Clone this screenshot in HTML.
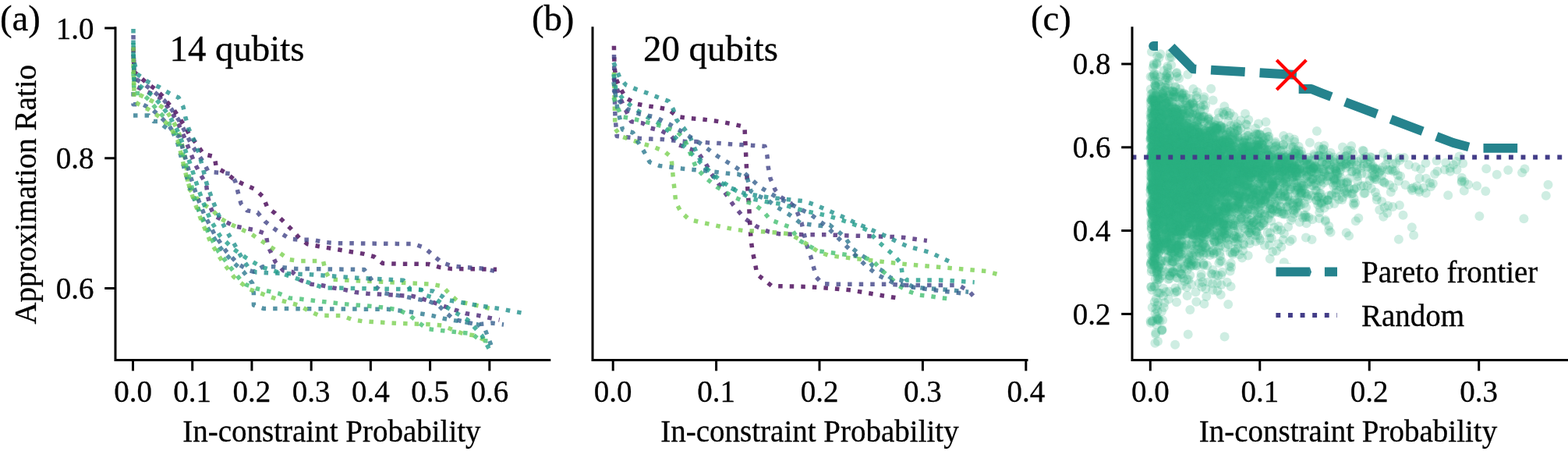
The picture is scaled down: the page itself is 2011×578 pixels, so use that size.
<!DOCTYPE html>
<html><head><meta charset="utf-8"><title>Figure</title>
<style>
html,body{margin:0;padding:0;background:#fff;overflow:hidden}
svg{display:block}
.t{font-family:'Liberation Serif', 'Times New Roman', serif;font-size:39px;fill:#000;stroke:#000;stroke-width:0.3px}
circle{r:6px}
.L{font-family:'Liberation Serif', 'Times New Roman', serif;font-size:46.8px;fill:#000;stroke:#000;stroke-width:0.3px}
</style></head><body>
<svg width="2011" height="578" viewBox="0 0 2011 578">
<defs>
<clipPath id="ca"><rect x="148.0" y="0" width="556.8" height="461.5"/></clipPath>
<clipPath id="cb"><rect x="760.0" y="0" width="557.0" height="461.5"/></clipPath>
<clipPath id="cc"><rect x="1452.0" y="35.8" width="561.0" height="425.7"/></clipPath>
</defs>
<rect width="2011" height="578" fill="#fff"/>
<g clip-path="url(#ca)" fill="none" stroke-width="5.5" stroke-dasharray="5.50 9.07" stroke-linejoin="round" opacity="1">
<path d="M171.0 62.0 L172.0 92.0 L187.7 106.0 L199.8 114.6 L208.4 123.3 L215.4 131.9 L224.0 142.3 L231.0 152.7 L237.9 163.0 L243.0 172.7 L251.7 183.8 L260.8 197.4 L275.0 200.8 L277.5 214.9 L289.6 221.4 L301.7 231.1 L313.8 236.7 L327.1 242.5 L337.5 252.2 L342.8 265.7 L353.0 273.5 L363.6 283.8 L373.3 293.4 L383.9 305.0 L394.4 312.9 L409.2 315.7 L452.0 323.0 L466.6 325.4 L479.9 329.0 L490.8 337.5 L505.8 338.0 L549.6 338.5 L563.5 342.4 L578.2 344.4 L637.0 345.3" stroke="#440154" stroke-opacity="0.8"/>
<path d="M171.0 45.0 L172.0 100.0 L185.0 108.0 L198.0 118.0 L210.0 128.0 L220.0 140.0 L230.0 155.0 L238.0 170.0 L246.0 186.0 L254.0 198.0 L260.5 207.0 L267.3 220.2 L281.8 221.4 L295.6 222.6 L301.7 232.3 L305.3 246.8 L309.0 260.9 L316.9 269.8 L330.2 272.2 L339.7 283.6 L350.7 292.5 L361.5 299.7 L372.0 306.3 L387.2 307.3 L401.2 307.3 L415.0 310.2 L429.0 311.6 L530.7 312.6 L544.3 317.4 L554.9 326.6 L566.2 336.2 L578.8 340.6 L593.5 342.4 L622.4 344.4 L637.0 348.2" stroke="#414487" stroke-opacity="0.8"/>
<path d="M171.0 70.0 L173.0 110.0 L190.0 118.0 L205.0 125.0 L216.0 138.0 L226.0 153.0 L234.0 170.0 L242.0 190.0 L250.0 210.0 L258.0 225.0 L264.5 235.9 L266.2 250.4 L269.5 264.5 L274.4 276.0 L287.5 283.3 L300.7 289.8 L314.8 292.5 L328.7 295.1 L341.1 299.7 L343.4 314.8 L353.3 335.9 L363.2 346.7 L374.7 348.4 L385.2 358.9 L399.3 364.2 L413.3 365.8 L427.8 369.0 L442.4 371.4 L456.4 374.6 L470.9 376.3 L485.2 377.0 L514.3 378.7 L528.8 379.4 L543.3 383.5 L556.1 387.6 L570.6 392.9 L584.1 397.4 L598.0 401.8 L612.6 404.1 L626.5 407.1 L640.6 410.0" stroke="#482475" stroke-opacity="0.8"/>
<path d="M171.0 82.0 L172.0 118.0 L186.0 125.0 L200.0 132.0 L212.0 140.0 L222.0 155.0 L230.0 172.0 L236.0 195.0 L240.0 220.0 L241.0 240.0 L251.4 253.0 L262.9 262.9 L272.7 269.5 L282.6 280.0 L295.8 287.5 L308.9 293.5 L322.1 299.7 L334.6 308.3 L346.7 316.2 L358.2 323.7 L370.7 332.6 L384.6 334.6 L414.5 334.4 L417.4 347.2 L423.0 358.1 L553.7 364.1 L567.6 367.0 L577.4 377.6 L587.6 386.5 L602.4 389.4 L615.6 392.4 L630.3 395.9" stroke="#7ad151" stroke-opacity="0.8"/>
<path d="M171.0 37.0 L171.0 75.0 L176.0 95.0 L190.0 105.0 L205.0 112.0 L218.0 120.0 L229.0 125.0 L235.0 137.0 L238.0 151.0 L242.0 165.0 L249.0 180.0 L255.0 196.0 L260.0 215.0 L265.0 235.0 L272.0 255.0 L280.0 275.0 L290.0 295.0 L300.0 312.0 L310.0 330.0 L320.0 345.0 L328.7 349.0 L401.2 352.0 L444.8 355.2 L459.3 356.2 L517.4 359.3 L525.9 370.2 L555.0 373.0 L567.0 379.7 L571.5 384.0 L585.3 386.5 L613.5 391.5 L643.0 395.9 L657.0 398.8 L675.0 402.0" stroke="#21918c" stroke-opacity="0.8"/>
<path d="M171.0 118.0 L171.0 133.8 L183.0 133.8 L195.0 140.0 L206.0 150.0 L216.0 160.0 L224.0 172.0 L230.0 175.0 L237.0 200.0 L244.0 225.0 L252.0 250.0 L262.0 275.0 L275.0 300.0 L290.0 322.0 L305.0 338.0 L318.0 346.0 L325.4 348.4 L336.9 341.8 L351.0 341.8 L379.6 344.4 L467.3 345.5 L473.8 354.5 L481.8 367.3 L492.0 375.5 L506.5 378.0 L521.0 380.4 L535.6 383.5 L550.0 386.0 L562.6 391.5 L571.5 400.3 L581.8 409.1 L598.0 413.0 L612.0 415.9 L631.0 414.0 L646.0 416.0" stroke="#355f8d" stroke-opacity="0.8"/>
<path d="M171.0 148.0 L191.0 148.0 L197.0 155.6 L203.0 155.6 L211.0 162.0 L222.0 170.0 L228.0 184.0 L232.0 200.0 L238.0 222.0 L245.0 245.0 L255.0 270.0 L268.0 295.0 L283.0 318.0 L298.0 335.0 L312.0 348.0 L320.0 358.0 L323.7 363.2 L325.4 376.3 L325.4 391.1 L337.9 395.4 L497.3 396.3 L511.8 398.0 L526.4 399.7 L540.9 402.2 L554.9 404.6 L569.0 408.2 L582.4 410.6 L598.0 413.0 L612.6 415.9 L622.4 423.0 L632.6 449.4" stroke="#2a788e" stroke-opacity="0.8"/>
<path d="M171.0 92.0 L172.0 119.5 L182.0 119.5 L191.0 128.0 L201.0 140.0 L212.0 152.0 L225.0 170.0 L232.0 190.0 L238.0 210.0 L244.0 232.0 L250.0 255.0 L258.0 278.0 L268.0 300.0 L280.0 322.0 L295.0 342.0 L308.0 358.0 L315.5 364.8 L328.7 369.8 L343.4 373.0 L358.2 376.3 L371.4 381.9 L382.9 382.9 L397.0 384.6 L440.5 389.5 L455.2 390.8 L484.2 393.2 L498.0 394.9 L511.8 397.3 L525.4 404.1 L536.8 413.3 L548.0 421.5 L576.5 424.7 L605.3 427.6 L615.6 436.2 L625.9 437.0" stroke="#44bf70" stroke-opacity="0.8"/>
<path d="M171.0 60.0 L172.0 130.0 L178.0 133.6 L190.0 140.0 L205.0 150.0 L218.0 162.0 L228.0 180.0 L234.0 205.0 L240.0 230.0 L248.0 255.0 L258.0 282.0 L270.0 310.0 L285.0 335.0 L300.0 355.0 L318.0 370.0 L340.0 378.0 L360.0 385.0 L382.9 391.1 L396.1 398.4 L409.2 404.3 L438.7 404.6 L451.3 409.4 L465.4 411.8 L508.9 414.3 L552.5 415.7 L566.5 417.0 L580.3 422.4 L593.5 427.6 L607.6 429.7 L621.5 435.6" stroke="#7ad151" stroke-opacity="0.8"/>
<path d="M171.0 55.0 L172.0 105.0 L182.0 112.0 L195.0 122.0 L207.0 135.0 L218.0 150.0 L228.0 168.0 L236.0 188.0 L244.0 210.0 L252.0 235.0 L260.0 258.0 L270.0 282.0 L282.0 302.0 L298.0 318.0 L315.0 330.0 L335.0 342.0 L360.0 350.0 L403.6 364.9 L415.7 369.0 L430.3 369.0 L518.1 370.7 L540.4 371.4 L542.8 377.5 L556.9 381.8 L575.0 395.0 L600.0 410.0 L618.0 430.0 L630.0 452.0" stroke="#1f9e89" stroke-opacity="0.8"/>
</g>
<g clip-path="url(#cb)" fill="none" stroke-width="5.5" stroke-dasharray="5.50 9.07" stroke-linejoin="round" opacity="1">
<path d="M787.4 58.7 L788.0 85.0 L790.0 101.0 L795.8 113.5 L802.7 125.5 L815.2 132.9 L829.0 135.7 L843.7 137.6 L857.5 140.4 L869.2 149.6 L883.6 151.5 L897.7 152.6 L912.7 154.3 L926.8 156.5 L941.2 159.3 L955.0 162.6 L955.6 177.3 L956.4 191.9 L957.0 206.3 L957.8 220.7 L958.4 236.1 L959.5 251.4 L960.7 264.7 L961.4 279.9 L962.2 293.2 L963.3 308.4 L965.2 322.5 L968.3 336.9 L970.9 351.4 L980.4 359.0 L990.0 366.6 L1033.7 367.4 L1063.0 369.3 L1091.5 371.9 L1120.4 376.9 L1149.7 381.8" stroke="#440154" stroke-opacity="0.8"/>
<path d="M787.0 100.0 L795.0 125.0 L809.6 155.9 L824.3 157.9 L834.6 164.2 L848.4 167.6 L860.9 174.5 L870.6 185.6 L885.8 191.1 L896.9 198.0 L905.2 209.7 L912.1 222.4 L920.4 234.0 L928.7 245.1 L940.0 262.0 L955.0 280.0 L970.9 290.5 L986.1 297.0 L999.4 299.7 L1029.9 300.8 L1060.3 300.8 L1087.7 301.9 L1116.2 302.7 L1145.9 303.5 L1160.0 304.6 L1174.4 306.5 L1188.9 308.4" stroke="#482475" stroke-opacity="0.8"/>
<path d="M787.5 70.0 L788.0 110.0 L789.0 150.0 L791.1 174.5 L805.5 175.9 L820.2 177.3 L834.6 178.1 L849.2 178.6 L863.6 180.0 L878.9 181.4 L892.7 181.4 L907.4 182.8 L921.8 183.6 L936.5 184.7 L950.9 185.6 L965.6 186.4 L981.0 187.5 L984.0 200.0 L985.2 213.7 L988.1 229.0 L994.3 243.6 L1001.4 252.5 L1013.9 260.1 L1022.3 271.5 L1028.0 285.6 L1034.4 313.4 L1039.4 327.4 L1043.2 341.5 L1047.0 355.2 L1054.6 363.6 L1069.8 364.3 L1142.1 364.3 L1157.3 365.5 L1229.6 365.5 L1242.9 373.1 L1251.6 383.3" stroke="#414487" stroke-opacity="0.8"/>
<path d="M787.5 92.8 L788.3 135.7 L788.9 164.8 L795.8 174.5 L809.6 179.2 L824.3 184.2 L838.2 188.3 L852.0 193.9 L860.9 201.4 L862.3 216.0 L863.6 230.4 L865.3 244.9 L866.8 259.4 L873.3 271.5 L883.7 281.2 L897.5 284.6 L912.1 287.7 L926.6 290.9 L941.1 293.8 L954.9 295.7 L969.4 296.2 L984.0 297.2 L998.5 298.2 L1013.0 299.9 L1027.1 307.8 L1038.0 315.1 L1049.7 322.5 L1063.0 327.4 L1077.4 329.3 L1106.0 332.4 L1135.2 335.8 L1163.8 338.8 L1193.4 341.5 L1222.0 343.8 L1250.5 346.4 L1265.0 347.6 L1279.0 351.4" stroke="#7ad151" stroke-opacity="0.8"/>
<path d="M787.0 80.0 L795.0 100.0 L802.7 108.8 L816.0 114.4 L829.8 119.1 L843.7 124.6 L857.5 129.6 L863.6 140.4 L867.8 153.7 L877.5 164.8 L885.8 177.3 L895.0 200.0 L910.0 222.0 L930.0 238.0 L955.0 248.0 L988.0 253.3 L1017.7 256.3 L1031.8 257.8 L1045.9 262.8 L1059.5 268.5 L1072.5 274.2 L1085.8 279.9 L1099.1 286.7 L1112.8 292.1 L1125.7 298.1 L1138.3 303.5 L1151.6 310.3 L1164.9 316.0 L1179.4 319.8 L1193.4 323.6 L1206.8 330.1 L1220.1 336.2" stroke="#21918c" stroke-opacity="0.8"/>
<path d="M787.0 95.0 L790.0 115.0 L800.0 128.0 L815.0 140.0 L830.0 150.0 L845.0 158.0 L860.0 170.0 L875.0 185.0 L890.0 200.0 L905.0 215.0 L925.0 232.0 L945.0 245.0 L965.0 255.0 L985.0 259.0 L1003.3 261.6 L1018.5 266.6 L1031.8 270.4 L1045.9 273.0 L1059.5 276.1 L1072.5 279.9 L1086.9 284.4 L1100.2 289.4 L1112.8 295.1 L1125.0 308.4 L1135.6 317.9 L1147.0 327.4 L1155.4 337.7 L1157.3 351.4 L1163.0 359.0 L1205.6 359.0 L1220.8 359.8 L1249.7 361.7" stroke="#1f9e89" stroke-opacity="0.8"/>
<path d="M787.0 105.0 L792.0 140.0 L798.5 166.2 L811.6 169.8 L818.0 181.4 L826.2 194.7 L833.2 207.7 L845.6 212.4 L859.5 214.1 L874.2 216.0 L888.6 217.4 L902.4 218.8 L916.3 220.2 L931.5 222.1 L946.0 223.1 L958.1 227.2 L963.0 245.0 L971.4 250.7 L983.5 255.5 L995.1 264.7 L1007.7 272.0 L1018.6 279.3 L1026.6 286.0 L1041.3 288.2 L1054.6 289.4 L1064.1 288.2 L1069.8 293.2 L1075.5 297.0 L1083.1 303.5 L1093.8 318.7 L1102.1 325.5 L1111.7 331.2 L1119.3 340.7 L1130.7 346.4 L1142.1 356.0 L1155.4 359.0 L1170.6 367.4 L1185.0 369.3 L1213.6 371.2 L1242.1 374.2" stroke="#2a788e" stroke-opacity="0.8"/>
<path d="M787.0 125.0 L797.2 149.6 L812.4 152.3 L826.2 155.9 L840.1 159.3 L854.8 163.4 L868.6 169.0 L878.0 178.1 L881.6 187.5 L888.0 203.0 L892.7 214.7 L905.0 228.0 L920.0 240.0 L940.0 252.0 L951.9 257.1 L967.1 261.6 L978.5 270.4 L988.0 281.8 L1001.4 286.7 L1013.9 291.3 L1024.2 307.6 L1035.6 314.1 L1049.7 321.7 L1075.0 325.0 L1106.0 329.3 L1119.3 333.9 L1130.7 346.4 L1142.1 356.0 L1151.6 365.5 L1164.9 373.1 L1178.2 378.0 L1192.7 379.5 L1206.8 381.8 L1220.8 383.3" stroke="#44bf70" stroke-opacity="0.8"/>
<path d="M787.0 115.0 L795.0 130.0 L805.0 140.0 L820.0 146.0 L840.0 150.0 L860.0 160.0 L880.0 172.0 L900.0 185.0 L920.0 200.0 L940.0 212.0 L955.0 222.0 L975.0 240.0 L995.0 252.0 L1015.0 262.0 L1040.0 275.0 L1060.0 290.0 L1080.0 310.0 L1095.0 325.0 L1110.0 340.0 L1125.0 352.0 L1145.0 362.0 L1170.0 368.0 L1200.0 372.0 L1235.0 376.0" stroke="#355f8d" stroke-opacity="0.8"/>
</g>
<g clip-path="url(#cc)" fill="#2cb280" fill-opacity="0.23" class="s">
<circle cx="1492.8" cy="162.3"/>
<circle cx="1666.0" cy="199.4"/>
<circle cx="1568.6" cy="271.8"/>
<circle cx="1493.9" cy="194.5"/>
<circle cx="1481.2" cy="299.5"/>
<circle cx="1618.5" cy="230.8"/>
<circle cx="1527.8" cy="256.3"/>
<circle cx="1790.3" cy="208.9"/>
<circle cx="1665.2" cy="241.5"/>
<circle cx="1601.8" cy="288.4"/>
<circle cx="1567.6" cy="348.7"/>
<circle cx="1526.0" cy="291.8"/>
<circle cx="1653.5" cy="218.4"/>
<circle cx="1545.7" cy="180.2"/>
<circle cx="1538.5" cy="197.3"/>
<circle cx="1637.8" cy="215.5"/>
<circle cx="1667.6" cy="240.6"/>
<circle cx="1618.3" cy="221.7"/>
<circle cx="1526.4" cy="250.0"/>
<circle cx="1508.8" cy="291.2"/>
<circle cx="1595.5" cy="207.7"/>
<circle cx="1506.7" cy="287.2"/>
<circle cx="1684.2" cy="214.9"/>
<circle cx="1674.3" cy="275.8"/>
<circle cx="1599.4" cy="220.7"/>
<circle cx="1532.8" cy="194.7"/>
<circle cx="1482.9" cy="162.1"/>
<circle cx="1545.3" cy="278.2"/>
<circle cx="1553.4" cy="230.2"/>
<circle cx="1507.0" cy="178.8"/>
<circle cx="1569.3" cy="283.3"/>
<circle cx="1549.7" cy="197.5"/>
<circle cx="1540.0" cy="212.6"/>
<circle cx="1535.7" cy="204.9"/>
<circle cx="1541.9" cy="246.3"/>
<circle cx="1985.5" cy="236.8"/>
<circle cx="1503.8" cy="213.6"/>
<circle cx="1736.6" cy="262.8"/>
<circle cx="1513.0" cy="185.1"/>
<circle cx="1550.3" cy="224.3"/>
<circle cx="1577.1" cy="203.9"/>
<circle cx="1608.2" cy="243.0"/>
<circle cx="1623.7" cy="211.8"/>
<circle cx="1568.6" cy="208.8"/>
<circle cx="1590.5" cy="236.1"/>
<circle cx="1619.2" cy="205.8"/>
<circle cx="1547.2" cy="258.2"/>
<circle cx="1533.3" cy="231.7"/>
<circle cx="1478.7" cy="157.1"/>
<circle cx="1541.7" cy="200.9"/>
<circle cx="1628.6" cy="213.9"/>
<circle cx="1532.1" cy="203.5"/>
<circle cx="1508.1" cy="154.9"/>
<circle cx="1557.0" cy="201.8"/>
<circle cx="1603.0" cy="181.7"/>
<circle cx="1567.3" cy="164.0"/>
<circle cx="1607.4" cy="239.5"/>
<circle cx="1533.9" cy="248.6"/>
<circle cx="1572.6" cy="291.2"/>
<circle cx="1500.7" cy="244.1"/>
<circle cx="1645.8" cy="234.5"/>
<circle cx="1576.7" cy="189.3"/>
<circle cx="1572.9" cy="260.5"/>
<circle cx="1541.6" cy="186.9"/>
<circle cx="1546.5" cy="183.0"/>
<circle cx="1568.8" cy="216.4"/>
<circle cx="1506.6" cy="179.0"/>
<circle cx="1620.7" cy="211.8"/>
<circle cx="1609.4" cy="264.4"/>
<circle cx="1734.5" cy="219.3"/>
<circle cx="1551.8" cy="207.1"/>
<circle cx="1614.9" cy="212.7"/>
<circle cx="1545.1" cy="288.1"/>
<circle cx="1601.8" cy="192.5"/>
<circle cx="1526.6" cy="281.6"/>
<circle cx="1627.8" cy="245.8"/>
<circle cx="1594.1" cy="321.3"/>
<circle cx="1537.8" cy="245.7"/>
<circle cx="1549.3" cy="200.0"/>
<circle cx="1480.9" cy="192.4"/>
<circle cx="1546.2" cy="262.6"/>
<circle cx="1499.5" cy="213.0"/>
<circle cx="1590.0" cy="200.2"/>
<circle cx="1603.5" cy="215.6"/>
<circle cx="1586.8" cy="267.1"/>
<circle cx="1574.5" cy="215.4"/>
<circle cx="1499.7" cy="263.2"/>
<circle cx="1476.2" cy="200.9"/>
<circle cx="1623.7" cy="195.3"/>
<circle cx="1552.1" cy="217.1"/>
<circle cx="1477.4" cy="240.0"/>
<circle cx="1489.7" cy="210.9"/>
<circle cx="1608.1" cy="181.9"/>
<circle cx="1509.2" cy="210.5"/>
<circle cx="1520.6" cy="254.4"/>
<circle cx="1545.4" cy="317.3"/>
<circle cx="1489.8" cy="180.7"/>
<circle cx="1561.5" cy="211.3"/>
<circle cx="1486.3" cy="126.9"/>
<circle cx="1525.1" cy="221.5"/>
<circle cx="1538.6" cy="182.4"/>
<circle cx="1582.5" cy="149.2"/>
<circle cx="1499.6" cy="284.3"/>
<circle cx="1528.7" cy="278.9"/>
<circle cx="1556.4" cy="210.3"/>
<circle cx="1490.5" cy="177.3"/>
<circle cx="1571.0" cy="198.2"/>
<circle cx="1551.1" cy="191.1"/>
<circle cx="1516.9" cy="273.9"/>
<circle cx="1515.6" cy="233.5"/>
<circle cx="1681.8" cy="220.2"/>
<circle cx="1496.7" cy="307.3"/>
<circle cx="1719.5" cy="227.7"/>
<circle cx="1570.8" cy="269.5"/>
<circle cx="1480.9" cy="194.3"/>
<circle cx="1597.5" cy="253.3"/>
<circle cx="1530.1" cy="319.8"/>
<circle cx="1577.9" cy="196.6"/>
<circle cx="1626.1" cy="198.2"/>
<circle cx="1504.1" cy="183.3"/>
<circle cx="1551.1" cy="247.2"/>
<circle cx="1606.7" cy="213.8"/>
<circle cx="1486.7" cy="156.5"/>
<circle cx="1513.3" cy="328.1"/>
<circle cx="1476.2" cy="283.1"/>
<circle cx="1510.1" cy="356.2"/>
<circle cx="1518.3" cy="191.6"/>
<circle cx="1496.3" cy="208.9"/>
<circle cx="1554.8" cy="245.4"/>
<circle cx="1532.8" cy="211.0"/>
<circle cx="1954.4" cy="280.3"/>
<circle cx="1553.7" cy="197.5"/>
<circle cx="1549.5" cy="224.5"/>
<circle cx="1567.1" cy="215.5"/>
<circle cx="1503.2" cy="204.5"/>
<circle cx="1725.8" cy="210.2"/>
<circle cx="1545.5" cy="214.6"/>
<circle cx="1769.8" cy="220.5"/>
<circle cx="1483.7" cy="208.8"/>
<circle cx="1483.0" cy="212.2"/>
<circle cx="1517.8" cy="190.7"/>
<circle cx="1520.3" cy="201.1"/>
<circle cx="1672.7" cy="228.9"/>
<circle cx="1610.1" cy="295.3"/>
<circle cx="1477.1" cy="227.2"/>
<circle cx="1525.5" cy="143.1"/>
<circle cx="1483.5" cy="170.0"/>
<circle cx="1615.5" cy="192.8"/>
<circle cx="1785.1" cy="217.2"/>
<circle cx="1505.3" cy="234.0"/>
<circle cx="1495.3" cy="208.7"/>
<circle cx="1736.6" cy="207.0"/>
<circle cx="1559.0" cy="188.2"/>
<circle cx="1481.7" cy="305.2"/>
<circle cx="1525.0" cy="226.9"/>
<circle cx="1504.4" cy="236.9"/>
<circle cx="1512.9" cy="262.9"/>
<circle cx="1587.3" cy="312.6"/>
<circle cx="1780.3" cy="263.8"/>
<circle cx="1577.8" cy="323.6"/>
<circle cx="1613.1" cy="210.4"/>
<circle cx="1475.9" cy="265.6"/>
<circle cx="1555.2" cy="175.2"/>
<circle cx="1531.8" cy="230.9"/>
<circle cx="1592.3" cy="193.4"/>
<circle cx="1477.5" cy="188.3"/>
<circle cx="1541.9" cy="216.8"/>
<circle cx="1488.7" cy="272.3"/>
<circle cx="1581.7" cy="220.6"/>
<circle cx="1735.7" cy="260.8"/>
<circle cx="1543.4" cy="196.7"/>
<circle cx="1619.8" cy="220.9"/>
<circle cx="1626.0" cy="247.9"/>
<circle cx="1499.5" cy="121.2"/>
<circle cx="1528.3" cy="281.4"/>
<circle cx="1594.1" cy="240.1"/>
<circle cx="1532.2" cy="225.3"/>
<circle cx="1483.3" cy="256.3"/>
<circle cx="1496.6" cy="277.4"/>
<circle cx="1480.4" cy="175.6"/>
<circle cx="1640.7" cy="233.6"/>
<circle cx="1513.2" cy="177.7"/>
<circle cx="1529.7" cy="217.6"/>
<circle cx="1538.7" cy="216.8"/>
<circle cx="1508.8" cy="93.9"/>
<circle cx="1561.2" cy="225.1"/>
<circle cx="1481.4" cy="230.9"/>
<circle cx="1612.1" cy="221.3"/>
<circle cx="1492.2" cy="240.9"/>
<circle cx="1512.8" cy="227.2"/>
<circle cx="1523.4" cy="148.1"/>
<circle cx="1661.3" cy="196.6"/>
<circle cx="1506.9" cy="256.9"/>
<circle cx="1559.2" cy="196.9"/>
<circle cx="1676.8" cy="225.7"/>
<circle cx="1567.5" cy="269.3"/>
<circle cx="1506.1" cy="182.0"/>
<circle cx="1676.2" cy="224.7"/>
<circle cx="1522.9" cy="278.6"/>
<circle cx="1499.9" cy="169.7"/>
<circle cx="1481.9" cy="257.0"/>
<circle cx="1493.3" cy="307.8"/>
<circle cx="1515.5" cy="180.2"/>
<circle cx="1665.7" cy="187.8"/>
<circle cx="1483.0" cy="207.8"/>
<circle cx="1589.3" cy="249.5"/>
<circle cx="1484.7" cy="355.2"/>
<circle cx="1537.2" cy="209.8"/>
<circle cx="1482.5" cy="191.8"/>
<circle cx="1514.5" cy="194.6"/>
<circle cx="1485.4" cy="241.3"/>
<circle cx="1522.0" cy="228.4"/>
<circle cx="1598.0" cy="195.3"/>
<circle cx="1483.2" cy="255.9"/>
<circle cx="1494.5" cy="102.4"/>
<circle cx="1479.8" cy="203.9"/>
<circle cx="1527.0" cy="165.4"/>
<circle cx="1535.4" cy="156.2"/>
<circle cx="1548.3" cy="340.2"/>
<circle cx="1539.2" cy="285.0"/>
<circle cx="1504.6" cy="175.9"/>
<circle cx="1482.2" cy="227.3"/>
<circle cx="1489.6" cy="348.2"/>
<circle cx="1651.3" cy="264.8"/>
<circle cx="1502.2" cy="256.4"/>
<circle cx="1643.6" cy="201.1"/>
<circle cx="1500.6" cy="216.4"/>
<circle cx="1577.2" cy="206.1"/>
<circle cx="1500.8" cy="264.2"/>
<circle cx="1535.5" cy="265.9"/>
<circle cx="1483.6" cy="178.5"/>
<circle cx="1525.8" cy="245.9"/>
<circle cx="1512.7" cy="193.4"/>
<circle cx="1512.5" cy="288.6"/>
<circle cx="1802.4" cy="237.0"/>
<circle cx="1494.9" cy="125.2"/>
<circle cx="1501.9" cy="300.5"/>
<circle cx="1563.6" cy="240.8"/>
<circle cx="1516.9" cy="199.9"/>
<circle cx="1760.1" cy="214.0"/>
<circle cx="1479.7" cy="215.6"/>
<circle cx="1632.2" cy="239.1"/>
<circle cx="1483.8" cy="250.7"/>
<circle cx="1482.2" cy="428.4"/>
<circle cx="1527.7" cy="203.1"/>
<circle cx="1490.6" cy="263.8"/>
<circle cx="1489.1" cy="182.2"/>
<circle cx="1523.1" cy="182.9"/>
<circle cx="1628.8" cy="217.9"/>
<circle cx="1502.6" cy="172.3"/>
<circle cx="1565.0" cy="195.8"/>
<circle cx="1478.7" cy="264.9"/>
<circle cx="1526.0" cy="145.0"/>
<circle cx="1519.5" cy="285.8"/>
<circle cx="1574.5" cy="214.1"/>
<circle cx="1537.5" cy="169.9"/>
<circle cx="1551.2" cy="291.5"/>
<circle cx="1534.9" cy="240.9"/>
<circle cx="1539.5" cy="179.8"/>
<circle cx="1511.6" cy="155.7"/>
<circle cx="1481.3" cy="108.8"/>
<circle cx="1545.2" cy="221.5"/>
<circle cx="1607.6" cy="207.0"/>
<circle cx="1555.4" cy="228.4"/>
<circle cx="1511.6" cy="185.1"/>
<circle cx="1551.4" cy="313.6"/>
<circle cx="1500.0" cy="239.1"/>
<circle cx="1598.4" cy="195.5"/>
<circle cx="1794.9" cy="263.1"/>
<circle cx="1517.4" cy="204.8"/>
<circle cx="1518.2" cy="197.2"/>
<circle cx="1547.7" cy="185.5"/>
<circle cx="1515.3" cy="176.1"/>
<circle cx="1562.1" cy="353.3"/>
<circle cx="1574.4" cy="218.2"/>
<circle cx="1504.1" cy="348.7"/>
<circle cx="1532.8" cy="209.2"/>
<circle cx="1563.9" cy="200.3"/>
<circle cx="1535.0" cy="292.9"/>
<circle cx="1478.0" cy="139.5"/>
<circle cx="1526.4" cy="210.3"/>
<circle cx="1524.1" cy="226.1"/>
<circle cx="1535.7" cy="279.5"/>
<circle cx="1631.2" cy="236.4"/>
<circle cx="1664.1" cy="272.7"/>
<circle cx="1776.0" cy="234.4"/>
<circle cx="1514.3" cy="176.8"/>
<circle cx="1580.3" cy="280.8"/>
<circle cx="1536.6" cy="285.7"/>
<circle cx="1658.2" cy="268.7"/>
<circle cx="1620.9" cy="244.2"/>
<circle cx="1497.5" cy="187.8"/>
<circle cx="1618.3" cy="222.0"/>
<circle cx="1618.3" cy="199.0"/>
<circle cx="1795.2" cy="205.5"/>
<circle cx="1583.7" cy="170.8"/>
<circle cx="1526.7" cy="276.4"/>
<circle cx="1481.3" cy="200.2"/>
<circle cx="1704.0" cy="199.2"/>
<circle cx="1483.5" cy="286.2"/>
<circle cx="1486.8" cy="268.5"/>
<circle cx="1497.6" cy="329.9"/>
<circle cx="1554.3" cy="268.3"/>
<circle cx="1481.6" cy="337.7"/>
<circle cx="1506.6" cy="173.6"/>
<circle cx="1517.0" cy="296.6"/>
<circle cx="1605.3" cy="222.0"/>
<circle cx="1514.8" cy="145.6"/>
<circle cx="1631.4" cy="200.9"/>
<circle cx="1478.1" cy="241.0"/>
<circle cx="1497.9" cy="130.0"/>
<circle cx="1611.8" cy="185.9"/>
<circle cx="1526.3" cy="250.4"/>
<circle cx="1509.2" cy="193.5"/>
<circle cx="1529.5" cy="220.9"/>
<circle cx="1628.2" cy="244.3"/>
<circle cx="1602.8" cy="254.3"/>
<circle cx="1513.4" cy="217.3"/>
<circle cx="1498.0" cy="278.6"/>
<circle cx="1536.7" cy="249.6"/>
<circle cx="1480.7" cy="233.5"/>
<circle cx="1730.1" cy="213.3"/>
<circle cx="1535.0" cy="166.7"/>
<circle cx="1526.3" cy="254.4"/>
<circle cx="1532.3" cy="207.9"/>
<circle cx="1519.2" cy="167.4"/>
<circle cx="1557.9" cy="220.1"/>
<circle cx="1576.0" cy="211.5"/>
<circle cx="1541.8" cy="149.6"/>
<circle cx="1486.8" cy="296.2"/>
<circle cx="1489.6" cy="201.9"/>
<circle cx="1507.2" cy="151.4"/>
<circle cx="1495.5" cy="263.3"/>
<circle cx="1562.1" cy="194.3"/>
<circle cx="1518.2" cy="166.2"/>
<circle cx="1495.6" cy="245.2"/>
<circle cx="1634.9" cy="214.6"/>
<circle cx="1537.2" cy="250.7"/>
<circle cx="1591.7" cy="197.5"/>
<circle cx="1526.6" cy="216.8"/>
<circle cx="1579.4" cy="218.4"/>
<circle cx="1522.6" cy="228.3"/>
<circle cx="1677.3" cy="210.0"/>
<circle cx="1480.2" cy="263.2"/>
<circle cx="1596.5" cy="221.3"/>
<circle cx="1477.3" cy="163.0"/>
<circle cx="1763.9" cy="216.8"/>
<circle cx="1570.2" cy="227.7"/>
<circle cx="1617.1" cy="269.2"/>
<circle cx="1652.3" cy="216.1"/>
<circle cx="1488.5" cy="199.6"/>
<circle cx="1596.7" cy="213.0"/>
<circle cx="1484.7" cy="182.5"/>
<circle cx="1552.9" cy="208.9"/>
<circle cx="1579.6" cy="201.0"/>
<circle cx="1522.6" cy="378.9"/>
<circle cx="1498.9" cy="276.5"/>
<circle cx="1522.4" cy="190.9"/>
<circle cx="1518.1" cy="184.0"/>
<circle cx="1601.1" cy="231.8"/>
<circle cx="1579.5" cy="271.9"/>
<circle cx="1480.6" cy="238.0"/>
<circle cx="1544.2" cy="312.5"/>
<circle cx="1570.6" cy="260.3"/>
<circle cx="1519.8" cy="226.1"/>
<circle cx="1488.3" cy="333.9"/>
<circle cx="1517.3" cy="228.0"/>
<circle cx="1533.4" cy="170.8"/>
<circle cx="1538.1" cy="163.7"/>
<circle cx="1509.4" cy="92.9"/>
<circle cx="1599.8" cy="220.1"/>
<circle cx="1495.7" cy="204.0"/>
<circle cx="1553.7" cy="203.3"/>
<circle cx="1511.6" cy="234.1"/>
<circle cx="1526.6" cy="251.2"/>
<circle cx="1526.0" cy="279.4"/>
<circle cx="1481.2" cy="146.6"/>
<circle cx="1493.7" cy="233.3"/>
<circle cx="1494.5" cy="311.7"/>
<circle cx="1590.0" cy="212.3"/>
<circle cx="1502.2" cy="350.1"/>
<circle cx="1508.6" cy="265.3"/>
<circle cx="1513.5" cy="165.6"/>
<circle cx="1604.2" cy="226.8"/>
<circle cx="1661.0" cy="247.1"/>
<circle cx="1511.1" cy="154.4"/>
<circle cx="1504.9" cy="269.5"/>
<circle cx="1512.6" cy="176.5"/>
<circle cx="1492.9" cy="151.4"/>
<circle cx="1506.8" cy="295.9"/>
<circle cx="1511.4" cy="277.0"/>
<circle cx="1757.7" cy="207.5"/>
<circle cx="1541.8" cy="165.6"/>
<circle cx="1483.5" cy="348.6"/>
<circle cx="1548.9" cy="174.1"/>
<circle cx="1480.3" cy="328.8"/>
<circle cx="1552.6" cy="155.2"/>
<circle cx="1586.1" cy="222.4"/>
<circle cx="1512.6" cy="238.7"/>
<circle cx="1547.3" cy="229.2"/>
<circle cx="1501.9" cy="207.7"/>
<circle cx="1611.5" cy="297.2"/>
<circle cx="1515.7" cy="156.7"/>
<circle cx="1498.0" cy="197.9"/>
<circle cx="1535.0" cy="160.4"/>
<circle cx="1492.8" cy="311.9"/>
<circle cx="1515.2" cy="169.4"/>
<circle cx="1585.3" cy="243.9"/>
<circle cx="1506.1" cy="139.7"/>
<circle cx="1559.0" cy="179.2"/>
<circle cx="1570.1" cy="293.5"/>
<circle cx="1485.4" cy="255.7"/>
<circle cx="1522.9" cy="186.2"/>
<circle cx="1582.7" cy="250.3"/>
<circle cx="1498.5" cy="275.9"/>
<circle cx="1479.8" cy="325.6"/>
<circle cx="1555.5" cy="201.2"/>
<circle cx="1481.6" cy="284.7"/>
<circle cx="1508.4" cy="253.4"/>
<circle cx="1517.3" cy="157.6"/>
<circle cx="1713.3" cy="218.8"/>
<circle cx="1513.3" cy="165.6"/>
<circle cx="1681.9" cy="250.5"/>
<circle cx="1559.5" cy="203.8"/>
<circle cx="1536.9" cy="205.2"/>
<circle cx="1663.6" cy="239.6"/>
<circle cx="1532.6" cy="223.9"/>
<circle cx="1509.8" cy="98.1"/>
<circle cx="1587.5" cy="228.6"/>
<circle cx="1535.2" cy="270.3"/>
<circle cx="1475.5" cy="145.2"/>
<circle cx="1640.5" cy="256.8"/>
<circle cx="1595.5" cy="214.9"/>
<circle cx="1507.0" cy="123.9"/>
<circle cx="1579.5" cy="213.0"/>
<circle cx="1526.9" cy="245.3"/>
<circle cx="1584.3" cy="182.4"/>
<circle cx="1551.7" cy="299.4"/>
<circle cx="1552.6" cy="323.5"/>
<circle cx="1529.3" cy="259.7"/>
<circle cx="1712.5" cy="223.0"/>
<circle cx="1481.4" cy="211.5"/>
<circle cx="1548.4" cy="273.4"/>
<circle cx="1519.1" cy="341.6"/>
<circle cx="1493.3" cy="250.4"/>
<circle cx="1609.4" cy="219.3"/>
<circle cx="1535.5" cy="261.0"/>
<circle cx="1504.3" cy="263.4"/>
<circle cx="1556.1" cy="286.4"/>
<circle cx="1548.3" cy="155.0"/>
<circle cx="1570.3" cy="288.0"/>
<circle cx="1608.3" cy="273.5"/>
<circle cx="1540.8" cy="212.5"/>
<circle cx="1521.1" cy="191.4"/>
<circle cx="1532.3" cy="264.8"/>
<circle cx="1598.8" cy="238.2"/>
<circle cx="1876.2" cy="209.6"/>
<circle cx="1719.6" cy="232.2"/>
<circle cx="1514.0" cy="217.4"/>
<circle cx="1483.2" cy="305.3"/>
<circle cx="1510.3" cy="211.4"/>
<circle cx="1652.5" cy="257.9"/>
<circle cx="1484.9" cy="294.1"/>
<circle cx="1594.4" cy="221.3"/>
<circle cx="1535.8" cy="227.5"/>
<circle cx="1494.1" cy="194.8"/>
<circle cx="1593.2" cy="255.9"/>
<circle cx="1502.5" cy="214.3"/>
<circle cx="1483.4" cy="201.0"/>
<circle cx="1490.7" cy="205.6"/>
<circle cx="1544.1" cy="149.0"/>
<circle cx="1538.3" cy="172.6"/>
<circle cx="1516.4" cy="218.1"/>
<circle cx="1483.3" cy="207.2"/>
<circle cx="1480.0" cy="136.5"/>
<circle cx="1504.4" cy="190.0"/>
<circle cx="1552.7" cy="276.1"/>
<circle cx="1532.5" cy="188.1"/>
<circle cx="1494.9" cy="177.3"/>
<circle cx="1511.6" cy="139.3"/>
<circle cx="1640.8" cy="215.1"/>
<circle cx="1539.1" cy="292.8"/>
<circle cx="1551.9" cy="216.8"/>
<circle cx="1581.3" cy="202.9"/>
<circle cx="1480.2" cy="269.8"/>
<circle cx="1515.1" cy="289.8"/>
<circle cx="1484.6" cy="311.8"/>
<circle cx="1479.8" cy="201.1"/>
<circle cx="1484.9" cy="223.6"/>
<circle cx="1499.8" cy="287.8"/>
<circle cx="1585.2" cy="304.0"/>
<circle cx="1607.3" cy="197.6"/>
<circle cx="1620.8" cy="241.9"/>
<circle cx="1616.9" cy="173.3"/>
<circle cx="1556.2" cy="229.0"/>
<circle cx="1608.0" cy="253.2"/>
<circle cx="1503.6" cy="278.4"/>
<circle cx="1530.9" cy="137.4"/>
<circle cx="1576.0" cy="265.9"/>
<circle cx="1519.9" cy="180.5"/>
<circle cx="1739.5" cy="240.7"/>
<circle cx="1484.9" cy="409.4"/>
<circle cx="1487.9" cy="142.4"/>
<circle cx="1569.7" cy="179.5"/>
<circle cx="1654.2" cy="309.3"/>
<circle cx="1485.2" cy="190.1"/>
<circle cx="1477.0" cy="301.7"/>
<circle cx="1509.5" cy="305.2"/>
<circle cx="1483.9" cy="147.8"/>
<circle cx="1610.9" cy="213.5"/>
<circle cx="1586.6" cy="259.1"/>
<circle cx="1608.8" cy="270.2"/>
<circle cx="1577.0" cy="225.1"/>
<circle cx="1481.3" cy="253.6"/>
<circle cx="1558.8" cy="246.8"/>
<circle cx="1623.7" cy="217.2"/>
<circle cx="1488.2" cy="237.4"/>
<circle cx="1571.9" cy="205.1"/>
<circle cx="1479.1" cy="162.8"/>
<circle cx="1545.5" cy="191.1"/>
<circle cx="1522.8" cy="263.6"/>
<circle cx="1501.7" cy="161.8"/>
<circle cx="1503.4" cy="144.5"/>
<circle cx="1587.5" cy="254.7"/>
<circle cx="1489.8" cy="178.6"/>
<circle cx="1559.4" cy="257.4"/>
<circle cx="1499.9" cy="265.1"/>
<circle cx="1646.2" cy="174.1"/>
<circle cx="1527.2" cy="126.4"/>
<circle cx="1549.9" cy="250.0"/>
<circle cx="1490.8" cy="261.1"/>
<circle cx="1550.1" cy="168.1"/>
<circle cx="1529.2" cy="210.7"/>
<circle cx="1495.3" cy="299.7"/>
<circle cx="1551.8" cy="209.3"/>
<circle cx="1477.6" cy="204.5"/>
<circle cx="1640.1" cy="272.1"/>
<circle cx="1819.6" cy="243.5"/>
<circle cx="1558.0" cy="278.0"/>
<circle cx="1499.6" cy="230.4"/>
<circle cx="1593.9" cy="225.0"/>
<circle cx="1554.7" cy="183.6"/>
<circle cx="1504.3" cy="256.1"/>
<circle cx="1526.4" cy="224.5"/>
<circle cx="1523.0" cy="279.3"/>
<circle cx="1521.6" cy="231.0"/>
<circle cx="1487.7" cy="228.1"/>
<circle cx="1560.0" cy="167.5"/>
<circle cx="1555.6" cy="206.4"/>
<circle cx="1513.9" cy="202.8"/>
<circle cx="1499.3" cy="199.6"/>
<circle cx="1477.3" cy="228.7"/>
<circle cx="1491.5" cy="144.1"/>
<circle cx="1627.1" cy="205.6"/>
<circle cx="1534.8" cy="270.5"/>
<circle cx="1485.2" cy="205.9"/>
<circle cx="1877.8" cy="244.5"/>
<circle cx="1596.8" cy="219.7"/>
<circle cx="1654.0" cy="260.3"/>
<circle cx="1511.7" cy="211.4"/>
<circle cx="1476.6" cy="228.5"/>
<circle cx="1536.5" cy="278.7"/>
<circle cx="1593.9" cy="249.5"/>
<circle cx="1536.1" cy="223.4"/>
<circle cx="1648.3" cy="250.5"/>
<circle cx="1504.2" cy="347.8"/>
<circle cx="1660.4" cy="226.3"/>
<circle cx="1484.5" cy="273.3"/>
<circle cx="1545.3" cy="183.8"/>
<circle cx="1487.5" cy="411.0"/>
<circle cx="1495.2" cy="334.0"/>
<circle cx="1518.2" cy="262.3"/>
<circle cx="1487.7" cy="311.0"/>
<circle cx="1476.1" cy="268.8"/>
<circle cx="1476.9" cy="169.2"/>
<circle cx="1639.8" cy="290.1"/>
<circle cx="1544.3" cy="280.4"/>
<circle cx="1537.4" cy="260.1"/>
<circle cx="1546.5" cy="211.4"/>
<circle cx="1531.9" cy="301.0"/>
<circle cx="1544.5" cy="202.5"/>
<circle cx="1505.1" cy="204.9"/>
<circle cx="1534.3" cy="386.8"/>
<circle cx="1609.4" cy="185.0"/>
<circle cx="1483.3" cy="176.0"/>
<circle cx="1524.8" cy="178.3"/>
<circle cx="1496.8" cy="193.3"/>
<circle cx="1477.0" cy="293.4"/>
<circle cx="1516.2" cy="211.5"/>
<circle cx="1538.5" cy="306.6"/>
<circle cx="1546.0" cy="194.0"/>
<circle cx="1476.1" cy="174.9"/>
<circle cx="1608.9" cy="192.7"/>
<circle cx="1558.2" cy="219.5"/>
<circle cx="1572.7" cy="266.6"/>
<circle cx="1507.7" cy="214.7"/>
<circle cx="1557.7" cy="231.5"/>
<circle cx="1706.6" cy="195.7"/>
<circle cx="1645.8" cy="234.2"/>
<circle cx="1502.3" cy="306.0"/>
<circle cx="1563.5" cy="290.0"/>
<circle cx="1559.6" cy="202.4"/>
<circle cx="1552.7" cy="244.8"/>
<circle cx="1508.0" cy="330.7"/>
<circle cx="1539.2" cy="295.2"/>
<circle cx="1489.3" cy="319.5"/>
<circle cx="1483.0" cy="246.9"/>
<circle cx="1599.4" cy="199.1"/>
<circle cx="1503.9" cy="271.1"/>
<circle cx="1491.6" cy="208.3"/>
<circle cx="1654.6" cy="242.7"/>
<circle cx="1625.6" cy="297.9"/>
<circle cx="1490.9" cy="201.3"/>
<circle cx="1553.8" cy="271.9"/>
<circle cx="1475.7" cy="158.7"/>
<circle cx="1574.7" cy="231.2"/>
<circle cx="1650.5" cy="205.1"/>
<circle cx="1510.0" cy="304.6"/>
<circle cx="1648.3" cy="217.3"/>
<circle cx="1616.9" cy="183.0"/>
<circle cx="1532.0" cy="169.1"/>
<circle cx="1513.7" cy="196.8"/>
<circle cx="1510.7" cy="203.1"/>
<circle cx="1557.5" cy="290.8"/>
<circle cx="1604.9" cy="227.1"/>
<circle cx="1486.2" cy="258.1"/>
<circle cx="1615.0" cy="251.7"/>
<circle cx="1634.1" cy="192.4"/>
<circle cx="1558.5" cy="215.4"/>
<circle cx="1479.7" cy="153.3"/>
<circle cx="1485.6" cy="280.3"/>
<circle cx="1551.2" cy="267.5"/>
<circle cx="1495.4" cy="198.9"/>
<circle cx="1614.2" cy="235.7"/>
<circle cx="1522.4" cy="205.6"/>
<circle cx="1564.9" cy="210.1"/>
<circle cx="1599.1" cy="159.9"/>
<circle cx="1491.2" cy="208.0"/>
<circle cx="1488.9" cy="129.6"/>
<circle cx="1551.2" cy="298.0"/>
<circle cx="1570.5" cy="299.6"/>
<circle cx="1512.0" cy="202.7"/>
<circle cx="1482.7" cy="292.7"/>
<circle cx="1519.9" cy="177.3"/>
<circle cx="1589.7" cy="227.3"/>
<circle cx="1514.9" cy="262.1"/>
<circle cx="1501.5" cy="185.5"/>
<circle cx="1499.7" cy="169.6"/>
<circle cx="1524.9" cy="278.9"/>
<circle cx="1555.0" cy="321.0"/>
<circle cx="1623.8" cy="244.7"/>
<circle cx="1529.5" cy="247.7"/>
<circle cx="1762.6" cy="229.8"/>
<circle cx="1525.7" cy="179.8"/>
<circle cx="1488.8" cy="224.8"/>
<circle cx="1491.0" cy="202.7"/>
<circle cx="1610.6" cy="186.4"/>
<circle cx="1621.4" cy="282.3"/>
<circle cx="1548.2" cy="208.9"/>
<circle cx="1516.4" cy="264.6"/>
<circle cx="1481.0" cy="173.4"/>
<circle cx="1481.6" cy="291.7"/>
<circle cx="1513.8" cy="267.3"/>
<circle cx="1479.4" cy="175.2"/>
<circle cx="1493.7" cy="242.0"/>
<circle cx="1534.2" cy="165.6"/>
<circle cx="1489.2" cy="235.5"/>
<circle cx="1500.8" cy="180.8"/>
<circle cx="1705.8" cy="211.4"/>
<circle cx="1506.3" cy="229.9"/>
<circle cx="1492.6" cy="212.7"/>
<circle cx="1497.6" cy="186.3"/>
<circle cx="1503.7" cy="202.0"/>
<circle cx="1543.9" cy="185.8"/>
<circle cx="1558.9" cy="258.2"/>
<circle cx="1514.6" cy="262.8"/>
<circle cx="1601.5" cy="191.0"/>
<circle cx="1541.3" cy="207.7"/>
<circle cx="1556.7" cy="280.3"/>
<circle cx="1496.2" cy="205.6"/>
<circle cx="1550.0" cy="152.8"/>
<circle cx="1491.6" cy="199.2"/>
<circle cx="1558.0" cy="225.1"/>
<circle cx="1730.2" cy="241.3"/>
<circle cx="1519.9" cy="201.3"/>
<circle cx="1503.0" cy="171.1"/>
<circle cx="1477.1" cy="166.6"/>
<circle cx="1632.4" cy="239.9"/>
<circle cx="1533.9" cy="246.0"/>
<circle cx="1511.5" cy="292.0"/>
<circle cx="1611.7" cy="214.3"/>
<circle cx="1522.0" cy="368.2"/>
<circle cx="1607.5" cy="211.5"/>
<circle cx="1512.4" cy="246.4"/>
<circle cx="1688.0" cy="214.5"/>
<circle cx="1594.5" cy="183.0"/>
<circle cx="1632.1" cy="322.5"/>
<circle cx="1596.5" cy="293.1"/>
<circle cx="1613.3" cy="245.0"/>
<circle cx="1497.6" cy="87.4"/>
<circle cx="1579.6" cy="233.5"/>
<circle cx="1500.3" cy="97.2"/>
<circle cx="1565.2" cy="198.9"/>
<circle cx="1491.1" cy="174.8"/>
<circle cx="1511.3" cy="231.0"/>
<circle cx="1660.3" cy="211.3"/>
<circle cx="1515.3" cy="201.0"/>
<circle cx="1531.8" cy="209.9"/>
<circle cx="1691.2" cy="220.8"/>
<circle cx="1498.3" cy="313.4"/>
<circle cx="1508.1" cy="247.0"/>
<circle cx="1641.1" cy="213.9"/>
<circle cx="1521.8" cy="223.6"/>
<circle cx="1618.4" cy="273.8"/>
<circle cx="1522.7" cy="190.3"/>
<circle cx="1480.8" cy="266.0"/>
<circle cx="1520.2" cy="211.4"/>
<circle cx="1611.8" cy="217.5"/>
<circle cx="1500.1" cy="180.0"/>
<circle cx="1594.0" cy="198.6"/>
<circle cx="1555.2" cy="363.4"/>
<circle cx="1517.3" cy="274.3"/>
<circle cx="1492.2" cy="232.4"/>
<circle cx="1528.8" cy="233.0"/>
<circle cx="1572.4" cy="261.6"/>
<circle cx="1486.4" cy="108.5"/>
<circle cx="1479.9" cy="236.1"/>
<circle cx="1607.5" cy="194.8"/>
<circle cx="1609.1" cy="212.1"/>
<circle cx="1510.0" cy="188.0"/>
<circle cx="1604.2" cy="206.4"/>
<circle cx="1489.9" cy="423.4"/>
<circle cx="1529.8" cy="207.5"/>
<circle cx="1520.0" cy="233.0"/>
<circle cx="1532.8" cy="274.5"/>
<circle cx="1657.8" cy="215.9"/>
<circle cx="1534.2" cy="265.1"/>
<circle cx="1614.3" cy="235.1"/>
<circle cx="1516.1" cy="216.6"/>
<circle cx="1503.5" cy="217.1"/>
<circle cx="1485.1" cy="229.5"/>
<circle cx="1483.4" cy="197.2"/>
<circle cx="1568.5" cy="271.4"/>
<circle cx="1580.4" cy="241.3"/>
<circle cx="1546.6" cy="281.0"/>
<circle cx="1919.8" cy="223.7"/>
<circle cx="1534.0" cy="215.1"/>
<circle cx="1590.5" cy="265.2"/>
<circle cx="1560.1" cy="273.5"/>
<circle cx="1498.4" cy="321.3"/>
<circle cx="1503.3" cy="323.6"/>
<circle cx="1497.0" cy="143.3"/>
<circle cx="1495.3" cy="373.9"/>
<circle cx="1573.3" cy="230.7"/>
<circle cx="1710.1" cy="238.1"/>
<circle cx="1556.7" cy="325.7"/>
<circle cx="1479.3" cy="148.0"/>
<circle cx="1723.1" cy="235.0"/>
<circle cx="1717.1" cy="244.1"/>
<circle cx="1681.0" cy="218.8"/>
<circle cx="1544.4" cy="229.7"/>
<circle cx="1554.7" cy="304.3"/>
<circle cx="1486.7" cy="223.4"/>
<circle cx="1534.9" cy="225.1"/>
<circle cx="1484.5" cy="204.7"/>
<circle cx="1599.2" cy="187.8"/>
<circle cx="1526.2" cy="206.9"/>
<circle cx="1536.2" cy="247.9"/>
<circle cx="1480.5" cy="209.2"/>
<circle cx="1482.1" cy="155.6"/>
<circle cx="1644.8" cy="209.6"/>
<circle cx="1528.2" cy="216.6"/>
<circle cx="1597.9" cy="239.4"/>
<circle cx="1592.6" cy="270.6"/>
<circle cx="1482.1" cy="218.7"/>
<circle cx="1526.4" cy="261.7"/>
<circle cx="1498.8" cy="223.8"/>
<circle cx="1557.3" cy="243.4"/>
<circle cx="1606.4" cy="238.6"/>
<circle cx="1561.4" cy="215.3"/>
<circle cx="1536.8" cy="231.8"/>
<circle cx="1508.0" cy="161.1"/>
<circle cx="1505.2" cy="215.7"/>
<circle cx="1535.5" cy="117.9"/>
<circle cx="1547.8" cy="293.5"/>
<circle cx="1483.1" cy="257.8"/>
<circle cx="1573.5" cy="243.1"/>
<circle cx="1597.9" cy="241.1"/>
<circle cx="1549.4" cy="197.9"/>
<circle cx="1551.5" cy="190.1"/>
<circle cx="1480.7" cy="204.4"/>
<circle cx="1514.3" cy="201.4"/>
<circle cx="1480.8" cy="252.6"/>
<circle cx="1552.2" cy="226.6"/>
<circle cx="1905.3" cy="245.0"/>
<circle cx="1479.4" cy="298.9"/>
<circle cx="1602.3" cy="223.0"/>
<circle cx="1864.1" cy="211.2"/>
<circle cx="1510.5" cy="170.3"/>
<circle cx="1570.0" cy="287.8"/>
<circle cx="1488.0" cy="243.0"/>
<circle cx="1499.1" cy="161.2"/>
<circle cx="1786.9" cy="240.4"/>
<circle cx="1531.8" cy="214.2"/>
<circle cx="1580.5" cy="235.7"/>
<circle cx="1497.4" cy="191.3"/>
<circle cx="1510.7" cy="271.6"/>
<circle cx="1481.8" cy="193.7"/>
<circle cx="1653.6" cy="175.9"/>
<circle cx="1484.6" cy="346.7"/>
<circle cx="1571.9" cy="183.0"/>
<circle cx="1539.1" cy="294.7"/>
<circle cx="1578.8" cy="240.8"/>
<circle cx="1490.2" cy="151.7"/>
<circle cx="1503.5" cy="207.2"/>
<circle cx="1524.6" cy="170.8"/>
<circle cx="1627.5" cy="174.7"/>
<circle cx="1592.5" cy="188.4"/>
<circle cx="1519.4" cy="272.0"/>
<circle cx="1478.2" cy="243.8"/>
<circle cx="1515.6" cy="296.4"/>
<circle cx="1662.3" cy="224.9"/>
<circle cx="1543.7" cy="327.3"/>
<circle cx="1489.3" cy="144.9"/>
<circle cx="1476.6" cy="162.7"/>
<circle cx="1509.6" cy="269.7"/>
<circle cx="1514.9" cy="256.2"/>
<circle cx="1523.8" cy="218.1"/>
<circle cx="1513.2" cy="203.5"/>
<circle cx="1760.7" cy="218.1"/>
<circle cx="1516.3" cy="222.6"/>
<circle cx="1720.4" cy="207.6"/>
<circle cx="1495.5" cy="195.0"/>
<circle cx="1565.9" cy="214.1"/>
<circle cx="1538.3" cy="288.5"/>
<circle cx="1509.4" cy="204.6"/>
<circle cx="1506.1" cy="262.7"/>
<circle cx="1568.7" cy="182.5"/>
<circle cx="1490.5" cy="334.5"/>
<circle cx="1678.4" cy="278.4"/>
<circle cx="1498.1" cy="224.2"/>
<circle cx="1496.3" cy="169.3"/>
<circle cx="1645.4" cy="216.2"/>
<circle cx="1513.0" cy="297.3"/>
<circle cx="1726.2" cy="203.6"/>
<circle cx="1494.9" cy="294.1"/>
<circle cx="1532.6" cy="199.7"/>
<circle cx="1509.3" cy="268.0"/>
<circle cx="1571.4" cy="273.6"/>
<circle cx="1553.5" cy="250.3"/>
<circle cx="1487.2" cy="149.7"/>
<circle cx="1714.0" cy="251.7"/>
<circle cx="1589.4" cy="214.4"/>
<circle cx="1483.1" cy="248.7"/>
<circle cx="1541.8" cy="194.5"/>
<circle cx="1519.6" cy="296.0"/>
<circle cx="1715.0" cy="224.6"/>
<circle cx="1544.8" cy="252.6"/>
<circle cx="1508.0" cy="194.1"/>
<circle cx="1503.2" cy="218.8"/>
<circle cx="1525.3" cy="248.2"/>
<circle cx="1485.1" cy="258.0"/>
<circle cx="1542.9" cy="217.9"/>
<circle cx="1499.5" cy="172.7"/>
<circle cx="1720.1" cy="211.0"/>
<circle cx="1502.1" cy="220.9"/>
<circle cx="1569.7" cy="204.2"/>
<circle cx="1607.2" cy="249.4"/>
<circle cx="1483.7" cy="190.1"/>
<circle cx="1578.0" cy="201.2"/>
<circle cx="1771.1" cy="218.5"/>
<circle cx="1628.3" cy="261.7"/>
<circle cx="1550.1" cy="229.3"/>
<circle cx="1493.5" cy="205.9"/>
<circle cx="1529.0" cy="248.3"/>
<circle cx="1555.7" cy="276.6"/>
<circle cx="1659.8" cy="214.2"/>
<circle cx="1642.4" cy="201.7"/>
<circle cx="1555.0" cy="223.7"/>
<circle cx="1539.0" cy="175.5"/>
<circle cx="1499.3" cy="262.2"/>
<circle cx="1563.2" cy="170.9"/>
<circle cx="1619.7" cy="248.3"/>
<circle cx="1712.0" cy="231.5"/>
<circle cx="1534.8" cy="216.4"/>
<circle cx="1605.7" cy="187.5"/>
<circle cx="1568.4" cy="217.1"/>
<circle cx="1557.6" cy="211.9"/>
<circle cx="1487.9" cy="184.0"/>
<circle cx="1574.5" cy="264.8"/>
<circle cx="1490.5" cy="272.6"/>
<circle cx="1511.3" cy="323.9"/>
<circle cx="1541.3" cy="275.2"/>
<circle cx="1544.7" cy="239.9"/>
<circle cx="1557.4" cy="279.0"/>
<circle cx="1497.0" cy="143.3"/>
<circle cx="1524.8" cy="269.2"/>
<circle cx="1789.5" cy="218.9"/>
<circle cx="1490.4" cy="422.2"/>
<circle cx="1488.3" cy="152.2"/>
<circle cx="1683.8" cy="230.1"/>
<circle cx="1491.8" cy="224.8"/>
<circle cx="1484.4" cy="188.5"/>
<circle cx="1532.3" cy="188.1"/>
<circle cx="1608.4" cy="174.7"/>
<circle cx="1494.2" cy="315.7"/>
<circle cx="1559.9" cy="225.6"/>
<circle cx="1575.0" cy="270.9"/>
<circle cx="1537.8" cy="211.7"/>
<circle cx="1535.6" cy="245.9"/>
<circle cx="1484.0" cy="282.7"/>
<circle cx="1509.2" cy="355.8"/>
<circle cx="1481.6" cy="144.3"/>
<circle cx="1483.4" cy="225.9"/>
<circle cx="1529.2" cy="299.4"/>
<circle cx="1551.0" cy="249.9"/>
<circle cx="1485.1" cy="316.4"/>
<circle cx="1657.2" cy="306.8"/>
<circle cx="1485.4" cy="299.7"/>
<circle cx="1584.5" cy="283.1"/>
<circle cx="1514.8" cy="146.1"/>
<circle cx="1555.3" cy="223.4"/>
<circle cx="1658.1" cy="260.2"/>
<circle cx="1574.7" cy="288.6"/>
<circle cx="1529.6" cy="192.6"/>
<circle cx="1512.0" cy="234.4"/>
<circle cx="1539.1" cy="279.6"/>
<circle cx="1476.3" cy="221.8"/>
<circle cx="1568.3" cy="246.9"/>
<circle cx="1524.5" cy="166.6"/>
<circle cx="1566.0" cy="165.5"/>
<circle cx="1600.0" cy="237.1"/>
<circle cx="1521.8" cy="177.4"/>
<circle cx="1498.3" cy="200.8"/>
<circle cx="1522.0" cy="313.5"/>
<circle cx="1475.3" cy="209.8"/>
<circle cx="1540.5" cy="301.9"/>
<circle cx="1526.4" cy="181.7"/>
<circle cx="1687.5" cy="216.3"/>
<circle cx="1607.5" cy="250.4"/>
<circle cx="1515.2" cy="313.3"/>
<circle cx="1663.8" cy="221.2"/>
<circle cx="1522.0" cy="257.8"/>
<circle cx="1504.6" cy="282.8"/>
<circle cx="1490.7" cy="150.3"/>
<circle cx="1537.1" cy="176.2"/>
<circle cx="1520.1" cy="192.9"/>
<circle cx="1523.8" cy="251.2"/>
<circle cx="1554.8" cy="260.2"/>
<circle cx="1544.5" cy="124.2"/>
<circle cx="1553.3" cy="232.3"/>
<circle cx="1587.2" cy="167.6"/>
<circle cx="1506.8" cy="200.4"/>
<circle cx="1595.2" cy="221.0"/>
<circle cx="1570.8" cy="245.2"/>
<circle cx="1555.7" cy="283.5"/>
<circle cx="1584.1" cy="250.6"/>
<circle cx="1500.4" cy="146.9"/>
<circle cx="1481.0" cy="175.7"/>
<circle cx="1560.1" cy="277.5"/>
<circle cx="1590.4" cy="259.0"/>
<circle cx="1677.0" cy="219.0"/>
<circle cx="1524.3" cy="196.5"/>
<circle cx="1786.3" cy="265.0"/>
<circle cx="1527.5" cy="268.9"/>
<circle cx="1551.8" cy="264.4"/>
<circle cx="1545.9" cy="180.3"/>
<circle cx="1684.4" cy="215.5"/>
<circle cx="1654.2" cy="256.8"/>
<circle cx="1545.9" cy="192.2"/>
<circle cx="1533.5" cy="374.2"/>
<circle cx="1519.4" cy="344.0"/>
<circle cx="1646.2" cy="246.2"/>
<circle cx="1516.2" cy="294.8"/>
<circle cx="1493.8" cy="253.1"/>
<circle cx="1482.8" cy="310.5"/>
<circle cx="1547.4" cy="296.9"/>
<circle cx="1553.4" cy="200.9"/>
<circle cx="1562.3" cy="243.7"/>
<circle cx="1493.5" cy="128.0"/>
<circle cx="1547.6" cy="278.7"/>
<circle cx="1487.1" cy="206.7"/>
<circle cx="1698.3" cy="186.5"/>
<circle cx="1601.0" cy="196.0"/>
<circle cx="1626.9" cy="263.2"/>
<circle cx="1600.8" cy="256.4"/>
<circle cx="1490.4" cy="209.7"/>
<circle cx="1523.3" cy="287.4"/>
<circle cx="1513.5" cy="194.8"/>
<circle cx="1792.8" cy="224.4"/>
<circle cx="1561.7" cy="219.4"/>
<circle cx="1536.8" cy="251.4"/>
<circle cx="1558.9" cy="237.7"/>
<circle cx="1534.8" cy="328.6"/>
<circle cx="1587.2" cy="159.0"/>
<circle cx="1525.9" cy="227.4"/>
<circle cx="1728.3" cy="233.3"/>
<circle cx="1822.2" cy="216.8"/>
<circle cx="1483.7" cy="82.2"/>
<circle cx="1520.0" cy="212.6"/>
<circle cx="1494.5" cy="204.6"/>
<circle cx="1566.7" cy="223.2"/>
<circle cx="1513.6" cy="175.2"/>
<circle cx="1575.6" cy="213.5"/>
<circle cx="1489.0" cy="253.5"/>
<circle cx="1499.4" cy="300.4"/>
<circle cx="1557.8" cy="226.6"/>
<circle cx="1506.4" cy="222.4"/>
<circle cx="1482.1" cy="122.2"/>
<circle cx="1481.6" cy="194.0"/>
<circle cx="1485.4" cy="175.1"/>
<circle cx="1591.0" cy="239.2"/>
<circle cx="1505.2" cy="282.5"/>
<circle cx="1528.4" cy="238.0"/>
<circle cx="1504.4" cy="194.0"/>
<circle cx="1717.3" cy="255.7"/>
<circle cx="1504.2" cy="210.4"/>
<circle cx="1523.1" cy="158.6"/>
<circle cx="1684.9" cy="214.1"/>
<circle cx="1497.4" cy="216.2"/>
<circle cx="1569.8" cy="220.6"/>
<circle cx="1485.7" cy="223.6"/>
<circle cx="1481.6" cy="171.5"/>
<circle cx="1524.9" cy="177.2"/>
<circle cx="1490.1" cy="245.2"/>
<circle cx="1485.4" cy="281.4"/>
<circle cx="1592.6" cy="200.4"/>
<circle cx="1491.0" cy="168.1"/>
<circle cx="1506.0" cy="211.6"/>
<circle cx="1515.7" cy="261.3"/>
<circle cx="1502.6" cy="150.3"/>
<circle cx="1558.1" cy="301.3"/>
<circle cx="1506.3" cy="324.7"/>
<circle cx="1500.6" cy="167.2"/>
<circle cx="1588.7" cy="174.1"/>
<circle cx="1519.5" cy="190.4"/>
<circle cx="1521.7" cy="167.2"/>
<circle cx="1643.9" cy="213.3"/>
<circle cx="1541.5" cy="173.0"/>
<circle cx="1529.9" cy="254.6"/>
<circle cx="1511.9" cy="233.2"/>
<circle cx="1539.5" cy="239.1"/>
<circle cx="1500.6" cy="246.8"/>
<circle cx="1488.8" cy="170.8"/>
<circle cx="1528.0" cy="218.8"/>
<circle cx="1622.1" cy="275.1"/>
<circle cx="1575.9" cy="147.9"/>
<circle cx="1506.8" cy="230.4"/>
<circle cx="1527.4" cy="261.8"/>
<circle cx="1476.0" cy="242.1"/>
<circle cx="1669.0" cy="222.2"/>
<circle cx="1502.0" cy="191.0"/>
<circle cx="1486.9" cy="168.4"/>
<circle cx="1504.1" cy="296.1"/>
<circle cx="1512.2" cy="100.5"/>
<circle cx="1509.2" cy="140.8"/>
<circle cx="1564.1" cy="283.5"/>
<circle cx="1541.9" cy="197.4"/>
<circle cx="1506.6" cy="205.5"/>
<circle cx="1522.0" cy="290.5"/>
<circle cx="1487.9" cy="238.9"/>
<circle cx="1480.1" cy="198.6"/>
<circle cx="1481.2" cy="109.3"/>
<circle cx="1552.6" cy="230.0"/>
<circle cx="1567.4" cy="189.5"/>
<circle cx="1556.5" cy="244.7"/>
<circle cx="1526.6" cy="193.3"/>
<circle cx="1499.8" cy="103.5"/>
<circle cx="1503.1" cy="157.2"/>
<circle cx="1615.0" cy="200.0"/>
<circle cx="1501.7" cy="194.4"/>
<circle cx="1488.3" cy="201.6"/>
<circle cx="1553.3" cy="241.4"/>
<circle cx="1543.0" cy="272.0"/>
<circle cx="1556.1" cy="200.9"/>
<circle cx="1507.0" cy="203.9"/>
<circle cx="1513.5" cy="323.8"/>
<circle cx="1711.8" cy="229.5"/>
<circle cx="1496.4" cy="306.1"/>
<circle cx="1576.0" cy="188.4"/>
<circle cx="1721.9" cy="253.1"/>
<circle cx="1567.7" cy="213.0"/>
<circle cx="1519.8" cy="128.7"/>
<circle cx="1488.3" cy="69.3"/>
<circle cx="1763.5" cy="227.2"/>
<circle cx="1534.0" cy="340.1"/>
<circle cx="1499.9" cy="216.3"/>
<circle cx="1508.1" cy="181.1"/>
<circle cx="1555.0" cy="201.8"/>
<circle cx="1516.7" cy="197.6"/>
<circle cx="1563.3" cy="214.4"/>
<circle cx="1690.1" cy="251.9"/>
<circle cx="1577.0" cy="242.9"/>
<circle cx="1485.7" cy="183.0"/>
<circle cx="1497.1" cy="183.1"/>
<circle cx="1532.8" cy="242.7"/>
<circle cx="1541.5" cy="237.0"/>
<circle cx="1627.9" cy="219.6"/>
<circle cx="1516.6" cy="189.8"/>
<circle cx="1488.7" cy="265.9"/>
<circle cx="1528.5" cy="312.3"/>
<circle cx="1510.0" cy="259.2"/>
<circle cx="1495.8" cy="229.7"/>
<circle cx="1493.5" cy="125.0"/>
<circle cx="1539.5" cy="191.6"/>
<circle cx="1501.9" cy="254.4"/>
<circle cx="1519.3" cy="148.3"/>
<circle cx="1638.1" cy="294.6"/>
<circle cx="1516.1" cy="262.7"/>
<circle cx="1619.3" cy="176.0"/>
<circle cx="1600.3" cy="213.5"/>
<circle cx="1496.9" cy="216.2"/>
<circle cx="1537.0" cy="282.5"/>
<circle cx="1522.6" cy="256.9"/>
<circle cx="1551.0" cy="178.3"/>
<circle cx="1494.9" cy="216.7"/>
<circle cx="1482.0" cy="251.1"/>
<circle cx="1542.9" cy="181.0"/>
<circle cx="1509.4" cy="147.6"/>
<circle cx="1587.3" cy="263.7"/>
<circle cx="1550.8" cy="193.2"/>
<circle cx="1641.0" cy="219.3"/>
<circle cx="1550.6" cy="217.5"/>
<circle cx="1491.2" cy="296.4"/>
<circle cx="1533.5" cy="216.9"/>
<circle cx="1485.9" cy="288.1"/>
<circle cx="1495.5" cy="237.9"/>
<circle cx="1575.9" cy="204.1"/>
<circle cx="1593.7" cy="228.1"/>
<circle cx="1555.0" cy="213.0"/>
<circle cx="1541.5" cy="193.2"/>
<circle cx="1612.7" cy="191.6"/>
<circle cx="1584.2" cy="207.9"/>
<circle cx="1531.4" cy="198.9"/>
<circle cx="1511.8" cy="272.9"/>
<circle cx="1775.6" cy="266.1"/>
<circle cx="1558.1" cy="204.0"/>
<circle cx="1485.7" cy="289.1"/>
<circle cx="1576.4" cy="267.9"/>
<circle cx="1516.2" cy="226.3"/>
<circle cx="1662.6" cy="225.9"/>
<circle cx="1606.2" cy="193.6"/>
<circle cx="1518.6" cy="316.9"/>
<circle cx="1575.2" cy="296.2"/>
<circle cx="1646.8" cy="336.3"/>
<circle cx="1604.7" cy="216.2"/>
<circle cx="1522.4" cy="213.9"/>
<circle cx="1500.7" cy="254.0"/>
<circle cx="1591.2" cy="251.6"/>
<circle cx="1493.6" cy="263.2"/>
<circle cx="1500.7" cy="321.8"/>
<circle cx="1528.8" cy="314.6"/>
<circle cx="1479.2" cy="282.3"/>
<circle cx="1506.6" cy="197.7"/>
<circle cx="1511.8" cy="179.4"/>
<circle cx="1489.3" cy="237.6"/>
<circle cx="1613.8" cy="222.7"/>
<circle cx="1549.9" cy="259.7"/>
<circle cx="1721.2" cy="213.1"/>
<circle cx="1534.3" cy="202.5"/>
<circle cx="1502.4" cy="146.3"/>
<circle cx="1521.9" cy="232.5"/>
<circle cx="1563.6" cy="272.1"/>
<circle cx="1550.7" cy="219.9"/>
<circle cx="1542.1" cy="263.0"/>
<circle cx="1506.3" cy="227.2"/>
<circle cx="1498.5" cy="155.4"/>
<circle cx="1488.2" cy="225.8"/>
<circle cx="1653.5" cy="223.9"/>
<circle cx="1489.1" cy="231.2"/>
<circle cx="1596.8" cy="196.2"/>
<circle cx="1621.1" cy="179.7"/>
<circle cx="1642.3" cy="250.6"/>
<circle cx="1496.3" cy="99.6"/>
<circle cx="1483.7" cy="230.1"/>
<circle cx="1631.4" cy="232.7"/>
<circle cx="1599.1" cy="219.5"/>
<circle cx="1484.8" cy="285.7"/>
<circle cx="1535.6" cy="246.3"/>
<circle cx="1561.3" cy="249.0"/>
<circle cx="1485.8" cy="185.8"/>
<circle cx="1613.5" cy="262.6"/>
<circle cx="1536.1" cy="198.8"/>
<circle cx="1664.8" cy="258.5"/>
<circle cx="1557.9" cy="246.3"/>
<circle cx="1509.6" cy="230.5"/>
<circle cx="1519.8" cy="272.4"/>
<circle cx="1561.9" cy="223.5"/>
<circle cx="1693.8" cy="247.8"/>
<circle cx="1563.5" cy="173.1"/>
<circle cx="1673.4" cy="247.6"/>
<circle cx="1569.5" cy="245.7"/>
<circle cx="1560.3" cy="191.1"/>
<circle cx="1616.0" cy="258.8"/>
<circle cx="1559.3" cy="234.0"/>
<circle cx="1495.1" cy="187.5"/>
<circle cx="1560.5" cy="239.5"/>
<circle cx="1505.9" cy="335.6"/>
<circle cx="1491.9" cy="265.7"/>
<circle cx="1578.3" cy="168.4"/>
<circle cx="1530.8" cy="250.7"/>
<circle cx="1477.5" cy="169.4"/>
<circle cx="1491.5" cy="206.3"/>
<circle cx="1539.6" cy="228.5"/>
<circle cx="1522.2" cy="241.5"/>
<circle cx="1482.1" cy="194.9"/>
<circle cx="1484.1" cy="239.2"/>
<circle cx="1504.7" cy="175.4"/>
<circle cx="1497.3" cy="206.3"/>
<circle cx="1513.3" cy="227.1"/>
<circle cx="1512.1" cy="216.7"/>
<circle cx="1648.4" cy="209.6"/>
<circle cx="1600.5" cy="221.4"/>
<circle cx="1577.0" cy="260.1"/>
<circle cx="1606.1" cy="268.9"/>
<circle cx="1480.3" cy="286.2"/>
<circle cx="1573.7" cy="237.4"/>
<circle cx="1547.0" cy="204.0"/>
<circle cx="1526.0" cy="163.7"/>
<circle cx="1534.8" cy="185.3"/>
<circle cx="1646.6" cy="199.5"/>
<circle cx="1502.3" cy="266.3"/>
<circle cx="1612.4" cy="281.2"/>
<circle cx="1639.1" cy="201.5"/>
<circle cx="1512.7" cy="172.1"/>
<circle cx="1495.6" cy="291.6"/>
<circle cx="1578.4" cy="214.3"/>
<circle cx="1564.8" cy="196.5"/>
<circle cx="1613.8" cy="187.2"/>
<circle cx="1505.1" cy="348.8"/>
<circle cx="1496.3" cy="131.9"/>
<circle cx="1477.7" cy="200.7"/>
<circle cx="1482.2" cy="225.6"/>
<circle cx="1602.8" cy="210.1"/>
<circle cx="1703.3" cy="256.4"/>
<circle cx="1504.4" cy="309.4"/>
<circle cx="1517.4" cy="223.0"/>
<circle cx="1497.8" cy="202.3"/>
<circle cx="1574.7" cy="254.0"/>
<circle cx="1615.8" cy="273.3"/>
<circle cx="1544.6" cy="164.9"/>
<circle cx="1618.5" cy="242.7"/>
<circle cx="1505.1" cy="323.4"/>
<circle cx="1530.5" cy="268.3"/>
<circle cx="1480.8" cy="289.6"/>
<circle cx="1512.3" cy="213.9"/>
<circle cx="1550.3" cy="191.4"/>
<circle cx="1589.3" cy="195.0"/>
<circle cx="1520.6" cy="239.3"/>
<circle cx="1495.5" cy="204.3"/>
<circle cx="1487.7" cy="312.6"/>
<circle cx="1548.2" cy="264.8"/>
<circle cx="1666.6" cy="203.8"/>
<circle cx="1560.6" cy="322.2"/>
<circle cx="1561.6" cy="258.3"/>
<circle cx="1526.5" cy="134.2"/>
<circle cx="1595.3" cy="235.9"/>
<circle cx="1546.6" cy="215.4"/>
<circle cx="1551.8" cy="223.9"/>
<circle cx="1485.6" cy="216.9"/>
<circle cx="1475.5" cy="226.3"/>
<circle cx="1503.7" cy="219.2"/>
<circle cx="1540.0" cy="153.4"/>
<circle cx="1548.9" cy="207.2"/>
<circle cx="1618.1" cy="209.3"/>
<circle cx="1609.2" cy="223.4"/>
<circle cx="1897.4" cy="276.9"/>
<circle cx="1511.9" cy="190.4"/>
<circle cx="1561.7" cy="272.0"/>
<circle cx="1615.0" cy="215.5"/>
<circle cx="1536.6" cy="247.2"/>
<circle cx="1583.9" cy="177.5"/>
<circle cx="1484.7" cy="236.8"/>
<circle cx="1496.3" cy="270.0"/>
<circle cx="1638.2" cy="241.4"/>
<circle cx="1573.8" cy="216.5"/>
<circle cx="1486.4" cy="233.5"/>
<circle cx="1611.5" cy="296.9"/>
<circle cx="1485.9" cy="246.4"/>
<circle cx="1573.9" cy="198.8"/>
<circle cx="1488.3" cy="117.4"/>
<circle cx="1566.5" cy="242.9"/>
<circle cx="1711.8" cy="204.4"/>
<circle cx="1482.5" cy="263.0"/>
<circle cx="1547.0" cy="275.4"/>
<circle cx="1492.6" cy="213.8"/>
<circle cx="1517.9" cy="225.9"/>
<circle cx="1574.0" cy="220.7"/>
<circle cx="1484.2" cy="375.0"/>
<circle cx="1565.8" cy="204.2"/>
<circle cx="1539.2" cy="200.7"/>
<circle cx="1478.2" cy="218.5"/>
<circle cx="1552.0" cy="201.2"/>
<circle cx="1507.2" cy="110.9"/>
<circle cx="1544.6" cy="203.0"/>
<circle cx="1508.2" cy="206.2"/>
<circle cx="1540.2" cy="246.1"/>
<circle cx="1518.3" cy="173.5"/>
<circle cx="1535.1" cy="246.9"/>
<circle cx="1513.0" cy="151.2"/>
<circle cx="1498.8" cy="253.0"/>
<circle cx="1537.6" cy="271.1"/>
<circle cx="1492.3" cy="228.2"/>
<circle cx="1480.2" cy="94.5"/>
<circle cx="1516.8" cy="167.9"/>
<circle cx="1561.0" cy="214.1"/>
<circle cx="1499.6" cy="273.0"/>
<circle cx="1501.2" cy="185.6"/>
<circle cx="1518.6" cy="255.6"/>
<circle cx="1496.1" cy="200.0"/>
<circle cx="1607.7" cy="221.0"/>
<circle cx="1566.3" cy="209.5"/>
<circle cx="1492.3" cy="160.4"/>
<circle cx="1610.6" cy="210.0"/>
<circle cx="1647.1" cy="218.0"/>
<circle cx="1536.2" cy="225.1"/>
<circle cx="1478.1" cy="249.8"/>
<circle cx="1484.7" cy="162.3"/>
<circle cx="1507.0" cy="232.8"/>
<circle cx="1657.9" cy="222.5"/>
<circle cx="1630.4" cy="199.3"/>
<circle cx="1558.8" cy="184.3"/>
<circle cx="1478.2" cy="126.1"/>
<circle cx="1528.5" cy="190.1"/>
<circle cx="1598.7" cy="196.6"/>
<circle cx="1523.5" cy="214.1"/>
<circle cx="1509.3" cy="264.9"/>
<circle cx="1502.6" cy="192.6"/>
<circle cx="1506.1" cy="118.3"/>
<circle cx="1541.7" cy="194.6"/>
<circle cx="1645.7" cy="185.4"/>
<circle cx="1486.9" cy="237.5"/>
<circle cx="1564.2" cy="263.6"/>
<circle cx="1660.2" cy="195.8"/>
<circle cx="1496.6" cy="188.8"/>
<circle cx="1519.8" cy="263.8"/>
<circle cx="1626.5" cy="280.1"/>
<circle cx="1484.6" cy="241.8"/>
<circle cx="1566.3" cy="307.3"/>
<circle cx="1497.7" cy="206.6"/>
<circle cx="1619.6" cy="181.5"/>
<circle cx="1562.1" cy="195.7"/>
<circle cx="1484.9" cy="317.9"/>
<circle cx="1639.5" cy="212.3"/>
<circle cx="1653.3" cy="202.8"/>
<circle cx="1482.6" cy="199.6"/>
<circle cx="1480.2" cy="165.0"/>
<circle cx="1561.1" cy="198.9"/>
<circle cx="1554.7" cy="205.9"/>
<circle cx="1513.3" cy="113.9"/>
<circle cx="1501.0" cy="253.9"/>
<circle cx="1483.3" cy="237.7"/>
<circle cx="1654.8" cy="241.9"/>
<circle cx="1534.3" cy="337.5"/>
<circle cx="1535.1" cy="198.0"/>
<circle cx="1560.0" cy="236.1"/>
<circle cx="1599.2" cy="224.7"/>
<circle cx="1548.4" cy="211.4"/>
<circle cx="1678.1" cy="201.8"/>
<circle cx="1695.4" cy="216.3"/>
<circle cx="1597.3" cy="251.1"/>
<circle cx="1515.2" cy="192.4"/>
<circle cx="1619.4" cy="214.3"/>
<circle cx="1482.5" cy="201.2"/>
<circle cx="1600.4" cy="295.4"/>
<circle cx="1513.2" cy="161.8"/>
<circle cx="1483.5" cy="184.5"/>
<circle cx="1479.6" cy="212.5"/>
<circle cx="1498.6" cy="179.6"/>
<circle cx="1508.0" cy="256.1"/>
<circle cx="1476.7" cy="290.7"/>
<circle cx="1533.6" cy="216.0"/>
<circle cx="1502.6" cy="302.4"/>
<circle cx="1489.6" cy="231.0"/>
<circle cx="1483.9" cy="234.0"/>
<circle cx="1538.5" cy="272.7"/>
<circle cx="1672.7" cy="238.3"/>
<circle cx="1504.7" cy="328.8"/>
<circle cx="1523.8" cy="166.1"/>
<circle cx="1592.5" cy="304.9"/>
<circle cx="1507.3" cy="216.1"/>
<circle cx="1505.9" cy="180.2"/>
<circle cx="1491.5" cy="162.2"/>
<circle cx="1524.3" cy="326.5"/>
<circle cx="1626.7" cy="211.4"/>
<circle cx="1522.6" cy="191.0"/>
<circle cx="1531.2" cy="227.4"/>
<circle cx="1626.6" cy="210.7"/>
<circle cx="1531.6" cy="195.5"/>
<circle cx="1493.5" cy="388.0"/>
<circle cx="1512.3" cy="223.7"/>
<circle cx="1537.4" cy="172.0"/>
<circle cx="1691.3" cy="187.5"/>
<circle cx="1498.6" cy="232.2"/>
<circle cx="1651.8" cy="253.1"/>
<circle cx="1501.5" cy="209.6"/>
<circle cx="1499.8" cy="158.8"/>
<circle cx="1554.3" cy="209.9"/>
<circle cx="1518.1" cy="119.5"/>
<circle cx="1561.0" cy="269.1"/>
<circle cx="1547.1" cy="243.1"/>
<circle cx="1621.1" cy="224.0"/>
<circle cx="1572.8" cy="235.4"/>
<circle cx="1521.4" cy="194.1"/>
<circle cx="1598.2" cy="213.5"/>
<circle cx="1535.8" cy="319.8"/>
<circle cx="1535.1" cy="198.2"/>
<circle cx="1566.0" cy="277.9"/>
<circle cx="1753.7" cy="238.1"/>
<circle cx="1599.7" cy="269.3"/>
<circle cx="1584.9" cy="229.2"/>
<circle cx="1482.0" cy="246.5"/>
<circle cx="1524.9" cy="196.7"/>
<circle cx="1481.0" cy="218.5"/>
<circle cx="1624.9" cy="214.2"/>
<circle cx="1536.2" cy="149.8"/>
<circle cx="1521.6" cy="168.0"/>
<circle cx="1515.0" cy="292.2"/>
<circle cx="1595.1" cy="214.6"/>
<circle cx="1636.2" cy="186.4"/>
<circle cx="1483.8" cy="363.3"/>
<circle cx="1503.6" cy="206.0"/>
<circle cx="1763.9" cy="246.5"/>
<circle cx="1568.6" cy="179.6"/>
<circle cx="1568.2" cy="206.6"/>
<circle cx="1571.5" cy="178.0"/>
<circle cx="1514.7" cy="185.1"/>
<circle cx="1483.7" cy="224.8"/>
<circle cx="1517.7" cy="292.6"/>
<circle cx="1595.3" cy="313.8"/>
<circle cx="1502.9" cy="273.0"/>
<circle cx="1661.9" cy="193.4"/>
<circle cx="1528.7" cy="231.0"/>
<circle cx="1500.9" cy="140.2"/>
<circle cx="1501.9" cy="278.4"/>
<circle cx="1544.2" cy="269.8"/>
<circle cx="1555.4" cy="243.5"/>
<circle cx="1562.9" cy="197.4"/>
<circle cx="1517.0" cy="244.4"/>
<circle cx="1646.0" cy="204.2"/>
<circle cx="1479.9" cy="309.8"/>
<circle cx="1493.8" cy="207.5"/>
<circle cx="1531.6" cy="166.8"/>
<circle cx="1582.1" cy="165.4"/>
<circle cx="1577.7" cy="145.0"/>
<circle cx="1714.0" cy="212.9"/>
<circle cx="1583.2" cy="251.0"/>
<circle cx="1727.7" cy="198.6"/>
<circle cx="1537.6" cy="318.3"/>
<circle cx="1490.8" cy="193.6"/>
<circle cx="1555.2" cy="206.6"/>
<circle cx="1588.9" cy="268.3"/>
<circle cx="1707.7" cy="250.5"/>
<circle cx="1649.8" cy="265.3"/>
<circle cx="1552.1" cy="222.2"/>
<circle cx="1594.8" cy="180.9"/>
<circle cx="1569.6" cy="146.6"/>
<circle cx="1480.7" cy="142.5"/>
<circle cx="1533.0" cy="226.5"/>
<circle cx="1570.1" cy="236.8"/>
<circle cx="1615.4" cy="171.6"/>
<circle cx="1511.2" cy="137.9"/>
<circle cx="1656.2" cy="239.3"/>
<circle cx="1658.9" cy="230.9"/>
<circle cx="1518.7" cy="200.6"/>
<circle cx="1561.5" cy="372.8"/>
<circle cx="1546.6" cy="300.4"/>
<circle cx="1812.6" cy="240.4"/>
<circle cx="1583.8" cy="221.6"/>
<circle cx="1514.3" cy="211.4"/>
<circle cx="1488.3" cy="214.2"/>
<circle cx="1493.8" cy="183.1"/>
<circle cx="1512.5" cy="202.9"/>
<circle cx="1518.1" cy="157.6"/>
<circle cx="1531.0" cy="185.2"/>
<circle cx="1483.4" cy="216.4"/>
<circle cx="1499.2" cy="176.9"/>
<circle cx="1635.8" cy="256.7"/>
<circle cx="1588.0" cy="201.9"/>
<circle cx="1546.1" cy="294.1"/>
<circle cx="1658.7" cy="188.4"/>
<circle cx="1497.4" cy="208.7"/>
<circle cx="1543.8" cy="149.5"/>
<circle cx="1660.0" cy="202.5"/>
<circle cx="1536.1" cy="231.8"/>
<circle cx="1489.3" cy="210.5"/>
<circle cx="1541.4" cy="211.8"/>
<circle cx="1497.2" cy="136.8"/>
<circle cx="1555.1" cy="264.0"/>
<circle cx="1482.7" cy="173.7"/>
<circle cx="1492.3" cy="123.6"/>
<circle cx="1513.0" cy="126.4"/>
<circle cx="1505.4" cy="187.8"/>
<circle cx="1746.2" cy="222.4"/>
<circle cx="1547.5" cy="285.9"/>
<circle cx="1526.8" cy="172.0"/>
<circle cx="1526.7" cy="180.7"/>
<circle cx="1565.7" cy="377.8"/>
<circle cx="1563.3" cy="299.1"/>
<circle cx="1531.3" cy="201.8"/>
<circle cx="1621.0" cy="246.4"/>
<circle cx="1614.7" cy="202.3"/>
<circle cx="1650.4" cy="214.8"/>
<circle cx="1597.3" cy="220.1"/>
<circle cx="1575.5" cy="233.3"/>
<circle cx="1642.4" cy="192.9"/>
<circle cx="1582.4" cy="188.2"/>
<circle cx="1554.3" cy="231.1"/>
<circle cx="1553.9" cy="168.1"/>
<circle cx="1496.6" cy="202.2"/>
<circle cx="1559.3" cy="277.7"/>
<circle cx="1793.8" cy="232.1"/>
<circle cx="1500.7" cy="317.9"/>
<circle cx="1609.5" cy="209.7"/>
<circle cx="1666.0" cy="209.9"/>
<circle cx="1615.3" cy="213.8"/>
<circle cx="1478.9" cy="334.8"/>
<circle cx="1675.7" cy="252.1"/>
<circle cx="1726.7" cy="298.3"/>
<circle cx="1537.2" cy="246.0"/>
<circle cx="1522.1" cy="188.8"/>
<circle cx="1502.4" cy="226.1"/>
<circle cx="1859.9" cy="219.8"/>
<circle cx="1498.6" cy="220.8"/>
<circle cx="1629.2" cy="273.1"/>
<circle cx="1506.7" cy="258.9"/>
<circle cx="1510.4" cy="274.9"/>
<circle cx="1494.9" cy="195.6"/>
<circle cx="1547.5" cy="201.3"/>
<circle cx="1512.4" cy="293.0"/>
<circle cx="1492.9" cy="284.7"/>
<circle cx="1627.5" cy="210.2"/>
<circle cx="1705.3" cy="217.3"/>
<circle cx="1512.5" cy="248.9"/>
<circle cx="1527.0" cy="164.0"/>
<circle cx="1507.2" cy="271.1"/>
<circle cx="1552.5" cy="204.0"/>
<circle cx="1592.2" cy="222.1"/>
<circle cx="1477.7" cy="150.6"/>
<circle cx="1588.9" cy="238.1"/>
<circle cx="1485.9" cy="154.7"/>
<circle cx="1563.8" cy="200.4"/>
<circle cx="1480.7" cy="387.0"/>
<circle cx="1520.6" cy="263.9"/>
<circle cx="1559.4" cy="201.2"/>
<circle cx="1548.7" cy="256.4"/>
<circle cx="1512.7" cy="171.7"/>
<circle cx="1527.2" cy="216.8"/>
<circle cx="1480.0" cy="340.4"/>
<circle cx="1520.1" cy="201.4"/>
<circle cx="1773.3" cy="214.2"/>
<circle cx="1500.8" cy="169.9"/>
<circle cx="1498.2" cy="182.5"/>
<circle cx="1562.6" cy="193.6"/>
<circle cx="1535.9" cy="191.2"/>
<circle cx="1516.1" cy="247.3"/>
<circle cx="1570.1" cy="173.2"/>
<circle cx="1586.2" cy="211.2"/>
<circle cx="1475.9" cy="336.6"/>
<circle cx="1531.1" cy="335.5"/>
<circle cx="1630.5" cy="197.9"/>
<circle cx="1504.7" cy="189.8"/>
<circle cx="1494.0" cy="184.0"/>
<circle cx="1514.2" cy="276.0"/>
<circle cx="1636.9" cy="215.6"/>
<circle cx="1481.7" cy="200.6"/>
<circle cx="1542.3" cy="320.5"/>
<circle cx="1546.9" cy="254.6"/>
<circle cx="1499.9" cy="245.4"/>
<circle cx="1484.3" cy="391.6"/>
<circle cx="1582.6" cy="302.0"/>
<circle cx="1693.3" cy="232.3"/>
<circle cx="1561.6" cy="203.7"/>
<circle cx="1574.6" cy="230.0"/>
<circle cx="1576.6" cy="245.2"/>
<circle cx="1508.9" cy="230.9"/>
<circle cx="1518.4" cy="200.5"/>
<circle cx="1479.7" cy="263.9"/>
<circle cx="1490.2" cy="200.4"/>
<circle cx="1531.9" cy="196.4"/>
<circle cx="1559.2" cy="212.0"/>
<circle cx="1493.7" cy="163.2"/>
<circle cx="1658.2" cy="227.5"/>
<circle cx="1504.9" cy="203.1"/>
<circle cx="1675.5" cy="278.3"/>
<circle cx="1517.9" cy="263.2"/>
<circle cx="1477.0" cy="66.6"/>
<circle cx="1548.2" cy="296.4"/>
<circle cx="1500.4" cy="353.8"/>
<circle cx="1637.3" cy="231.4"/>
<circle cx="1494.2" cy="210.0"/>
<circle cx="1612.6" cy="192.4"/>
<circle cx="1506.6" cy="195.0"/>
<circle cx="1580.8" cy="210.7"/>
<circle cx="1581.6" cy="271.6"/>
<circle cx="1552.4" cy="167.8"/>
<circle cx="1575.9" cy="181.7"/>
<circle cx="1513.4" cy="162.8"/>
<circle cx="1590.5" cy="224.6"/>
<circle cx="1508.4" cy="189.8"/>
<circle cx="1549.2" cy="263.2"/>
<circle cx="1600.1" cy="246.6"/>
<circle cx="1557.7" cy="199.6"/>
<circle cx="1532.4" cy="201.0"/>
<circle cx="1476.4" cy="267.1"/>
<circle cx="1511.4" cy="248.9"/>
<circle cx="1485.1" cy="166.6"/>
<circle cx="1475.8" cy="168.6"/>
<circle cx="1516.9" cy="244.1"/>
<circle cx="1522.6" cy="212.6"/>
<circle cx="1535.6" cy="310.3"/>
<circle cx="1530.1" cy="208.6"/>
<circle cx="1540.8" cy="228.6"/>
<circle cx="1606.6" cy="216.3"/>
<circle cx="1515.0" cy="212.8"/>
<circle cx="1476.8" cy="128.8"/>
<circle cx="1540.9" cy="200.6"/>
<circle cx="1516.1" cy="223.2"/>
<circle cx="1572.5" cy="205.8"/>
<circle cx="1485.9" cy="217.3"/>
<circle cx="1537.5" cy="274.6"/>
<circle cx="1765.4" cy="230.1"/>
<circle cx="1527.9" cy="364.5"/>
<circle cx="1555.3" cy="209.6"/>
<circle cx="1713.5" cy="229.5"/>
<circle cx="1485.8" cy="190.9"/>
<circle cx="1694.9" cy="260.9"/>
<circle cx="1590.5" cy="250.7"/>
<circle cx="1485.3" cy="244.4"/>
<circle cx="1496.2" cy="276.8"/>
<circle cx="1603.4" cy="308.1"/>
<circle cx="1628.0" cy="233.2"/>
<circle cx="1499.4" cy="291.1"/>
<circle cx="1752.0" cy="201.0"/>
<circle cx="1521.9" cy="225.8"/>
<circle cx="1490.9" cy="212.4"/>
<circle cx="1564.6" cy="200.3"/>
<circle cx="1557.9" cy="277.6"/>
<circle cx="1548.1" cy="188.1"/>
<circle cx="1478.7" cy="233.4"/>
<circle cx="1800.8" cy="202.1"/>
<circle cx="1482.4" cy="175.2"/>
<circle cx="1506.7" cy="159.8"/>
<circle cx="1557.9" cy="230.5"/>
<circle cx="1615.7" cy="264.1"/>
<circle cx="1535.6" cy="212.1"/>
<circle cx="1608.1" cy="263.5"/>
<circle cx="1507.1" cy="210.6"/>
<circle cx="1490.1" cy="222.4"/>
<circle cx="1585.2" cy="231.6"/>
<circle cx="1687.1" cy="244.0"/>
<circle cx="1503.5" cy="181.4"/>
<circle cx="1489.5" cy="110.9"/>
<circle cx="1552.0" cy="289.7"/>
<circle cx="1503.7" cy="282.7"/>
<circle cx="1681.1" cy="233.4"/>
<circle cx="1614.0" cy="158.6"/>
<circle cx="1536.8" cy="260.1"/>
<circle cx="1636.0" cy="181.8"/>
<circle cx="1510.7" cy="245.0"/>
<circle cx="1546.0" cy="227.7"/>
<circle cx="1523.3" cy="224.4"/>
<circle cx="1480.8" cy="300.3"/>
<circle cx="1587.0" cy="200.6"/>
<circle cx="1482.4" cy="224.0"/>
<circle cx="1565.7" cy="295.7"/>
<circle cx="1568.6" cy="195.8"/>
<circle cx="1600.7" cy="204.2"/>
<circle cx="1591.4" cy="224.6"/>
<circle cx="1549.4" cy="185.3"/>
<circle cx="1492.6" cy="181.2"/>
<circle cx="1485.8" cy="276.9"/>
<circle cx="1615.2" cy="172.5"/>
<circle cx="1504.9" cy="213.6"/>
<circle cx="1567.8" cy="227.9"/>
<circle cx="1475.8" cy="114.2"/>
<circle cx="1606.3" cy="209.5"/>
<circle cx="1665.3" cy="240.1"/>
<circle cx="1581.1" cy="199.4"/>
<circle cx="1544.2" cy="289.1"/>
<circle cx="1572.6" cy="172.5"/>
<circle cx="1487.5" cy="356.5"/>
<circle cx="1501.6" cy="198.4"/>
<circle cx="1551.7" cy="285.8"/>
<circle cx="1532.1" cy="220.5"/>
<circle cx="1512.7" cy="261.4"/>
<circle cx="1493.5" cy="264.3"/>
<circle cx="1578.6" cy="208.3"/>
<circle cx="1489.3" cy="167.3"/>
<circle cx="1539.2" cy="213.2"/>
<circle cx="1525.4" cy="196.3"/>
<circle cx="1632.4" cy="237.5"/>
<circle cx="1508.9" cy="217.3"/>
<circle cx="1567.4" cy="181.8"/>
<circle cx="1492.6" cy="284.5"/>
<circle cx="1595.7" cy="192.3"/>
<circle cx="1486.7" cy="275.9"/>
<circle cx="1641.5" cy="228.5"/>
<circle cx="1700.8" cy="226.3"/>
<circle cx="1551.4" cy="278.1"/>
<circle cx="1524.6" cy="207.2"/>
<circle cx="1525.0" cy="219.1"/>
<circle cx="1514.6" cy="162.8"/>
<circle cx="1603.5" cy="211.5"/>
<circle cx="1741.4" cy="207.1"/>
<circle cx="1494.8" cy="192.1"/>
<circle cx="1516.7" cy="124.9"/>
<circle cx="1534.5" cy="209.0"/>
<circle cx="1617.4" cy="241.5"/>
<circle cx="1508.7" cy="295.4"/>
<circle cx="1605.4" cy="252.7"/>
<circle cx="1484.2" cy="207.1"/>
<circle cx="1628.7" cy="221.9"/>
<circle cx="1521.0" cy="131.8"/>
<circle cx="1484.2" cy="208.4"/>
<circle cx="1518.0" cy="209.8"/>
<circle cx="1534.3" cy="158.9"/>
<circle cx="1539.5" cy="176.2"/>
<circle cx="1647.9" cy="201.6"/>
<circle cx="1607.7" cy="284.7"/>
<circle cx="1534.1" cy="246.7"/>
<circle cx="1512.6" cy="245.7"/>
<circle cx="1475.6" cy="131.0"/>
<circle cx="1871.5" cy="200.6"/>
<circle cx="1504.3" cy="230.7"/>
<circle cx="1502.6" cy="171.2"/>
<circle cx="1574.6" cy="182.6"/>
<circle cx="1502.6" cy="213.3"/>
<circle cx="1534.8" cy="213.6"/>
<circle cx="1489.4" cy="155.1"/>
<circle cx="1565.7" cy="206.7"/>
<circle cx="1510.9" cy="272.5"/>
<circle cx="1513.2" cy="209.0"/>
<circle cx="1739.2" cy="220.2"/>
<circle cx="1646.1" cy="229.7"/>
<circle cx="1726.8" cy="233.9"/>
<circle cx="1533.1" cy="225.4"/>
<circle cx="1527.2" cy="277.5"/>
<circle cx="1554.5" cy="262.8"/>
<circle cx="1714.1" cy="234.5"/>
<circle cx="1646.1" cy="273.7"/>
<circle cx="1545.6" cy="278.5"/>
<circle cx="1502.8" cy="272.0"/>
<circle cx="1523.8" cy="181.7"/>
<circle cx="1609.2" cy="256.5"/>
<circle cx="1505.1" cy="139.1"/>
<circle cx="1480.8" cy="271.2"/>
<circle cx="1566.9" cy="265.0"/>
<circle cx="1476.5" cy="204.2"/>
<circle cx="1585.4" cy="209.8"/>
<circle cx="1671.7" cy="217.9"/>
<circle cx="1543.7" cy="202.6"/>
<circle cx="1511.4" cy="221.7"/>
<circle cx="1516.5" cy="203.1"/>
<circle cx="1529.5" cy="215.9"/>
<circle cx="1481.3" cy="291.1"/>
<circle cx="1602.2" cy="298.1"/>
<circle cx="1503.0" cy="297.7"/>
<circle cx="1489.4" cy="263.8"/>
<circle cx="1497.0" cy="184.4"/>
<circle cx="1516.2" cy="243.0"/>
<circle cx="1599.7" cy="174.0"/>
<circle cx="1547.2" cy="220.3"/>
<circle cx="1522.6" cy="274.6"/>
<circle cx="1511.9" cy="283.5"/>
<circle cx="1543.8" cy="238.6"/>
<circle cx="1483.9" cy="175.4"/>
<circle cx="1621.9" cy="234.6"/>
<circle cx="1526.5" cy="210.0"/>
<circle cx="1498.0" cy="262.2"/>
<circle cx="1512.6" cy="308.9"/>
<circle cx="1561.1" cy="362.9"/>
<circle cx="1525.2" cy="213.3"/>
<circle cx="1491.0" cy="245.5"/>
<circle cx="1637.0" cy="203.3"/>
<circle cx="1733.2" cy="210.1"/>
<circle cx="1517.0" cy="260.5"/>
<circle cx="1493.8" cy="193.2"/>
<circle cx="1647.7" cy="229.3"/>
<circle cx="1668.3" cy="262.6"/>
<circle cx="1495.4" cy="246.0"/>
<circle cx="1525.8" cy="217.0"/>
<circle cx="1668.4" cy="202.5"/>
<circle cx="1622.4" cy="255.6"/>
<circle cx="1857.2" cy="250.3"/>
<circle cx="1523.8" cy="269.3"/>
<circle cx="1587.0" cy="182.0"/>
<circle cx="1484.2" cy="221.5"/>
<circle cx="1649.3" cy="235.6"/>
<circle cx="1506.7" cy="262.5"/>
<circle cx="1533.6" cy="249.9"/>
<circle cx="1498.1" cy="249.5"/>
<circle cx="1555.8" cy="290.2"/>
<circle cx="1560.4" cy="213.9"/>
<circle cx="1480.3" cy="127.3"/>
<circle cx="1618.3" cy="226.1"/>
<circle cx="1758.7" cy="241.5"/>
<circle cx="1498.3" cy="189.2"/>
<circle cx="1561.5" cy="218.8"/>
<circle cx="1526.2" cy="174.1"/>
<circle cx="1500.2" cy="231.5"/>
<circle cx="1528.9" cy="132.5"/>
<circle cx="1523.7" cy="217.4"/>
<circle cx="1483.0" cy="139.3"/>
<circle cx="1545.7" cy="236.6"/>
<circle cx="1534.0" cy="222.6"/>
<circle cx="1535.2" cy="206.9"/>
<circle cx="1487.0" cy="256.4"/>
<circle cx="1774.1" cy="196.4"/>
<circle cx="1587.7" cy="317.8"/>
<circle cx="1663.0" cy="209.5"/>
<circle cx="1638.6" cy="268.4"/>
<circle cx="1499.9" cy="202.0"/>
<circle cx="1567.0" cy="244.5"/>
<circle cx="1506.8" cy="202.3"/>
<circle cx="1511.5" cy="193.1"/>
<circle cx="1596.4" cy="251.7"/>
<circle cx="1562.2" cy="212.6"/>
<circle cx="1630.8" cy="305.2"/>
<circle cx="1577.8" cy="244.2"/>
<circle cx="1564.2" cy="180.3"/>
<circle cx="1697.5" cy="197.9"/>
<circle cx="1581.1" cy="185.7"/>
<circle cx="1504.7" cy="216.0"/>
<circle cx="1588.3" cy="197.4"/>
<circle cx="1629.0" cy="261.9"/>
<circle cx="1549.0" cy="220.1"/>
<circle cx="1476.5" cy="257.2"/>
<circle cx="1650.9" cy="239.7"/>
<circle cx="1517.7" cy="271.6"/>
<circle cx="1501.1" cy="164.9"/>
<circle cx="1695.9" cy="201.2"/>
<circle cx="1525.0" cy="285.7"/>
<circle cx="1490.5" cy="197.8"/>
<circle cx="1563.3" cy="200.6"/>
<circle cx="1525.5" cy="189.0"/>
<circle cx="1624.0" cy="228.7"/>
<circle cx="1488.8" cy="207.6"/>
<circle cx="1498.5" cy="180.3"/>
<circle cx="1536.6" cy="267.8"/>
<circle cx="1577.0" cy="203.2"/>
<circle cx="1550.4" cy="286.5"/>
<circle cx="1499.1" cy="211.0"/>
<circle cx="1542.9" cy="170.5"/>
<circle cx="1535.3" cy="200.1"/>
<circle cx="1557.0" cy="211.0"/>
<circle cx="1611.6" cy="262.8"/>
<circle cx="1489.8" cy="180.0"/>
<circle cx="1581.3" cy="176.2"/>
<circle cx="1506.5" cy="157.4"/>
<circle cx="1629.0" cy="223.3"/>
<circle cx="1485.4" cy="165.8"/>
<circle cx="1523.4" cy="237.8"/>
<circle cx="1506.6" cy="197.2"/>
<circle cx="1651.3" cy="269.6"/>
<circle cx="1571.8" cy="295.8"/>
<circle cx="1554.2" cy="278.1"/>
<circle cx="1542.3" cy="219.3"/>
<circle cx="1489.1" cy="253.1"/>
<circle cx="1576.7" cy="182.3"/>
<circle cx="1544.7" cy="219.8"/>
<circle cx="1515.7" cy="167.1"/>
<circle cx="1502.3" cy="180.5"/>
<circle cx="1571.1" cy="205.7"/>
<circle cx="1536.6" cy="175.1"/>
<circle cx="1499.0" cy="190.9"/>
<circle cx="1503.4" cy="237.2"/>
<circle cx="1500.5" cy="279.3"/>
<circle cx="1597.5" cy="268.1"/>
<circle cx="1646.7" cy="241.1"/>
<circle cx="1582.0" cy="196.4"/>
<circle cx="1538.8" cy="170.3"/>
<circle cx="1475.9" cy="338.3"/>
<circle cx="1695.0" cy="252.8"/>
<circle cx="1487.1" cy="210.2"/>
<circle cx="1644.1" cy="270.9"/>
<circle cx="1492.6" cy="175.2"/>
<circle cx="1565.8" cy="243.0"/>
<circle cx="1494.6" cy="243.1"/>
<circle cx="1579.0" cy="276.6"/>
<circle cx="1519.4" cy="256.9"/>
<circle cx="1481.4" cy="167.8"/>
<circle cx="1522.6" cy="346.1"/>
<circle cx="1513.6" cy="128.1"/>
<circle cx="1534.1" cy="215.1"/>
<circle cx="1509.6" cy="257.1"/>
<circle cx="1617.1" cy="210.4"/>
<circle cx="1493.1" cy="309.6"/>
<circle cx="1566.7" cy="228.0"/>
<circle cx="1478.5" cy="204.0"/>
<circle cx="1496.4" cy="165.2"/>
<circle cx="1526.8" cy="253.8"/>
<circle cx="1538.9" cy="243.4"/>
<circle cx="1489.6" cy="202.1"/>
<circle cx="1512.2" cy="250.7"/>
<circle cx="1502.2" cy="123.8"/>
<circle cx="1580.3" cy="199.3"/>
<circle cx="1618.4" cy="227.1"/>
<circle cx="1763.0" cy="223.8"/>
<circle cx="1512.1" cy="174.0"/>
<circle cx="1502.1" cy="189.5"/>
<circle cx="1543.2" cy="196.1"/>
<circle cx="1522.8" cy="171.3"/>
<circle cx="1481.3" cy="157.7"/>
<circle cx="1514.2" cy="325.8"/>
<circle cx="1523.7" cy="428.6"/>
<circle cx="1494.3" cy="187.3"/>
<circle cx="1518.6" cy="176.5"/>
<circle cx="1603.9" cy="228.2"/>
<circle cx="1708.7" cy="233.8"/>
<circle cx="1607.4" cy="218.0"/>
<circle cx="1487.3" cy="307.1"/>
<circle cx="1500.1" cy="162.8"/>
<circle cx="1571.2" cy="282.5"/>
<circle cx="1666.1" cy="197.0"/>
<circle cx="1710.5" cy="228.3"/>
<circle cx="1504.3" cy="270.8"/>
<circle cx="1559.2" cy="240.4"/>
<circle cx="1626.3" cy="207.0"/>
<circle cx="1476.3" cy="214.5"/>
<circle cx="1483.6" cy="198.1"/>
<circle cx="1535.0" cy="232.5"/>
<circle cx="1487.9" cy="246.3"/>
<circle cx="1575.1" cy="207.2"/>
<circle cx="1593.0" cy="330.4"/>
<circle cx="1667.0" cy="197.9"/>
<circle cx="1533.9" cy="312.3"/>
<circle cx="1723.6" cy="241.6"/>
<circle cx="1522.3" cy="259.9"/>
<circle cx="1516.1" cy="259.7"/>
<circle cx="1515.6" cy="178.9"/>
<circle cx="1496.1" cy="269.3"/>
<circle cx="1571.8" cy="249.0"/>
<circle cx="1570.3" cy="136.3"/>
<circle cx="1485.3" cy="162.3"/>
<circle cx="1534.5" cy="267.1"/>
<circle cx="1608.5" cy="227.8"/>
<circle cx="1532.3" cy="210.3"/>
<circle cx="1568.2" cy="204.4"/>
<circle cx="1588.9" cy="260.4"/>
<circle cx="1571.7" cy="264.6"/>
<circle cx="1537.4" cy="169.8"/>
<circle cx="1490.5" cy="208.2"/>
<circle cx="1487.0" cy="264.1"/>
<circle cx="1548.2" cy="195.0"/>
<circle cx="1622.2" cy="216.5"/>
<circle cx="1558.0" cy="168.8"/>
<circle cx="1557.3" cy="255.4"/>
<circle cx="1539.0" cy="134.5"/>
<circle cx="1479.1" cy="230.6"/>
<circle cx="1477.7" cy="98.3"/>
<circle cx="1609.6" cy="250.0"/>
<circle cx="1494.2" cy="321.0"/>
<circle cx="1488.0" cy="237.0"/>
<circle cx="1640.5" cy="202.1"/>
<circle cx="1526.6" cy="175.3"/>
<circle cx="1626.1" cy="228.9"/>
<circle cx="1543.2" cy="218.3"/>
<circle cx="1495.3" cy="132.2"/>
<circle cx="1571.6" cy="213.0"/>
<circle cx="1504.2" cy="335.4"/>
<circle cx="1780.0" cy="204.5"/>
<circle cx="1502.5" cy="232.2"/>
<circle cx="1495.3" cy="251.4"/>
<circle cx="1540.8" cy="251.3"/>
<circle cx="1541.8" cy="212.2"/>
<circle cx="1537.4" cy="280.1"/>
<circle cx="1508.4" cy="309.6"/>
<circle cx="1528.7" cy="224.8"/>
<circle cx="1628.3" cy="305.4"/>
<circle cx="1517.2" cy="260.8"/>
<circle cx="1519.6" cy="193.7"/>
<circle cx="1509.9" cy="228.6"/>
<circle cx="1489.6" cy="202.1"/>
<circle cx="1488.5" cy="184.0"/>
<circle cx="1534.9" cy="340.8"/>
<circle cx="1659.9" cy="178.5"/>
<circle cx="1512.5" cy="249.1"/>
<circle cx="1527.9" cy="245.6"/>
<circle cx="1679.0" cy="209.8"/>
<circle cx="1532.6" cy="195.6"/>
<circle cx="1526.5" cy="278.3"/>
<circle cx="1519.5" cy="281.7"/>
<circle cx="1482.0" cy="289.0"/>
<circle cx="1617.4" cy="235.3"/>
<circle cx="1481.6" cy="201.1"/>
<circle cx="1591.8" cy="283.8"/>
<circle cx="1483.8" cy="282.7"/>
<circle cx="1505.1" cy="121.7"/>
<circle cx="1673.8" cy="278.2"/>
<circle cx="1502.0" cy="198.9"/>
<circle cx="1514.4" cy="287.5"/>
<circle cx="1477.0" cy="260.4"/>
<circle cx="1570.1" cy="295.6"/>
<circle cx="1518.4" cy="232.3"/>
<circle cx="1576.4" cy="188.7"/>
<circle cx="1530.4" cy="193.1"/>
<circle cx="1540.2" cy="272.0"/>
<circle cx="1644.1" cy="219.8"/>
<circle cx="1485.9" cy="326.4"/>
<circle cx="1580.7" cy="226.3"/>
<circle cx="1529.1" cy="192.5"/>
<circle cx="1522.4" cy="267.2"/>
<circle cx="1532.9" cy="205.9"/>
<circle cx="1669.1" cy="235.1"/>
<circle cx="1596.5" cy="227.6"/>
<circle cx="1630.8" cy="233.6"/>
<circle cx="1511.6" cy="314.7"/>
<circle cx="1721.9" cy="188.4"/>
<circle cx="1625.5" cy="189.9"/>
<circle cx="1550.6" cy="254.0"/>
<circle cx="1547.1" cy="261.3"/>
<circle cx="1504.0" cy="202.2"/>
<circle cx="1489.2" cy="164.4"/>
<circle cx="1524.1" cy="224.9"/>
<circle cx="1477.2" cy="333.5"/>
<circle cx="1506.6" cy="203.3"/>
<circle cx="1604.4" cy="221.6"/>
<circle cx="1574.0" cy="228.2"/>
<circle cx="1480.0" cy="131.7"/>
<circle cx="1478.7" cy="210.1"/>
<circle cx="1489.3" cy="183.9"/>
<circle cx="1518.5" cy="196.9"/>
<circle cx="1607.3" cy="204.6"/>
<circle cx="1568.3" cy="243.1"/>
<circle cx="1557.7" cy="161.3"/>
<circle cx="1534.5" cy="231.6"/>
<circle cx="1546.4" cy="205.6"/>
<circle cx="1593.9" cy="187.1"/>
<circle cx="1594.7" cy="213.7"/>
<circle cx="1585.6" cy="250.6"/>
<circle cx="1606.6" cy="188.4"/>
<circle cx="1515.1" cy="220.6"/>
<circle cx="1666.8" cy="217.0"/>
<circle cx="1479.1" cy="205.0"/>
<circle cx="1492.6" cy="220.3"/>
<circle cx="1621.0" cy="218.3"/>
<circle cx="1523.3" cy="228.6"/>
<circle cx="1661.6" cy="219.9"/>
<circle cx="1538.7" cy="244.1"/>
<circle cx="1503.3" cy="117.2"/>
<circle cx="1725.1" cy="200.2"/>
<circle cx="1562.3" cy="252.3"/>
<circle cx="1484.4" cy="274.3"/>
<circle cx="1586.0" cy="184.9"/>
<circle cx="1756.2" cy="204.5"/>
<circle cx="1484.5" cy="309.3"/>
<circle cx="1513.0" cy="155.6"/>
<circle cx="1508.1" cy="211.5"/>
<circle cx="1500.9" cy="274.7"/>
<circle cx="1619.4" cy="229.0"/>
<circle cx="1519.8" cy="191.1"/>
<circle cx="1578.9" cy="200.3"/>
<circle cx="1523.4" cy="95.4"/>
<circle cx="1524.1" cy="199.3"/>
<circle cx="1556.0" cy="229.7"/>
<circle cx="1513.7" cy="147.5"/>
<circle cx="1502.9" cy="176.6"/>
<circle cx="1498.3" cy="204.0"/>
<circle cx="1952.1" cy="221.3"/>
<circle cx="1534.3" cy="294.0"/>
<circle cx="1531.4" cy="200.1"/>
<circle cx="1493.0" cy="289.8"/>
<circle cx="1478.6" cy="197.4"/>
<circle cx="1508.2" cy="203.1"/>
<circle cx="1660.8" cy="244.2"/>
<circle cx="1516.9" cy="216.3"/>
<circle cx="1657.6" cy="211.1"/>
<circle cx="1515.9" cy="237.8"/>
<circle cx="1511.3" cy="263.8"/>
<circle cx="1507.8" cy="296.5"/>
<circle cx="1554.5" cy="220.4"/>
<circle cx="1480.6" cy="141.6"/>
<circle cx="1524.8" cy="214.8"/>
<circle cx="1568.8" cy="238.4"/>
<circle cx="1534.9" cy="255.7"/>
<circle cx="1523.0" cy="299.2"/>
<circle cx="1503.5" cy="158.7"/>
<circle cx="1518.1" cy="247.4"/>
<circle cx="1568.4" cy="246.3"/>
<circle cx="1668.9" cy="238.0"/>
<circle cx="1606.3" cy="246.9"/>
<circle cx="1484.6" cy="214.9"/>
<circle cx="1557.9" cy="239.2"/>
<circle cx="1497.5" cy="223.7"/>
<circle cx="1648.1" cy="218.9"/>
<circle cx="1552.4" cy="170.4"/>
<circle cx="1488.2" cy="262.1"/>
<circle cx="1546.5" cy="170.7"/>
<circle cx="1547.2" cy="245.3"/>
<circle cx="1527.5" cy="257.7"/>
<circle cx="1634.5" cy="188.4"/>
<circle cx="1517.0" cy="198.7"/>
<circle cx="1537.9" cy="238.0"/>
<circle cx="1668.7" cy="247.1"/>
<circle cx="1534.1" cy="237.5"/>
<circle cx="1481.2" cy="331.8"/>
<circle cx="1491.9" cy="151.4"/>
<circle cx="1479.1" cy="271.6"/>
<circle cx="1482.5" cy="158.2"/>
<circle cx="1519.3" cy="249.8"/>
<circle cx="1476.5" cy="196.0"/>
<circle cx="1502.1" cy="248.6"/>
<circle cx="1566.7" cy="306.3"/>
<circle cx="1513.2" cy="222.6"/>
<circle cx="1665.4" cy="243.6"/>
<circle cx="1710.0" cy="213.9"/>
<circle cx="1621.6" cy="231.3"/>
<circle cx="1530.6" cy="134.3"/>
<circle cx="1509.4" cy="372.7"/>
<circle cx="1479.3" cy="276.8"/>
<circle cx="1519.0" cy="271.4"/>
<circle cx="1671.0" cy="279.1"/>
<circle cx="1512.4" cy="301.5"/>
<circle cx="1566.9" cy="258.7"/>
<circle cx="1563.0" cy="186.5"/>
<circle cx="1561.2" cy="165.5"/>
<circle cx="1558.1" cy="183.5"/>
<circle cx="1535.4" cy="254.2"/>
<circle cx="1482.5" cy="166.3"/>
<circle cx="1496.3" cy="182.1"/>
<circle cx="1478.3" cy="178.9"/>
<circle cx="1552.6" cy="166.5"/>
<circle cx="1523.9" cy="243.1"/>
<circle cx="1551.1" cy="211.0"/>
<circle cx="1747.7" cy="192.7"/>
<circle cx="1488.2" cy="136.4"/>
<circle cx="1500.3" cy="258.6"/>
<circle cx="1495.8" cy="143.0"/>
<circle cx="1492.5" cy="166.8"/>
<circle cx="1532.0" cy="195.1"/>
<circle cx="1480.4" cy="255.6"/>
<circle cx="1574.0" cy="247.0"/>
<circle cx="1526.9" cy="258.6"/>
<circle cx="1510.5" cy="314.2"/>
<circle cx="1504.8" cy="143.5"/>
<circle cx="1532.9" cy="208.4"/>
<circle cx="1525.3" cy="230.0"/>
<circle cx="1482.7" cy="315.4"/>
<circle cx="1501.8" cy="296.1"/>
<circle cx="1494.3" cy="160.6"/>
<circle cx="1523.3" cy="260.0"/>
<circle cx="1488.3" cy="197.4"/>
<circle cx="1494.9" cy="320.1"/>
<circle cx="1641.9" cy="210.1"/>
<circle cx="1478.1" cy="168.5"/>
<circle cx="1519.3" cy="242.3"/>
<circle cx="1545.1" cy="280.8"/>
<circle cx="1555.4" cy="175.3"/>
<circle cx="1505.3" cy="173.0"/>
<circle cx="1510.6" cy="183.7"/>
<circle cx="1513.9" cy="230.2"/>
<circle cx="1565.1" cy="214.4"/>
<circle cx="1488.8" cy="170.8"/>
<circle cx="1543.7" cy="277.5"/>
<circle cx="1495.0" cy="232.6"/>
<circle cx="1510.4" cy="292.0"/>
<circle cx="1477.9" cy="243.0"/>
<circle cx="1527.2" cy="265.3"/>
<circle cx="1664.2" cy="212.9"/>
<circle cx="1568.4" cy="191.3"/>
<circle cx="1500.1" cy="288.4"/>
<circle cx="1486.6" cy="74.0"/>
<circle cx="1522.7" cy="211.5"/>
<circle cx="1588.2" cy="203.7"/>
<circle cx="1512.7" cy="278.8"/>
<circle cx="1576.7" cy="201.4"/>
<circle cx="1509.0" cy="251.4"/>
<circle cx="1553.3" cy="246.9"/>
<circle cx="1588.0" cy="255.3"/>
<circle cx="1731.1" cy="210.8"/>
<circle cx="1481.4" cy="142.6"/>
<circle cx="1521.0" cy="198.3"/>
<circle cx="1523.8" cy="176.7"/>
<circle cx="1476.4" cy="240.7"/>
<circle cx="1487.4" cy="287.0"/>
<circle cx="1631.6" cy="229.0"/>
<circle cx="1549.2" cy="288.3"/>
<circle cx="1480.2" cy="217.5"/>
<circle cx="1498.2" cy="190.5"/>
<circle cx="1482.9" cy="143.8"/>
<circle cx="1505.7" cy="217.2"/>
<circle cx="1507.3" cy="251.3"/>
<circle cx="1512.7" cy="348.9"/>
<circle cx="1491.6" cy="199.9"/>
<circle cx="1509.9" cy="265.7"/>
<circle cx="1513.9" cy="192.9"/>
<circle cx="1561.8" cy="195.8"/>
<circle cx="1538.6" cy="257.9"/>
<circle cx="1506.5" cy="172.0"/>
<circle cx="1549.7" cy="162.6"/>
<circle cx="1673.2" cy="219.0"/>
<circle cx="1503.5" cy="206.0"/>
<circle cx="1513.1" cy="234.9"/>
<circle cx="1547.4" cy="264.6"/>
<circle cx="1489.6" cy="318.8"/>
<circle cx="1516.0" cy="188.2"/>
<circle cx="1775.0" cy="233.6"/>
<circle cx="1482.5" cy="182.9"/>
<circle cx="1572.0" cy="185.0"/>
<circle cx="1547.8" cy="257.6"/>
<circle cx="1598.9" cy="200.8"/>
<circle cx="1616.3" cy="257.1"/>
<circle cx="1628.5" cy="221.8"/>
<circle cx="1586.3" cy="201.9"/>
<circle cx="1658.0" cy="215.9"/>
<circle cx="1528.8" cy="274.2"/>
<circle cx="1697.3" cy="217.0"/>
<circle cx="1484.1" cy="182.9"/>
<circle cx="1553.4" cy="350.5"/>
<circle cx="1556.1" cy="297.3"/>
<circle cx="1481.1" cy="304.6"/>
<circle cx="1483.6" cy="416.5"/>
<circle cx="1585.3" cy="222.6"/>
<circle cx="1492.0" cy="379.3"/>
<circle cx="1507.1" cy="441.8"/>
<circle cx="1487.9" cy="338.9"/>
<circle cx="1495.3" cy="132.5"/>
<circle cx="1508.6" cy="200.2"/>
<circle cx="1539.1" cy="214.4"/>
<circle cx="1476.6" cy="139.8"/>
<circle cx="1515.2" cy="281.2"/>
<circle cx="1655.5" cy="202.1"/>
<circle cx="1478.2" cy="255.7"/>
<circle cx="1513.1" cy="271.0"/>
<circle cx="1501.8" cy="194.8"/>
<circle cx="1501.0" cy="197.4"/>
<circle cx="1663.3" cy="225.6"/>
<circle cx="1506.1" cy="238.8"/>
<circle cx="1649.4" cy="202.3"/>
<circle cx="1690.8" cy="252.4"/>
<circle cx="1482.7" cy="134.6"/>
<circle cx="1535.1" cy="176.8"/>
<circle cx="1516.3" cy="207.2"/>
<circle cx="1576.6" cy="251.3"/>
<circle cx="1491.8" cy="191.5"/>
<circle cx="1629.8" cy="220.1"/>
<circle cx="1483.0" cy="195.5"/>
<circle cx="1487.7" cy="311.8"/>
<circle cx="1494.0" cy="203.0"/>
<circle cx="1483.5" cy="80.6"/>
<circle cx="1599.6" cy="223.7"/>
<circle cx="1507.4" cy="277.8"/>
<circle cx="1510.0" cy="145.7"/>
<circle cx="1497.8" cy="108.4"/>
<circle cx="1566.8" cy="212.9"/>
<circle cx="1550.7" cy="220.7"/>
<circle cx="1678.7" cy="233.0"/>
<circle cx="1578.3" cy="160.7"/>
<circle cx="1558.3" cy="174.5"/>
<circle cx="1544.2" cy="340.1"/>
<circle cx="1635.3" cy="183.4"/>
<circle cx="1479.5" cy="180.6"/>
<circle cx="1761.4" cy="227.5"/>
<circle cx="1487.6" cy="204.6"/>
<circle cx="1513.9" cy="193.0"/>
<circle cx="1534.0" cy="213.7"/>
<circle cx="1479.7" cy="189.3"/>
<circle cx="1656.8" cy="236.1"/>
<circle cx="1559.0" cy="236.3"/>
<circle cx="1505.8" cy="234.4"/>
<circle cx="1486.1" cy="205.1"/>
<circle cx="1481.2" cy="329.7"/>
<circle cx="1711.8" cy="208.7"/>
<circle cx="1487.6" cy="309.7"/>
<circle cx="1523.8" cy="174.2"/>
<circle cx="1477.7" cy="210.3"/>
<circle cx="1497.5" cy="201.3"/>
<circle cx="1614.8" cy="278.8"/>
<circle cx="1492.9" cy="212.9"/>
<circle cx="1642.5" cy="210.9"/>
<circle cx="1552.2" cy="251.5"/>
<circle cx="1566.4" cy="364.9"/>
<circle cx="1538.0" cy="148.4"/>
<circle cx="1544.6" cy="250.2"/>
<circle cx="1499.4" cy="180.4"/>
<circle cx="1505.7" cy="223.5"/>
<circle cx="1538.6" cy="174.3"/>
<circle cx="1476.4" cy="219.6"/>
<circle cx="1499.5" cy="196.4"/>
<circle cx="1585.6" cy="213.8"/>
<circle cx="1529.5" cy="327.8"/>
<circle cx="1618.6" cy="185.3"/>
<circle cx="1594.0" cy="288.9"/>
<circle cx="1491.4" cy="159.8"/>
<circle cx="1492.7" cy="177.6"/>
<circle cx="1525.9" cy="223.8"/>
<circle cx="1502.4" cy="245.1"/>
<circle cx="1632.5" cy="237.9"/>
<circle cx="1484.6" cy="218.5"/>
<circle cx="1544.8" cy="140.6"/>
<circle cx="1520.5" cy="188.3"/>
<circle cx="1552.8" cy="237.3"/>
<circle cx="1535.6" cy="231.4"/>
<circle cx="1663.2" cy="264.6"/>
<circle cx="1499.0" cy="145.6"/>
<circle cx="1558.1" cy="230.2"/>
<circle cx="1536.8" cy="227.0"/>
<circle cx="1589.3" cy="243.8"/>
<circle cx="1499.4" cy="205.7"/>
<circle cx="1495.2" cy="221.1"/>
<circle cx="1599.4" cy="246.0"/>
<circle cx="1503.3" cy="213.9"/>
<circle cx="1651.6" cy="198.8"/>
<circle cx="1508.2" cy="209.2"/>
<circle cx="1595.8" cy="210.8"/>
<circle cx="1540.8" cy="240.3"/>
<circle cx="1517.1" cy="214.0"/>
<circle cx="1477.9" cy="203.3"/>
<circle cx="1500.4" cy="217.6"/>
<circle cx="1595.0" cy="189.1"/>
<circle cx="1478.0" cy="283.0"/>
<circle cx="1498.1" cy="231.6"/>
<circle cx="1559.1" cy="196.7"/>
<circle cx="1641.6" cy="222.2"/>
<circle cx="1485.7" cy="243.1"/>
<circle cx="1612.2" cy="180.1"/>
<circle cx="1642.6" cy="264.4"/>
<circle cx="1617.4" cy="193.5"/>
<circle cx="1486.5" cy="240.5"/>
<circle cx="1541.6" cy="201.1"/>
<circle cx="1527.5" cy="219.8"/>
<circle cx="1616.5" cy="289.7"/>
<circle cx="1563.2" cy="215.6"/>
<circle cx="1611.2" cy="282.2"/>
<circle cx="1765.7" cy="252.2"/>
<circle cx="1555.6" cy="216.2"/>
<circle cx="1702.2" cy="256.3"/>
<circle cx="1713.7" cy="218.9"/>
<circle cx="1566.0" cy="220.5"/>
<circle cx="1507.0" cy="248.4"/>
<circle cx="1523.2" cy="186.4"/>
<circle cx="1494.6" cy="189.4"/>
<circle cx="1572.7" cy="272.0"/>
<circle cx="1613.3" cy="301.9"/>
<circle cx="1496.1" cy="263.4"/>
<circle cx="1530.0" cy="147.3"/>
<circle cx="1779.6" cy="217.5"/>
<circle cx="1515.6" cy="212.4"/>
<circle cx="1589.3" cy="214.1"/>
<circle cx="1505.6" cy="233.3"/>
<circle cx="1524.0" cy="272.0"/>
<circle cx="1477.7" cy="270.5"/>
<circle cx="1507.3" cy="285.6"/>
<circle cx="1491.9" cy="260.1"/>
<circle cx="1644.3" cy="223.7"/>
<circle cx="1555.1" cy="223.1"/>
<circle cx="1692.5" cy="206.2"/>
<circle cx="1526.2" cy="279.3"/>
<circle cx="1534.2" cy="207.3"/>
<circle cx="1598.7" cy="183.7"/>
<circle cx="1631.4" cy="225.6"/>
<circle cx="1529.5" cy="131.4"/>
<circle cx="1577.9" cy="175.7"/>
<circle cx="1478.2" cy="209.1"/>
<circle cx="1510.1" cy="155.2"/>
<circle cx="1489.8" cy="133.0"/>
<circle cx="1558.7" cy="196.5"/>
<circle cx="1478.0" cy="232.4"/>
<circle cx="1745.5" cy="215.2"/>
<circle cx="1571.4" cy="232.9"/>
<circle cx="1526.5" cy="275.5"/>
<circle cx="1495.9" cy="172.6"/>
<circle cx="1574.6" cy="210.0"/>
<circle cx="1544.4" cy="389.4"/>
<circle cx="1477.3" cy="239.6"/>
<circle cx="1568.6" cy="213.2"/>
<circle cx="1576.6" cy="229.9"/>
<circle cx="1548.9" cy="194.1"/>
<circle cx="1476.5" cy="219.3"/>
<circle cx="1509.0" cy="254.1"/>
<circle cx="1692.9" cy="267.1"/>
<circle cx="1556.7" cy="197.2"/>
<circle cx="1498.0" cy="181.9"/>
<circle cx="1502.1" cy="83.3"/>
<circle cx="1521.0" cy="305.6"/>
<circle cx="1571.0" cy="215.4"/>
<circle cx="1498.0" cy="214.6"/>
<circle cx="1483.2" cy="184.3"/>
<circle cx="1779.9" cy="200.9"/>
<circle cx="1479.6" cy="218.3"/>
<circle cx="1521.6" cy="236.8"/>
<circle cx="1757.3" cy="200.9"/>
<circle cx="1565.4" cy="183.9"/>
<circle cx="1489.6" cy="281.6"/>
<circle cx="1638.0" cy="219.7"/>
<circle cx="1503.5" cy="177.3"/>
<circle cx="1490.5" cy="217.7"/>
<circle cx="1497.0" cy="165.2"/>
<circle cx="1587.0" cy="222.7"/>
<circle cx="1482.2" cy="136.8"/>
<circle cx="1506.5" cy="271.9"/>
<circle cx="1500.0" cy="353.2"/>
<circle cx="1597.3" cy="208.1"/>
<circle cx="1499.5" cy="195.6"/>
<circle cx="1621.9" cy="276.9"/>
<circle cx="1528.1" cy="210.0"/>
<circle cx="1482.2" cy="250.2"/>
<circle cx="1584.4" cy="205.3"/>
<circle cx="1489.8" cy="254.8"/>
<circle cx="1503.2" cy="170.0"/>
<circle cx="1535.0" cy="185.9"/>
<circle cx="1484.9" cy="142.9"/>
<circle cx="1572.6" cy="230.0"/>
<circle cx="1476.9" cy="221.7"/>
<circle cx="1632.0" cy="229.9"/>
<circle cx="1515.8" cy="218.0"/>
<circle cx="1628.0" cy="208.5"/>
<circle cx="1478.0" cy="151.0"/>
<circle cx="1539.7" cy="261.5"/>
<circle cx="1498.3" cy="203.5"/>
<circle cx="1574.4" cy="188.6"/>
<circle cx="1512.9" cy="226.6"/>
<circle cx="1485.4" cy="225.2"/>
<circle cx="1501.5" cy="218.0"/>
<circle cx="1511.8" cy="288.8"/>
<circle cx="1518.3" cy="250.4"/>
<circle cx="1606.7" cy="285.3"/>
<circle cx="1486.6" cy="179.1"/>
<circle cx="1520.7" cy="170.1"/>
<circle cx="1697.9" cy="255.8"/>
<circle cx="1508.5" cy="208.4"/>
<circle cx="1614.1" cy="208.1"/>
<circle cx="1609.7" cy="198.4"/>
<circle cx="1601.3" cy="227.3"/>
<circle cx="1528.8" cy="279.3"/>
<circle cx="1591.8" cy="201.7"/>
<circle cx="1531.6" cy="227.3"/>
<circle cx="1619.5" cy="223.4"/>
<circle cx="1589.5" cy="260.1"/>
<circle cx="1852.9" cy="217.6"/>
<circle cx="1555.2" cy="209.1"/>
<circle cx="1538.5" cy="177.3"/>
<circle cx="1513.6" cy="133.5"/>
<circle cx="1526.0" cy="210.4"/>
<circle cx="1483.5" cy="221.5"/>
<circle cx="1494.3" cy="190.2"/>
<circle cx="1492.5" cy="220.8"/>
<circle cx="1504.6" cy="257.9"/>
<circle cx="1614.1" cy="189.7"/>
<circle cx="1552.0" cy="201.5"/>
<circle cx="1572.6" cy="214.9"/>
<circle cx="1558.1" cy="310.6"/>
<circle cx="1503.3" cy="191.0"/>
<circle cx="1509.1" cy="140.1"/>
<circle cx="1532.2" cy="206.8"/>
<circle cx="1570.8" cy="210.0"/>
<circle cx="1600.3" cy="239.7"/>
<circle cx="1514.3" cy="187.4"/>
<circle cx="1499.4" cy="254.1"/>
<circle cx="1580.4" cy="264.0"/>
<circle cx="1506.5" cy="256.1"/>
<circle cx="1563.9" cy="257.7"/>
<circle cx="1514.9" cy="186.0"/>
<circle cx="1547.6" cy="281.1"/>
<circle cx="1589.9" cy="214.2"/>
<circle cx="1564.9" cy="166.9"/>
<circle cx="1583.9" cy="302.5"/>
<circle cx="1537.0" cy="206.1"/>
<circle cx="1555.7" cy="185.9"/>
<circle cx="1603.0" cy="236.0"/>
<circle cx="1581.7" cy="231.9"/>
<circle cx="1626.4" cy="207.4"/>
<circle cx="1511.5" cy="174.3"/>
<circle cx="1687.2" cy="234.9"/>
<circle cx="1607.6" cy="218.7"/>
<circle cx="1527.9" cy="192.3"/>
<circle cx="1561.3" cy="301.8"/>
<circle cx="1529.7" cy="214.5"/>
<circle cx="1496.5" cy="228.6"/>
<circle cx="1503.1" cy="200.4"/>
<circle cx="1558.4" cy="231.6"/>
<circle cx="1539.4" cy="193.6"/>
<circle cx="1563.5" cy="230.9"/>
<circle cx="1704.2" cy="262.4"/>
<circle cx="1598.1" cy="193.5"/>
<circle cx="1481.9" cy="130.7"/>
<circle cx="1532.9" cy="165.4"/>
<circle cx="1503.9" cy="198.2"/>
<circle cx="1562.7" cy="218.4"/>
<circle cx="1537.3" cy="207.3"/>
<circle cx="1567.0" cy="230.8"/>
<circle cx="1652.5" cy="220.7"/>
<circle cx="1563.0" cy="275.9"/>
<circle cx="1592.6" cy="197.4"/>
<circle cx="1530.1" cy="262.9"/>
<circle cx="1583.6" cy="263.3"/>
<circle cx="1529.3" cy="196.5"/>
<circle cx="1477.5" cy="371.8"/>
<circle cx="1563.2" cy="307.5"/>
<circle cx="1564.5" cy="261.7"/>
<circle cx="1629.0" cy="268.1"/>
<circle cx="1485.1" cy="186.6"/>
<circle cx="1537.8" cy="201.5"/>
<circle cx="1574.1" cy="236.6"/>
<circle cx="1600.7" cy="187.2"/>
<circle cx="1479.6" cy="214.3"/>
<circle cx="1517.2" cy="249.0"/>
<circle cx="1537.3" cy="281.2"/>
<circle cx="1582.8" cy="160.6"/>
<circle cx="1499.0" cy="305.7"/>
<circle cx="1578.7" cy="337.3"/>
<circle cx="1537.6" cy="235.6"/>
<circle cx="1495.0" cy="285.8"/>
<circle cx="1497.7" cy="122.9"/>
<circle cx="1493.5" cy="164.3"/>
<circle cx="1524.8" cy="163.6"/>
<circle cx="1580.1" cy="188.2"/>
<circle cx="1573.2" cy="280.0"/>
<circle cx="1662.4" cy="199.7"/>
<circle cx="1590.5" cy="230.3"/>
<circle cx="1476.7" cy="208.8"/>
<circle cx="1496.0" cy="113.0"/>
<circle cx="1553.8" cy="282.6"/>
<circle cx="1719.1" cy="207.0"/>
<circle cx="1515.8" cy="181.8"/>
<circle cx="1562.7" cy="188.1"/>
<circle cx="1570.5" cy="147.5"/>
<circle cx="1477.9" cy="182.0"/>
<circle cx="1602.4" cy="220.1"/>
<circle cx="1503.2" cy="197.1"/>
<circle cx="1478.8" cy="236.0"/>
<circle cx="1490.6" cy="300.4"/>
<circle cx="1535.2" cy="255.8"/>
<circle cx="1551.8" cy="183.1"/>
<circle cx="1561.7" cy="285.6"/>
<circle cx="1547.5" cy="209.6"/>
<circle cx="1495.6" cy="304.8"/>
<circle cx="1482.2" cy="209.6"/>
<circle cx="1486.1" cy="225.8"/>
<circle cx="1523.0" cy="199.8"/>
<circle cx="1522.2" cy="178.2"/>
<circle cx="1563.4" cy="207.3"/>
<circle cx="1530.8" cy="260.1"/>
<circle cx="1733.1" cy="204.4"/>
<circle cx="1590.9" cy="218.3"/>
<circle cx="1561.6" cy="195.0"/>
<circle cx="1516.1" cy="220.6"/>
<circle cx="1528.6" cy="193.4"/>
<circle cx="1502.2" cy="318.3"/>
<circle cx="1546.0" cy="265.8"/>
<circle cx="1711.3" cy="260.9"/>
<circle cx="1482.3" cy="274.0"/>
<circle cx="1571.7" cy="262.8"/>
<circle cx="1567.8" cy="208.8"/>
<circle cx="1525.7" cy="258.7"/>
<circle cx="1495.7" cy="236.0"/>
<circle cx="1623.8" cy="237.8"/>
<circle cx="1512.5" cy="150.7"/>
<circle cx="1596.0" cy="208.1"/>
<circle cx="1749.3" cy="248.1"/>
<circle cx="1483.1" cy="186.6"/>
<circle cx="1478.1" cy="194.3"/>
<circle cx="1487.5" cy="257.2"/>
<circle cx="1596.2" cy="228.5"/>
<circle cx="1728.1" cy="246.0"/>
<circle cx="1501.3" cy="212.8"/>
<circle cx="1520.8" cy="287.5"/>
<circle cx="1566.5" cy="219.5"/>
<circle cx="1544.2" cy="156.9"/>
<circle cx="1568.8" cy="209.8"/>
<circle cx="1535.2" cy="314.6"/>
<circle cx="1532.7" cy="212.0"/>
<circle cx="1536.9" cy="237.6"/>
<circle cx="1486.4" cy="249.0"/>
<circle cx="1837.8" cy="235.3"/>
<circle cx="1478.9" cy="165.2"/>
<circle cx="1614.5" cy="216.7"/>
<circle cx="1502.9" cy="324.6"/>
<circle cx="1494.0" cy="253.7"/>
<circle cx="1646.1" cy="184.9"/>
<circle cx="1540.6" cy="186.7"/>
<circle cx="1524.3" cy="336.8"/>
<circle cx="1505.8" cy="211.3"/>
<circle cx="1484.7" cy="132.2"/>
<circle cx="1568.6" cy="234.6"/>
<circle cx="1525.2" cy="173.8"/>
<circle cx="1568.1" cy="171.6"/>
<circle cx="1493.9" cy="112.0"/>
<circle cx="1522.9" cy="169.3"/>
<circle cx="1485.0" cy="178.6"/>
<circle cx="1622.6" cy="192.0"/>
<circle cx="1609.5" cy="202.4"/>
<circle cx="1537.9" cy="297.7"/>
<circle cx="1535.4" cy="213.5"/>
<circle cx="1498.1" cy="234.4"/>
<circle cx="1549.4" cy="252.0"/>
<circle cx="1567.8" cy="214.3"/>
<circle cx="1515.6" cy="205.1"/>
<circle cx="1517.9" cy="204.1"/>
<circle cx="1498.8" cy="247.9"/>
<circle cx="1545.9" cy="202.4"/>
<circle cx="1531.7" cy="205.8"/>
<circle cx="1510.9" cy="342.8"/>
<circle cx="1638.3" cy="231.7"/>
<circle cx="1542.2" cy="214.2"/>
<circle cx="1573.5" cy="169.9"/>
<circle cx="1585.1" cy="306.2"/>
<circle cx="1483.1" cy="196.3"/>
<circle cx="1523.3" cy="238.5"/>
<circle cx="1532.7" cy="271.8"/>
<circle cx="1506.3" cy="161.8"/>
<circle cx="1553.2" cy="113.8"/>
<circle cx="1536.5" cy="245.7"/>
<circle cx="1484.7" cy="149.6"/>
<circle cx="1517.3" cy="227.3"/>
<circle cx="1493.4" cy="167.2"/>
<circle cx="1657.7" cy="213.7"/>
<circle cx="1542.1" cy="238.8"/>
<circle cx="1503.5" cy="209.3"/>
<circle cx="1475.7" cy="314.7"/>
<circle cx="1547.7" cy="195.1"/>
<circle cx="1527.0" cy="271.7"/>
<circle cx="1515.4" cy="246.1"/>
<circle cx="1561.1" cy="183.4"/>
<circle cx="1501.1" cy="348.8"/>
<circle cx="1494.8" cy="233.9"/>
<circle cx="1519.7" cy="203.5"/>
<circle cx="1557.2" cy="182.2"/>
<circle cx="1560.7" cy="220.1"/>
<circle cx="1487.0" cy="280.4"/>
<circle cx="1495.6" cy="179.5"/>
<circle cx="1659.1" cy="270.4"/>
<circle cx="1477.7" cy="203.8"/>
<circle cx="1480.4" cy="244.1"/>
<circle cx="1510.3" cy="285.5"/>
<circle cx="1542.8" cy="264.8"/>
<circle cx="1511.2" cy="260.4"/>
<circle cx="1525.0" cy="247.3"/>
<circle cx="1485.9" cy="194.2"/>
<circle cx="1478.8" cy="240.2"/>
<circle cx="1549.0" cy="242.6"/>
<circle cx="1595.4" cy="215.9"/>
<circle cx="1498.8" cy="282.5"/>
<circle cx="1481.7" cy="192.1"/>
<circle cx="1515.7" cy="344.2"/>
<circle cx="1493.7" cy="218.9"/>
<circle cx="1605.2" cy="292.6"/>
<circle cx="1554.6" cy="227.4"/>
<circle cx="1489.2" cy="173.1"/>
<circle cx="1505.3" cy="275.5"/>
<circle cx="1565.0" cy="202.0"/>
<circle cx="1504.9" cy="208.0"/>
<circle cx="1512.3" cy="175.5"/>
<circle cx="1542.6" cy="304.1"/>
<circle cx="1531.1" cy="226.6"/>
<circle cx="1560.5" cy="194.9"/>
<circle cx="1517.4" cy="356.6"/>
<circle cx="1600.9" cy="207.8"/>
<circle cx="1484.5" cy="202.8"/>
<circle cx="1603.7" cy="282.5"/>
<circle cx="1486.0" cy="260.1"/>
<circle cx="1515.7" cy="170.0"/>
<circle cx="1558.9" cy="206.7"/>
<circle cx="1522.7" cy="218.0"/>
<circle cx="1565.2" cy="192.4"/>
<circle cx="1523.6" cy="197.3"/>
<circle cx="1682.0" cy="220.1"/>
<circle cx="1657.9" cy="216.0"/>
<circle cx="1500.5" cy="169.8"/>
<circle cx="1554.6" cy="351.5"/>
<circle cx="1564.6" cy="208.0"/>
<circle cx="1500.5" cy="205.7"/>
<circle cx="1560.7" cy="164.3"/>
<circle cx="1722.7" cy="211.0"/>
<circle cx="1498.5" cy="274.3"/>
<circle cx="1817.2" cy="238.6"/>
<circle cx="1503.5" cy="221.6"/>
<circle cx="1706.7" cy="217.2"/>
<circle cx="1599.9" cy="220.4"/>
<circle cx="1576.7" cy="307.2"/>
<circle cx="1593.5" cy="224.9"/>
<circle cx="1738.2" cy="259.9"/>
<circle cx="1561.0" cy="195.4"/>
<circle cx="1635.1" cy="239.0"/>
<circle cx="1546.7" cy="234.7"/>
<circle cx="1551.5" cy="289.5"/>
<circle cx="1633.6" cy="237.0"/>
<circle cx="1564.4" cy="270.4"/>
<circle cx="1480.1" cy="243.5"/>
<circle cx="1545.5" cy="217.8"/>
<circle cx="1563.7" cy="192.6"/>
<circle cx="1523.8" cy="262.1"/>
<circle cx="1557.3" cy="286.8"/>
<circle cx="1551.7" cy="170.0"/>
<circle cx="1501.9" cy="324.7"/>
<circle cx="1633.4" cy="218.6"/>
<circle cx="1491.5" cy="260.2"/>
<circle cx="1491.4" cy="181.5"/>
<circle cx="1505.9" cy="247.3"/>
<circle cx="1548.7" cy="236.3"/>
<circle cx="1506.2" cy="168.7"/>
<circle cx="1532.7" cy="209.4"/>
<circle cx="1548.9" cy="283.5"/>
<circle cx="1502.8" cy="246.6"/>
<circle cx="1505.3" cy="221.5"/>
<circle cx="1538.9" cy="176.4"/>
<circle cx="1508.6" cy="314.3"/>
<circle cx="1497.0" cy="240.0"/>
<circle cx="1585.5" cy="235.4"/>
<circle cx="1516.4" cy="153.5"/>
<circle cx="1576.7" cy="237.5"/>
<circle cx="1490.7" cy="251.8"/>
<circle cx="1553.8" cy="210.3"/>
<circle cx="1601.7" cy="221.4"/>
<circle cx="1576.7" cy="178.6"/>
<circle cx="1561.4" cy="270.4"/>
<circle cx="1505.7" cy="117.6"/>
<circle cx="1493.9" cy="177.0"/>
<circle cx="1777.3" cy="211.0"/>
<circle cx="1655.0" cy="188.4"/>
<circle cx="1674.9" cy="304.4"/>
<circle cx="1521.3" cy="290.9"/>
<circle cx="1541.2" cy="225.1"/>
<circle cx="1668.9" cy="193.9"/>
<circle cx="1502.0" cy="226.2"/>
<circle cx="1515.9" cy="238.1"/>
<circle cx="1501.2" cy="235.1"/>
<circle cx="1620.6" cy="256.3"/>
<circle cx="1550.1" cy="268.4"/>
<circle cx="1564.7" cy="188.3"/>
<circle cx="1486.9" cy="284.6"/>
<circle cx="1566.2" cy="352.4"/>
<circle cx="1561.7" cy="269.2"/>
<circle cx="1542.7" cy="180.2"/>
<circle cx="1504.6" cy="248.3"/>
<circle cx="1533.9" cy="243.8"/>
<circle cx="1686.9" cy="212.9"/>
<circle cx="1536.6" cy="262.1"/>
<circle cx="1494.8" cy="184.5"/>
<circle cx="1567.0" cy="247.8"/>
<circle cx="1484.7" cy="184.6"/>
<circle cx="1495.5" cy="297.0"/>
<circle cx="1624.6" cy="183.7"/>
<circle cx="1521.7" cy="254.9"/>
<circle cx="1578.7" cy="187.2"/>
<circle cx="1480.7" cy="339.9"/>
<circle cx="1487.3" cy="143.1"/>
<circle cx="1483.9" cy="233.2"/>
<circle cx="1518.8" cy="300.1"/>
<circle cx="1526.7" cy="238.5"/>
<circle cx="1628.0" cy="202.9"/>
<circle cx="1476.8" cy="287.2"/>
<circle cx="1572.4" cy="183.0"/>
<circle cx="1492.9" cy="312.3"/>
<circle cx="1526.7" cy="183.2"/>
<circle cx="1547.3" cy="293.9"/>
<circle cx="1575.8" cy="207.1"/>
<circle cx="1478.6" cy="207.8"/>
<circle cx="1552.8" cy="257.5"/>
<circle cx="1512.2" cy="118.4"/>
<circle cx="1534.0" cy="294.7"/>
<circle cx="1490.5" cy="343.6"/>
<circle cx="1549.3" cy="191.1"/>
<circle cx="1874.8" cy="227.8"/>
<circle cx="1562.5" cy="181.4"/>
<circle cx="1541.4" cy="221.6"/>
<circle cx="1476.7" cy="141.9"/>
<circle cx="1510.4" cy="143.8"/>
<circle cx="1519.8" cy="205.6"/>
<circle cx="1540.0" cy="214.2"/>
<circle cx="1510.5" cy="235.4"/>
<circle cx="1504.6" cy="228.9"/>
<circle cx="1476.1" cy="205.6"/>
<circle cx="1479.4" cy="119.0"/>
<circle cx="1500.4" cy="344.3"/>
<circle cx="1514.9" cy="183.1"/>
<circle cx="1623.8" cy="217.8"/>
<circle cx="1538.3" cy="256.8"/>
<circle cx="1486.4" cy="196.3"/>
<circle cx="1955.5" cy="216.4"/>
<circle cx="1561.6" cy="208.5"/>
<circle cx="1559.8" cy="202.1"/>
<circle cx="1485.8" cy="275.3"/>
<circle cx="1522.1" cy="187.7"/>
<circle cx="1494.8" cy="294.7"/>
<circle cx="1559.1" cy="164.0"/>
<circle cx="1504.5" cy="147.9"/>
<circle cx="1502.3" cy="245.8"/>
<circle cx="1712.0" cy="215.9"/>
<circle cx="1520.4" cy="227.1"/>
<circle cx="1540.4" cy="137.3"/>
<circle cx="1609.2" cy="246.7"/>
<circle cx="1490.9" cy="236.0"/>
<circle cx="1668.9" cy="250.5"/>
<circle cx="1520.0" cy="300.1"/>
<circle cx="1562.0" cy="221.1"/>
<circle cx="1680.9" cy="210.3"/>
<circle cx="1493.5" cy="188.4"/>
<circle cx="1581.5" cy="289.0"/>
<circle cx="1488.1" cy="161.4"/>
<circle cx="1593.4" cy="208.3"/>
<circle cx="1601.9" cy="206.5"/>
<circle cx="1541.1" cy="221.0"/>
<circle cx="1497.1" cy="289.8"/>
<circle cx="1514.4" cy="300.1"/>
<circle cx="1558.5" cy="226.0"/>
<circle cx="1556.0" cy="162.3"/>
<circle cx="1500.0" cy="211.5"/>
<circle cx="1517.0" cy="146.2"/>
<circle cx="1669.6" cy="197.9"/>
<circle cx="1522.4" cy="213.9"/>
<circle cx="1530.3" cy="228.7"/>
<circle cx="1493.4" cy="242.1"/>
<circle cx="1599.5" cy="224.5"/>
<circle cx="1568.0" cy="208.2"/>
<circle cx="1612.9" cy="244.2"/>
<circle cx="1521.3" cy="175.6"/>
<circle cx="1531.3" cy="180.4"/>
<circle cx="1520.1" cy="256.3"/>
<circle cx="1537.7" cy="181.3"/>
<circle cx="1533.1" cy="204.5"/>
<circle cx="1501.8" cy="225.2"/>
<circle cx="1584.5" cy="250.7"/>
<circle cx="1492.3" cy="222.9"/>
<circle cx="1697.1" cy="190.7"/>
<circle cx="1595.3" cy="254.9"/>
<circle cx="1515.7" cy="137.7"/>
<circle cx="1623.8" cy="206.9"/>
<circle cx="1522.2" cy="249.0"/>
<circle cx="1686.7" cy="205.0"/>
<circle cx="1513.8" cy="296.1"/>
<circle cx="1527.4" cy="252.9"/>
<circle cx="1499.8" cy="192.5"/>
<circle cx="1485.2" cy="192.8"/>
<circle cx="1522.5" cy="302.8"/>
<circle cx="1533.8" cy="122.4"/>
<circle cx="1527.2" cy="204.0"/>
<circle cx="1597.8" cy="216.2"/>
<circle cx="1657.7" cy="218.1"/>
<circle cx="1490.7" cy="210.1"/>
<circle cx="1550.6" cy="240.1"/>
<circle cx="1569.7" cy="267.0"/>
<circle cx="1486.2" cy="342.0"/>
<circle cx="1546.4" cy="231.6"/>
<circle cx="1476.9" cy="198.5"/>
<circle cx="1573.2" cy="243.6"/>
<circle cx="1504.6" cy="270.7"/>
<circle cx="1475.9" cy="315.9"/>
<circle cx="1562.2" cy="242.7"/>
<circle cx="1496.2" cy="256.8"/>
<circle cx="1477.7" cy="177.1"/>
<circle cx="1482.3" cy="150.3"/>
<circle cx="1499.4" cy="248.9"/>
<circle cx="1562.8" cy="233.7"/>
<circle cx="1543.8" cy="216.6"/>
<circle cx="1598.6" cy="223.1"/>
<circle cx="1559.8" cy="288.4"/>
<circle cx="1486.9" cy="253.5"/>
<circle cx="1545.2" cy="215.7"/>
<circle cx="1534.7" cy="241.2"/>
<circle cx="1497.3" cy="320.0"/>
<circle cx="1574.1" cy="259.4"/>
<circle cx="1566.9" cy="229.3"/>
<circle cx="1636.2" cy="233.7"/>
<circle cx="1650.0" cy="258.1"/>
<circle cx="1476.5" cy="203.4"/>
<circle cx="1556.8" cy="216.4"/>
<circle cx="1516.0" cy="140.2"/>
<circle cx="1526.4" cy="264.8"/>
<circle cx="1548.6" cy="179.9"/>
<circle cx="1525.0" cy="298.2"/>
<circle cx="1530.0" cy="306.1"/>
<circle cx="1503.3" cy="179.6"/>
<circle cx="1551.8" cy="249.1"/>
<circle cx="1497.0" cy="184.0"/>
<circle cx="1497.7" cy="289.5"/>
<circle cx="1499.4" cy="172.2"/>
<circle cx="1572.8" cy="305.4"/>
<circle cx="1529.4" cy="145.4"/>
<circle cx="1504.5" cy="118.1"/>
<circle cx="1536.8" cy="163.1"/>
<circle cx="1524.0" cy="186.1"/>
<circle cx="1513.2" cy="231.8"/>
<circle cx="1530.1" cy="181.6"/>
<circle cx="1503.6" cy="188.3"/>
<circle cx="1623.5" cy="250.5"/>
<circle cx="1478.0" cy="317.2"/>
<circle cx="1541.5" cy="222.9"/>
<circle cx="1518.8" cy="194.5"/>
<circle cx="1551.7" cy="240.2"/>
<circle cx="1481.6" cy="300.2"/>
<circle cx="1543.5" cy="259.6"/>
<circle cx="1519.3" cy="232.9"/>
<circle cx="1478.8" cy="86.5"/>
<circle cx="1573.7" cy="222.1"/>
<circle cx="1503.5" cy="196.0"/>
<circle cx="1599.0" cy="301.4"/>
<circle cx="1622.1" cy="210.7"/>
<circle cx="1698.2" cy="220.5"/>
<circle cx="1515.6" cy="218.3"/>
<circle cx="1616.3" cy="234.0"/>
<circle cx="1517.2" cy="264.6"/>
<circle cx="1485.4" cy="193.7"/>
<circle cx="1511.8" cy="261.8"/>
<circle cx="1497.3" cy="209.9"/>
<circle cx="1531.5" cy="214.7"/>
<circle cx="1610.4" cy="193.1"/>
<circle cx="1580.5" cy="178.9"/>
<circle cx="1730.1" cy="302.2"/>
<circle cx="1600.6" cy="225.2"/>
<circle cx="1522.9" cy="193.4"/>
<circle cx="1574.4" cy="226.9"/>
<circle cx="1484.3" cy="156.0"/>
<circle cx="1502.4" cy="73.2"/>
<circle cx="1500.7" cy="225.4"/>
<circle cx="1601.7" cy="254.8"/>
<circle cx="1516.3" cy="157.5"/>
<circle cx="1540.6" cy="260.5"/>
<circle cx="1748.9" cy="238.0"/>
<circle cx="1530.0" cy="193.9"/>
<circle cx="1532.1" cy="218.1"/>
<circle cx="1500.3" cy="307.0"/>
<circle cx="1514.7" cy="261.4"/>
<circle cx="1536.1" cy="244.2"/>
<circle cx="1479.9" cy="83.6"/>
<circle cx="1478.1" cy="169.4"/>
<circle cx="1596.6" cy="187.0"/>
<circle cx="1521.5" cy="265.7"/>
<circle cx="1596.1" cy="191.2"/>
<circle cx="1536.2" cy="208.8"/>
<circle cx="1640.5" cy="200.4"/>
<circle cx="1644.6" cy="203.3"/>
<circle cx="1479.5" cy="196.3"/>
<circle cx="1571.8" cy="186.3"/>
<circle cx="1536.7" cy="214.9"/>
<circle cx="1481.4" cy="133.4"/>
<circle cx="1522.2" cy="196.7"/>
<circle cx="1517.7" cy="242.3"/>
<circle cx="1684.2" cy="227.8"/>
<circle cx="1505.7" cy="153.0"/>
<circle cx="1525.2" cy="176.8"/>
<circle cx="1671.1" cy="237.9"/>
<circle cx="1612.9" cy="223.6"/>
<circle cx="1497.4" cy="254.2"/>
<circle cx="1497.0" cy="195.5"/>
<circle cx="1501.0" cy="269.0"/>
<circle cx="1483.2" cy="236.2"/>
<circle cx="1595.2" cy="219.9"/>
<circle cx="1692.1" cy="280.0"/>
<circle cx="1480.0" cy="233.6"/>
<circle cx="1586.2" cy="232.1"/>
<circle cx="1531.6" cy="298.2"/>
<circle cx="1783.8" cy="246.2"/>
<circle cx="1535.0" cy="197.1"/>
<circle cx="1620.0" cy="210.9"/>
<circle cx="1572.2" cy="270.2"/>
<circle cx="1475.9" cy="237.8"/>
<circle cx="1480.9" cy="132.6"/>
<circle cx="1484.2" cy="72.0"/>
<circle cx="1854.3" cy="208.5"/>
<circle cx="1551.5" cy="268.1"/>
<circle cx="1538.1" cy="149.7"/>
<circle cx="1615.0" cy="185.4"/>
<circle cx="1646.8" cy="208.3"/>
<circle cx="1660.0" cy="212.0"/>
<circle cx="1497.7" cy="151.6"/>
<circle cx="1688.6" cy="238.1"/>
<circle cx="1492.9" cy="308.0"/>
<circle cx="1563.8" cy="190.8"/>
<circle cx="1524.2" cy="217.8"/>
<circle cx="1489.4" cy="274.9"/>
<circle cx="1495.1" cy="283.2"/>
<circle cx="1613.0" cy="171.9"/>
<circle cx="1583.0" cy="206.8"/>
<circle cx="1499.9" cy="238.8"/>
<circle cx="1515.6" cy="325.7"/>
<circle cx="1530.2" cy="224.5"/>
<circle cx="1565.2" cy="314.9"/>
<circle cx="1503.8" cy="261.3"/>
<circle cx="1526.4" cy="224.1"/>
<circle cx="1538.2" cy="231.8"/>
<circle cx="1488.9" cy="226.7"/>
<circle cx="1496.7" cy="335.0"/>
<circle cx="1748.9" cy="212.6"/>
<circle cx="1840.1" cy="222.9"/>
<circle cx="1497.3" cy="203.8"/>
<circle cx="1503.8" cy="213.3"/>
<circle cx="1570.6" cy="431.4"/>
<circle cx="1481.9" cy="146.4"/>
<circle cx="1534.5" cy="145.3"/>
<circle cx="1529.2" cy="242.3"/>
<circle cx="1566.8" cy="218.1"/>
<circle cx="1483.2" cy="131.3"/>
<circle cx="1587.3" cy="251.9"/>
<circle cx="1604.3" cy="221.4"/>
<circle cx="1500.7" cy="208.3"/>
<circle cx="1616.1" cy="216.1"/>
<circle cx="1690.4" cy="262.5"/>
<circle cx="1560.4" cy="191.3"/>
<circle cx="1493.9" cy="266.8"/>
<circle cx="1528.0" cy="338.4"/>
<circle cx="1514.3" cy="268.8"/>
<circle cx="1574.6" cy="253.8"/>
<circle cx="1672.1" cy="206.3"/>
<circle cx="1626.1" cy="175.0"/>
<circle cx="1602.0" cy="213.6"/>
<circle cx="1625.4" cy="192.2"/>
<circle cx="1706.6" cy="297.7"/>
<circle cx="1482.4" cy="262.7"/>
<circle cx="1557.6" cy="213.2"/>
<circle cx="1506.8" cy="194.1"/>
<circle cx="1475.9" cy="338.9"/>
<circle cx="1530.8" cy="301.9"/>
<circle cx="1753.1" cy="223.0"/>
<circle cx="1574.6" cy="191.0"/>
<circle cx="1486.7" cy="187.8"/>
<circle cx="1485.6" cy="186.4"/>
<circle cx="1534.3" cy="243.2"/>
<circle cx="1480.6" cy="161.4"/>
<circle cx="1541.0" cy="204.0"/>
<circle cx="1517.6" cy="292.9"/>
<circle cx="1564.3" cy="285.0"/>
<circle cx="1613.9" cy="210.1"/>
<circle cx="1598.0" cy="274.1"/>
<circle cx="1545.0" cy="219.2"/>
<circle cx="1544.8" cy="191.3"/>
<circle cx="1522.4" cy="268.9"/>
<circle cx="1501.5" cy="318.4"/>
<circle cx="1543.4" cy="237.3"/>
<circle cx="1604.1" cy="194.1"/>
<circle cx="1538.2" cy="229.5"/>
<circle cx="1553.2" cy="213.9"/>
<circle cx="1569.4" cy="183.3"/>
<circle cx="1526.7" cy="207.1"/>
<circle cx="1492.0" cy="274.6"/>
<circle cx="1518.3" cy="230.2"/>
<circle cx="1503.5" cy="243.7"/>
<circle cx="1486.7" cy="316.1"/>
<circle cx="1678.4" cy="223.7"/>
<circle cx="1512.6" cy="211.0"/>
<circle cx="1553.0" cy="206.3"/>
<circle cx="1572.6" cy="304.8"/>
<circle cx="1524.7" cy="182.1"/>
<circle cx="1484.7" cy="256.4"/>
<circle cx="1514.8" cy="308.7"/>
<circle cx="1569.8" cy="235.5"/>
<circle cx="1515.4" cy="179.2"/>
<circle cx="1480.1" cy="173.0"/>
<circle cx="1626.8" cy="186.1"/>
<circle cx="1552.3" cy="181.8"/>
<circle cx="1478.4" cy="241.6"/>
<circle cx="1510.3" cy="258.3"/>
<circle cx="1637.0" cy="224.8"/>
<circle cx="1563.1" cy="317.3"/>
<circle cx="1811.1" cy="244.1"/>
<circle cx="1578.4" cy="287.6"/>
<circle cx="1491.9" cy="241.5"/>
<circle cx="1603.9" cy="193.8"/>
<circle cx="1520.9" cy="290.6"/>
<circle cx="1564.4" cy="324.0"/>
<circle cx="1550.8" cy="160.1"/>
<circle cx="1499.8" cy="357.0"/>
<circle cx="1490.7" cy="241.1"/>
<circle cx="1666.1" cy="259.6"/>
<circle cx="1492.1" cy="140.9"/>
<circle cx="1528.5" cy="242.9"/>
<circle cx="1507.2" cy="142.5"/>
<circle cx="1651.9" cy="205.3"/>
<circle cx="1511.2" cy="253.6"/>
<circle cx="1597.0" cy="210.3"/>
<circle cx="1481.7" cy="357.6"/>
<circle cx="1599.0" cy="198.3"/>
<circle cx="1491.9" cy="275.8"/>
<circle cx="1567.7" cy="219.1"/>
<circle cx="1497.2" cy="228.2"/>
<circle cx="1575.2" cy="389.9"/>
<circle cx="1485.0" cy="264.8"/>
<circle cx="1555.1" cy="279.0"/>
<circle cx="1507.8" cy="194.8"/>
<circle cx="1506.6" cy="321.7"/>
<circle cx="1500.6" cy="261.1"/>
<circle cx="1553.9" cy="186.8"/>
<circle cx="1490.8" cy="257.4"/>
<circle cx="1617.1" cy="260.6"/>
<circle cx="1487.4" cy="128.0"/>
<circle cx="1490.4" cy="210.6"/>
<circle cx="1695.8" cy="229.8"/>
<circle cx="1625.2" cy="169.1"/>
<circle cx="1518.8" cy="287.0"/>
<circle cx="1587.0" cy="223.6"/>
<circle cx="1493.3" cy="183.2"/>
<circle cx="1561.8" cy="232.3"/>
<circle cx="1535.6" cy="187.5"/>
<circle cx="1545.8" cy="217.1"/>
<circle cx="1719.7" cy="235.2"/>
<circle cx="1506.6" cy="308.0"/>
<circle cx="1564.6" cy="217.0"/>
<circle cx="1483.9" cy="280.6"/>
<circle cx="1497.6" cy="93.3"/>
<circle cx="1675.9" cy="204.6"/>
<circle cx="1501.6" cy="208.6"/>
<circle cx="1552.0" cy="222.5"/>
<circle cx="1495.7" cy="297.0"/>
<circle cx="1508.4" cy="199.8"/>
<circle cx="1486.4" cy="164.6"/>
<circle cx="1557.8" cy="266.1"/>
<circle cx="1537.2" cy="219.7"/>
<circle cx="1509.7" cy="188.8"/>
<circle cx="1583.8" cy="309.8"/>
<circle cx="1476.2" cy="206.6"/>
<circle cx="1518.6" cy="249.3"/>
<circle cx="1543.8" cy="323.7"/>
<circle cx="1483.6" cy="265.8"/>
<circle cx="1494.4" cy="253.7"/>
<circle cx="1505.0" cy="291.1"/>
<circle cx="1560.0" cy="238.6"/>
<circle cx="1508.3" cy="203.1"/>
<circle cx="1591.3" cy="154.3"/>
<circle cx="1483.3" cy="243.4"/>
<circle cx="1603.8" cy="258.4"/>
<circle cx="1518.5" cy="190.9"/>
<circle cx="1531.6" cy="272.3"/>
<circle cx="1513.7" cy="183.0"/>
<circle cx="1534.6" cy="214.9"/>
<circle cx="1480.7" cy="366.7"/>
<circle cx="1537.1" cy="210.9"/>
<circle cx="1552.5" cy="207.8"/>
<circle cx="1609.4" cy="199.5"/>
<circle cx="1786.7" cy="219.5"/>
<circle cx="1503.6" cy="204.2"/>
<circle cx="1501.0" cy="169.2"/>
<circle cx="1555.1" cy="280.1"/>
<circle cx="1502.2" cy="232.7"/>
<circle cx="1677.5" cy="249.4"/>
<circle cx="1543.8" cy="168.3"/>
<circle cx="1565.7" cy="188.9"/>
<circle cx="1602.6" cy="216.4"/>
<circle cx="1546.5" cy="209.8"/>
<circle cx="1513.2" cy="258.3"/>
<circle cx="1530.6" cy="219.7"/>
<circle cx="1554.2" cy="177.3"/>
<circle cx="1481.4" cy="261.3"/>
<circle cx="1603.8" cy="227.3"/>
<circle cx="1649.8" cy="228.4"/>
<circle cx="1741.1" cy="226.1"/>
<circle cx="1559.6" cy="209.9"/>
<circle cx="1567.3" cy="247.4"/>
<circle cx="1535.3" cy="239.7"/>
<circle cx="1632.6" cy="198.8"/>
<circle cx="1499.9" cy="293.0"/>
<circle cx="1546.0" cy="212.9"/>
<circle cx="1528.6" cy="214.6"/>
<circle cx="1602.6" cy="204.3"/>
<circle cx="1522.0" cy="155.9"/>
<circle cx="1543.2" cy="339.1"/>
<circle cx="1513.5" cy="337.7"/>
<circle cx="1548.1" cy="216.1"/>
<circle cx="1526.7" cy="163.9"/>
<circle cx="1541.2" cy="215.5"/>
<circle cx="1575.6" cy="313.5"/>
<circle cx="1561.2" cy="200.5"/>
<circle cx="1496.0" cy="96.1"/>
<circle cx="1483.8" cy="190.9"/>
<circle cx="1483.3" cy="209.0"/>
<circle cx="1523.8" cy="241.8"/>
<circle cx="1502.6" cy="248.8"/>
<circle cx="1583.0" cy="230.9"/>
<circle cx="1532.4" cy="219.9"/>
<circle cx="1563.8" cy="226.6"/>
<circle cx="1517.3" cy="189.8"/>
<circle cx="1560.0" cy="209.6"/>
<circle cx="1546.0" cy="190.1"/>
<circle cx="1527.0" cy="236.0"/>
<circle cx="1494.6" cy="141.1"/>
<circle cx="1649.2" cy="227.5"/>
<circle cx="1512.5" cy="198.8"/>
<circle cx="1533.7" cy="182.1"/>
<circle cx="1518.3" cy="172.6"/>
<circle cx="1494.9" cy="196.9"/>
<circle cx="1480.7" cy="189.6"/>
<circle cx="1539.5" cy="210.6"/>
<circle cx="1522.7" cy="191.6"/>
<circle cx="1514.7" cy="173.2"/>
<circle cx="1685.3" cy="197.5"/>
<circle cx="1501.0" cy="166.7"/>
<circle cx="1511.4" cy="237.2"/>
<circle cx="1565.0" cy="328.3"/>
<circle cx="1493.2" cy="153.5"/>
<circle cx="1486.2" cy="230.4"/>
<circle cx="1588.8" cy="278.2"/>
<circle cx="1512.1" cy="156.2"/>
<circle cx="1537.2" cy="252.0"/>
<circle cx="1510.7" cy="245.3"/>
<circle cx="1584.4" cy="318.9"/>
<circle cx="1487.6" cy="207.2"/>
<circle cx="1524.0" cy="216.4"/>
<circle cx="1550.7" cy="190.9"/>
<circle cx="1491.3" cy="201.1"/>
<circle cx="1667.5" cy="218.0"/>
<circle cx="1560.5" cy="189.8"/>
<circle cx="1666.9" cy="251.9"/>
<circle cx="1648.2" cy="232.2"/>
<circle cx="1621.9" cy="197.0"/>
<circle cx="1493.1" cy="193.7"/>
<circle cx="1547.4" cy="280.1"/>
<circle cx="1525.2" cy="251.8"/>
<circle cx="1485.6" cy="151.3"/>
<circle cx="1573.3" cy="209.6"/>
<circle cx="1538.9" cy="174.7"/>
<circle cx="1535.8" cy="160.4"/>
<circle cx="1551.0" cy="269.3"/>
<circle cx="1531.4" cy="208.7"/>
<circle cx="1536.5" cy="241.9"/>
<circle cx="1483.7" cy="192.8"/>
<circle cx="1815.5" cy="214.1"/>
<circle cx="1543.4" cy="207.0"/>
<circle cx="1518.3" cy="242.9"/>
<circle cx="1622.0" cy="314.5"/>
<circle cx="1487.1" cy="322.5"/>
<circle cx="1517.4" cy="211.7"/>
<circle cx="1513.8" cy="210.7"/>
<circle cx="1528.2" cy="211.6"/>
<circle cx="1527.4" cy="201.4"/>
<circle cx="1514.9" cy="223.5"/>
<circle cx="1695.8" cy="207.4"/>
<circle cx="1502.1" cy="201.3"/>
<circle cx="1621.8" cy="258.5"/>
<circle cx="1529.1" cy="301.0"/>
<circle cx="1603.8" cy="227.4"/>
<circle cx="1501.7" cy="189.7"/>
<circle cx="1570.6" cy="251.8"/>
<circle cx="1504.7" cy="238.0"/>
<circle cx="1484.0" cy="141.5"/>
<circle cx="1479.7" cy="212.2"/>
<circle cx="1509.2" cy="272.6"/>
<circle cx="1475.6" cy="98.2"/>
<circle cx="1477.5" cy="188.2"/>
<circle cx="1578.1" cy="204.7"/>
<circle cx="1652.1" cy="290.7"/>
<circle cx="1614.3" cy="221.9"/>
<circle cx="1548.5" cy="174.3"/>
<circle cx="1597.7" cy="191.7"/>
<circle cx="1488.4" cy="283.2"/>
<circle cx="1492.1" cy="187.2"/>
<circle cx="1480.2" cy="304.7"/>
<circle cx="1496.7" cy="209.3"/>
<circle cx="1733.6" cy="220.3"/>
<circle cx="1674.9" cy="220.3"/>
<circle cx="1481.1" cy="165.1"/>
<circle cx="1481.8" cy="139.2"/>
<circle cx="1591.7" cy="199.6"/>
<circle cx="1505.9" cy="187.8"/>
<circle cx="1532.1" cy="189.0"/>
<circle cx="1563.9" cy="310.7"/>
<circle cx="1488.6" cy="241.0"/>
<circle cx="1583.1" cy="212.7"/>
<circle cx="1496.4" cy="193.1"/>
<circle cx="1516.3" cy="207.3"/>
<circle cx="1518.1" cy="222.0"/>
<circle cx="1500.9" cy="227.7"/>
<circle cx="1575.1" cy="180.1"/>
<circle cx="1532.4" cy="302.0"/>
<circle cx="1489.1" cy="194.8"/>
<circle cx="1518.9" cy="178.4"/>
<circle cx="1640.2" cy="209.8"/>
<circle cx="1632.4" cy="222.9"/>
<circle cx="1513.7" cy="236.0"/>
<circle cx="1557.1" cy="324.2"/>
<circle cx="1542.7" cy="210.8"/>
<circle cx="1487.4" cy="176.6"/>
<circle cx="1545.9" cy="200.8"/>
<circle cx="1549.3" cy="246.1"/>
<circle cx="1518.8" cy="281.0"/>
<circle cx="1509.3" cy="342.0"/>
<circle cx="1533.8" cy="215.0"/>
<circle cx="1488.3" cy="145.8"/>
<circle cx="1475.9" cy="272.5"/>
<circle cx="1533.8" cy="213.1"/>
<circle cx="1594.1" cy="231.4"/>
<circle cx="1538.6" cy="225.0"/>
<circle cx="1500.0" cy="151.1"/>
<circle cx="1479.6" cy="186.4"/>
<circle cx="1676.4" cy="210.7"/>
<circle cx="1497.3" cy="262.2"/>
<circle cx="1565.4" cy="235.3"/>
<circle cx="1611.2" cy="247.7"/>
<circle cx="1476.7" cy="262.7"/>
<circle cx="1545.9" cy="156.7"/>
<circle cx="1581.3" cy="201.6"/>
<circle cx="1563.1" cy="208.6"/>
<circle cx="1488.3" cy="233.0"/>
<circle cx="1605.6" cy="223.0"/>
<circle cx="1526.8" cy="229.7"/>
<circle cx="1548.9" cy="209.8"/>
<circle cx="1642.0" cy="206.6"/>
<circle cx="1529.1" cy="184.9"/>
<circle cx="1564.4" cy="160.9"/>
<circle cx="1555.8" cy="191.1"/>
<circle cx="1646.2" cy="244.6"/>
<circle cx="1554.8" cy="172.0"/>
<circle cx="1552.1" cy="220.6"/>
<circle cx="1564.6" cy="178.6"/>
<circle cx="1533.6" cy="186.9"/>
<circle cx="1523.0" cy="185.7"/>
<circle cx="1486.5" cy="225.7"/>
<circle cx="1526.3" cy="352.8"/>
<circle cx="1564.1" cy="291.4"/>
<circle cx="1489.4" cy="152.2"/>
<circle cx="1488.9" cy="306.2"/>
<circle cx="1541.7" cy="242.9"/>
<circle cx="1484.3" cy="215.1"/>
<circle cx="1523.3" cy="259.0"/>
<circle cx="1525.3" cy="166.3"/>
<circle cx="1690.1" cy="199.2"/>
<circle cx="1760.9" cy="212.8"/>
<circle cx="1537.8" cy="277.7"/>
<circle cx="1494.9" cy="202.5"/>
<circle cx="1529.8" cy="215.7"/>
<circle cx="1593.3" cy="217.7"/>
<circle cx="1500.7" cy="169.5"/>
<circle cx="1569.0" cy="180.6"/>
<circle cx="1562.8" cy="234.6"/>
<circle cx="1523.3" cy="239.6"/>
<circle cx="1510.1" cy="167.9"/>
<circle cx="1582.9" cy="187.2"/>
<circle cx="1496.7" cy="195.6"/>
<circle cx="1489.8" cy="228.3"/>
<circle cx="1598.6" cy="179.6"/>
<circle cx="1630.2" cy="235.6"/>
<circle cx="1581.1" cy="286.3"/>
<circle cx="1695.0" cy="208.2"/>
<circle cx="1622.9" cy="257.9"/>
<circle cx="1529.1" cy="229.3"/>
<circle cx="1590.3" cy="201.7"/>
<circle cx="1513.9" cy="279.9"/>
<circle cx="1590.3" cy="220.0"/>
<circle cx="1575.7" cy="299.4"/>
<circle cx="1569.9" cy="265.5"/>
<circle cx="1517.4" cy="233.9"/>
<circle cx="1634.2" cy="249.1"/>
<circle cx="1483.0" cy="288.6"/>
<circle cx="1631.5" cy="208.3"/>
<circle cx="1558.1" cy="180.4"/>
<circle cx="1548.2" cy="239.7"/>
<circle cx="1516.6" cy="214.1"/>
<circle cx="1480.8" cy="299.1"/>
<circle cx="1486.0" cy="229.7"/>
<circle cx="1522.1" cy="194.2"/>
<circle cx="1506.6" cy="288.3"/>
<circle cx="1495.4" cy="245.0"/>
<circle cx="1514.8" cy="198.5"/>
<circle cx="1520.7" cy="201.2"/>
<circle cx="1608.4" cy="207.2"/>
<circle cx="1602.6" cy="312.2"/>
<circle cx="1478.6" cy="195.4"/>
<circle cx="1515.1" cy="250.9"/>
<circle cx="1491.0" cy="163.4"/>
<circle cx="1526.9" cy="187.1"/>
<circle cx="1547.6" cy="175.7"/>
<circle cx="1590.8" cy="237.0"/>
<circle cx="1495.6" cy="187.7"/>
<circle cx="1481.1" cy="332.7"/>
<circle cx="1480.6" cy="177.5"/>
<circle cx="1479.6" cy="267.8"/>
<circle cx="1523.0" cy="204.2"/>
<circle cx="1501.3" cy="160.4"/>
<circle cx="1559.0" cy="280.4"/>
<circle cx="1661.8" cy="217.4"/>
<circle cx="1552.8" cy="253.0"/>
<circle cx="1504.0" cy="335.1"/>
<circle cx="1533.1" cy="266.8"/>
<circle cx="1538.8" cy="202.0"/>
<circle cx="1495.1" cy="167.2"/>
<circle cx="1526.1" cy="176.1"/>
<circle cx="1596.6" cy="272.0"/>
<circle cx="1521.6" cy="173.4"/>
<circle cx="1689.5" cy="230.4"/>
<circle cx="1491.5" cy="119.3"/>
<circle cx="1563.1" cy="221.3"/>
<circle cx="1828.8" cy="247.4"/>
<circle cx="1565.9" cy="161.1"/>
<circle cx="1512.1" cy="238.1"/>
<circle cx="1488.5" cy="337.6"/>
<circle cx="1581.2" cy="227.8"/>
<circle cx="1520.0" cy="203.5"/>
<circle cx="1518.9" cy="183.9"/>
<circle cx="1657.7" cy="213.4"/>
<circle cx="1499.5" cy="248.0"/>
<circle cx="1494.0" cy="172.3"/>
<circle cx="1616.5" cy="244.9"/>
<circle cx="1584.9" cy="226.0"/>
<circle cx="1535.1" cy="278.4"/>
<circle cx="1572.8" cy="268.1"/>
<circle cx="1484.8" cy="229.3"/>
<circle cx="1642.1" cy="265.1"/>
<circle cx="1525.4" cy="281.0"/>
<circle cx="1535.6" cy="195.3"/>
<circle cx="1547.0" cy="317.7"/>
<circle cx="1511.3" cy="318.3"/>
<circle cx="1579.5" cy="208.5"/>
<circle cx="1479.2" cy="129.3"/>
<circle cx="1477.4" cy="217.5"/>
<circle cx="1565.7" cy="184.1"/>
<circle cx="1578.9" cy="265.7"/>
<circle cx="1505.2" cy="198.6"/>
<circle cx="1476.1" cy="238.7"/>
<circle cx="1505.0" cy="254.3"/>
<circle cx="1497.9" cy="126.8"/>
<circle cx="1649.6" cy="212.7"/>
<circle cx="1501.8" cy="143.6"/>
<circle cx="1527.7" cy="225.3"/>
<circle cx="1597.8" cy="187.3"/>
<circle cx="1604.4" cy="289.0"/>
<circle cx="1543.2" cy="195.3"/>
<circle cx="1555.3" cy="371.8"/>
<circle cx="1482.0" cy="174.9"/>
<circle cx="1594.1" cy="214.8"/>
<circle cx="1554.3" cy="218.6"/>
<circle cx="1490.2" cy="277.1"/>
<circle cx="1644.5" cy="189.2"/>
<circle cx="1549.5" cy="230.6"/>
<circle cx="1605.9" cy="250.6"/>
<circle cx="1570.3" cy="201.0"/>
<circle cx="1613.7" cy="198.0"/>
<circle cx="1799.5" cy="275.8"/>
<circle cx="1662.9" cy="216.0"/>
<circle cx="1484.5" cy="314.5"/>
<circle cx="1589.3" cy="203.0"/>
<circle cx="1565.8" cy="249.7"/>
<circle cx="1556.2" cy="196.9"/>
<circle cx="1726.2" cy="200.0"/>
<circle cx="1479.9" cy="252.0"/>
<circle cx="1542.8" cy="299.2"/>
<circle cx="1503.6" cy="315.1"/>
<circle cx="1477.2" cy="198.4"/>
<circle cx="1517.7" cy="146.1"/>
<circle cx="1579.6" cy="197.6"/>
<circle cx="1504.9" cy="208.0"/>
<circle cx="1544.1" cy="279.9"/>
<circle cx="1519.7" cy="190.2"/>
<circle cx="1623.1" cy="250.4"/>
<circle cx="1531.8" cy="161.9"/>
<circle cx="1483.0" cy="261.6"/>
<circle cx="1489.4" cy="203.3"/>
<circle cx="1557.0" cy="217.0"/>
<circle cx="1500.5" cy="151.4"/>
<circle cx="1719.3" cy="239.5"/>
<circle cx="1630.2" cy="283.3"/>
<circle cx="1555.7" cy="259.7"/>
<circle cx="1712.7" cy="216.6"/>
<circle cx="1906.2" cy="216.2"/>
<circle cx="1741.2" cy="232.3"/>
<circle cx="1527.4" cy="294.5"/>
<circle cx="1867.8" cy="207.1"/>
<circle cx="1520.9" cy="217.6"/>
<circle cx="1591.3" cy="198.5"/>
<circle cx="1523.5" cy="278.9"/>
<circle cx="1488.2" cy="189.3"/>
<circle cx="1519.8" cy="216.9"/>
<circle cx="1486.5" cy="212.4"/>
<circle cx="1485.3" cy="216.5"/>
<circle cx="1482.7" cy="264.6"/>
<circle cx="1558.5" cy="225.0"/>
<circle cx="1507.9" cy="221.7"/>
<circle cx="1526.4" cy="223.4"/>
<circle cx="1583.9" cy="179.0"/>
<circle cx="1568.0" cy="211.1"/>
<circle cx="1554.9" cy="202.8"/>
<circle cx="1528.2" cy="193.5"/>
<circle cx="1541.9" cy="316.1"/>
<circle cx="1481.4" cy="286.8"/>
<circle cx="1494.9" cy="152.3"/>
<circle cx="1610.5" cy="218.6"/>
<circle cx="1530.3" cy="212.2"/>
<circle cx="1520.2" cy="247.3"/>
<circle cx="1541.0" cy="152.1"/>
<circle cx="1482.0" cy="130.4"/>
<circle cx="1495.7" cy="201.5"/>
<circle cx="1628.6" cy="218.6"/>
<circle cx="1479.6" cy="217.3"/>
<circle cx="1565.7" cy="184.1"/>
<circle cx="1559.3" cy="183.9"/>
<circle cx="1633.6" cy="213.3"/>
<circle cx="1547.4" cy="228.3"/>
<circle cx="1480.6" cy="129.5"/>
<circle cx="1530.2" cy="218.1"/>
<circle cx="1543.7" cy="298.4"/>
<circle cx="1665.2" cy="192.4"/>
<circle cx="1549.1" cy="237.9"/>
<circle cx="1718.9" cy="204.8"/>
<circle cx="1591.8" cy="204.6"/>
<circle cx="1570.4" cy="269.6"/>
<circle cx="1538.7" cy="324.1"/>
<circle cx="1601.5" cy="245.6"/>
<circle cx="1554.9" cy="203.8"/>
<circle cx="1496.4" cy="273.2"/>
<circle cx="1534.1" cy="278.1"/>
<circle cx="1660.3" cy="181.7"/>
<circle cx="1613.3" cy="185.4"/>
<circle cx="1636.5" cy="214.1"/>
<circle cx="1544.9" cy="299.0"/>
<circle cx="1499.4" cy="129.7"/>
<circle cx="1488.7" cy="182.3"/>
<circle cx="1686.3" cy="212.3"/>
<circle cx="1577.2" cy="270.0"/>
<circle cx="1567.3" cy="180.7"/>
<circle cx="1491.6" cy="122.3"/>
<circle cx="1568.2" cy="242.0"/>
<circle cx="1487.6" cy="192.4"/>
<circle cx="1481.0" cy="97.7"/>
<circle cx="1522.5" cy="135.0"/>
<circle cx="1522.7" cy="200.6"/>
<circle cx="1477.9" cy="140.4"/>
<circle cx="1480.2" cy="145.6"/>
<circle cx="1613.3" cy="215.6"/>
<circle cx="1591.1" cy="208.0"/>
<circle cx="1623.2" cy="252.4"/>
<circle cx="1486.4" cy="227.4"/>
<circle cx="1581.7" cy="291.8"/>
<circle cx="1484.0" cy="206.3"/>
<circle cx="1521.0" cy="177.1"/>
<circle cx="1486.0" cy="316.1"/>
<circle cx="1542.1" cy="229.0"/>
<circle cx="1512.1" cy="265.3"/>
<circle cx="1518.2" cy="141.7"/>
<circle cx="1507.6" cy="296.8"/>
<circle cx="1645.2" cy="220.1"/>
<circle cx="1496.2" cy="194.5"/>
<circle cx="1518.4" cy="212.3"/>
<circle cx="1477.5" cy="275.6"/>
<circle cx="1688.0" cy="226.9"/>
<circle cx="1602.5" cy="198.5"/>
<circle cx="1528.3" cy="170.0"/>
<circle cx="1684.5" cy="238.2"/>
<circle cx="1527.2" cy="280.2"/>
<circle cx="1496.6" cy="310.6"/>
<circle cx="1613.2" cy="233.7"/>
<circle cx="1623.8" cy="209.0"/>
<circle cx="1578.9" cy="226.0"/>
<circle cx="1564.6" cy="195.6"/>
<circle cx="1485.9" cy="174.0"/>
<circle cx="1576.8" cy="280.7"/>
<circle cx="1580.9" cy="233.6"/>
<circle cx="1485.9" cy="262.2"/>
<circle cx="1541.4" cy="367.7"/>
<circle cx="1547.6" cy="243.1"/>
<circle cx="1502.5" cy="244.7"/>
<circle cx="1531.2" cy="206.4"/>
<circle cx="1485.2" cy="121.6"/>
<circle cx="1552.4" cy="254.5"/>
<circle cx="1520.5" cy="264.3"/>
<circle cx="1593.6" cy="268.0"/>
<circle cx="1521.1" cy="160.9"/>
<circle cx="1536.6" cy="282.9"/>
<circle cx="1698.4" cy="258.1"/>
<circle cx="1659.6" cy="212.7"/>
<circle cx="1512.7" cy="280.3"/>
<circle cx="1499.0" cy="138.1"/>
<circle cx="1509.0" cy="196.9"/>
<circle cx="1546.4" cy="370.1"/>
<circle cx="1646.9" cy="299.5"/>
<circle cx="1515.7" cy="352.0"/>
<circle cx="1553.0" cy="192.2"/>
<circle cx="1600.6" cy="198.0"/>
<circle cx="1509.1" cy="314.9"/>
<circle cx="1574.0" cy="251.6"/>
<circle cx="1532.6" cy="172.4"/>
<circle cx="1566.3" cy="195.9"/>
<circle cx="1582.2" cy="305.3"/>
<circle cx="1506.9" cy="212.6"/>
<circle cx="1489.1" cy="187.8"/>
<circle cx="1638.2" cy="257.2"/>
<circle cx="1536.9" cy="215.7"/>
<circle cx="1688.1" cy="256.6"/>
<circle cx="1478.5" cy="239.2"/>
<circle cx="1546.2" cy="210.0"/>
<circle cx="1859.7" cy="215.4"/>
<circle cx="1578.9" cy="193.6"/>
<circle cx="1585.7" cy="216.9"/>
<circle cx="1694.3" cy="237.1"/>
<circle cx="1494.2" cy="247.3"/>
<circle cx="1528.1" cy="205.0"/>
<circle cx="1727.7" cy="248.4"/>
<circle cx="1595.3" cy="217.8"/>
<circle cx="1481.9" cy="170.5"/>
<circle cx="1492.9" cy="183.4"/>
<circle cx="1537.0" cy="214.8"/>
<circle cx="1502.4" cy="211.3"/>
<circle cx="1525.2" cy="252.5"/>
<circle cx="1491.8" cy="151.0"/>
<circle cx="1493.7" cy="171.7"/>
<circle cx="1485.3" cy="324.6"/>
<circle cx="1491.4" cy="171.3"/>
<circle cx="1589.5" cy="254.6"/>
<circle cx="1632.3" cy="268.0"/>
<circle cx="1548.9" cy="198.9"/>
<circle cx="1503.3" cy="136.4"/>
<circle cx="1612.4" cy="220.9"/>
<circle cx="1536.4" cy="276.1"/>
<circle cx="1599.0" cy="284.3"/>
<circle cx="1541.8" cy="251.2"/>
<circle cx="1505.4" cy="216.3"/>
<circle cx="1526.5" cy="182.4"/>
<circle cx="1654.3" cy="222.8"/>
<circle cx="1498.8" cy="271.8"/>
<circle cx="1548.4" cy="209.6"/>
<circle cx="1567.1" cy="335.0"/>
<circle cx="1526.9" cy="175.9"/>
<circle cx="1632.2" cy="219.3"/>
<circle cx="1589.7" cy="212.7"/>
<circle cx="1495.6" cy="163.0"/>
<circle cx="1569.1" cy="200.3"/>
<circle cx="1878.2" cy="233.1"/>
<circle cx="1630.0" cy="245.0"/>
<circle cx="1493.7" cy="221.3"/>
<circle cx="1521.3" cy="194.1"/>
<circle cx="1628.7" cy="267.1"/>
<circle cx="1513.7" cy="231.7"/>
<circle cx="1506.1" cy="152.9"/>
<circle cx="1768.6" cy="221.4"/>
<circle cx="1497.0" cy="247.9"/>
<circle cx="1588.7" cy="250.6"/>
<circle cx="1495.8" cy="202.9"/>
<circle cx="1487.7" cy="258.6"/>
<circle cx="1842.5" cy="206.1"/>
<circle cx="1510.5" cy="204.0"/>
<circle cx="1499.4" cy="279.8"/>
<circle cx="1504.9" cy="267.4"/>
<circle cx="1525.9" cy="185.9"/>
<circle cx="1511.5" cy="233.9"/>
<circle cx="1663.9" cy="260.6"/>
<circle cx="1576.6" cy="247.0"/>
<circle cx="1605.3" cy="281.2"/>
<circle cx="1561.0" cy="195.5"/>
<circle cx="1551.2" cy="173.6"/>
<circle cx="1554.7" cy="219.9"/>
<circle cx="1517.9" cy="263.5"/>
<circle cx="1672.5" cy="275.7"/>
<circle cx="1490.4" cy="315.2"/>
<circle cx="1553.5" cy="210.5"/>
<circle cx="1554.4" cy="200.1"/>
<circle cx="1523.8" cy="138.3"/>
<circle cx="1497.7" cy="216.4"/>
<circle cx="1527.9" cy="183.8"/>
<circle cx="1541.7" cy="179.5"/>
<circle cx="1497.9" cy="276.0"/>
<circle cx="1490.8" cy="162.1"/>
<circle cx="1568.7" cy="226.3"/>
<circle cx="1539.0" cy="186.3"/>
<circle cx="1508.4" cy="282.4"/>
<circle cx="1520.9" cy="314.7"/>
<circle cx="1570.5" cy="191.9"/>
<circle cx="1481.8" cy="235.0"/>
<circle cx="1616.8" cy="203.7"/>
<circle cx="1607.1" cy="185.7"/>
<circle cx="1574.1" cy="233.3"/>
<circle cx="1479.8" cy="193.4"/>
<circle cx="1596.6" cy="232.6"/>
<circle cx="1524.3" cy="175.5"/>
<circle cx="1515.3" cy="185.4"/>
<circle cx="1519.2" cy="188.1"/>
<circle cx="1610.9" cy="197.3"/>
<circle cx="1477.6" cy="168.6"/>
<circle cx="1484.2" cy="300.9"/>
<circle cx="1509.6" cy="219.7"/>
<circle cx="1522.3" cy="283.0"/>
<circle cx="1495.3" cy="208.3"/>
<circle cx="1476.4" cy="188.5"/>
<circle cx="1480.8" cy="367.7"/>
<circle cx="1591.1" cy="281.2"/>
<circle cx="1549.8" cy="150.8"/>
<circle cx="1557.7" cy="196.2"/>
<circle cx="1508.5" cy="286.0"/>
<circle cx="1539.1" cy="210.4"/>
<circle cx="1518.8" cy="225.7"/>
<circle cx="1524.6" cy="190.9"/>
<circle cx="1477.7" cy="119.5"/>
<circle cx="1483.2" cy="319.9"/>
<circle cx="1484.3" cy="213.7"/>
<circle cx="1488.2" cy="275.0"/>
<circle cx="1628.8" cy="331.8"/>
<circle cx="1545.5" cy="232.9"/>
<circle cx="1528.0" cy="207.8"/>
<circle cx="1566.7" cy="265.3"/>
<circle cx="1480.7" cy="296.7"/>
<circle cx="1563.9" cy="302.2"/>
<circle cx="1575.2" cy="286.1"/>
<circle cx="1593.4" cy="190.6"/>
<circle cx="1604.5" cy="222.5"/>
<circle cx="1502.2" cy="130.9"/>
<circle cx="1513.7" cy="152.9"/>
<circle cx="1524.0" cy="216.4"/>
<circle cx="1525.0" cy="188.4"/>
<circle cx="1546.5" cy="253.8"/>
<circle cx="1557.9" cy="309.3"/>
<circle cx="1499.1" cy="245.8"/>
<circle cx="1497.5" cy="251.9"/>
<circle cx="1586.9" cy="190.9"/>
<circle cx="1582.9" cy="208.3"/>
<circle cx="1728.0" cy="235.6"/>
<circle cx="1526.4" cy="168.1"/>
<circle cx="1477.2" cy="187.5"/>
<circle cx="1598.5" cy="204.4"/>
<circle cx="1518.2" cy="196.1"/>
<circle cx="1513.6" cy="243.8"/>
<circle cx="1521.4" cy="289.1"/>
<circle cx="1582.4" cy="213.7"/>
<circle cx="1534.3" cy="211.1"/>
<circle cx="1571.0" cy="196.3"/>
<circle cx="1482.7" cy="234.3"/>
<circle cx="1579.1" cy="342.6"/>
<circle cx="1651.4" cy="251.8"/>
<circle cx="1510.4" cy="197.8"/>
<circle cx="1523.7" cy="209.5"/>
<circle cx="1660.9" cy="268.8"/>
<circle cx="1568.5" cy="207.0"/>
<circle cx="1482.6" cy="229.9"/>
<circle cx="1490.0" cy="267.9"/>
<circle cx="1481.4" cy="439.8"/>
<circle cx="1551.1" cy="221.5"/>
<circle cx="1560.9" cy="205.9"/>
<circle cx="1507.0" cy="234.0"/>
<circle cx="1573.0" cy="224.5"/>
<circle cx="1490.7" cy="185.3"/>
<circle cx="1719.2" cy="217.7"/>
<circle cx="1614.5" cy="289.9"/>
<circle cx="1618.0" cy="231.4"/>
<circle cx="1517.9" cy="212.4"/>
<circle cx="1657.4" cy="279.0"/>
<circle cx="1494.9" cy="235.9"/>
<circle cx="1603.5" cy="241.0"/>
<circle cx="1645.7" cy="307.3"/>
<circle cx="1577.6" cy="168.4"/>
<circle cx="1534.2" cy="198.1"/>
<circle cx="1657.5" cy="200.0"/>
<circle cx="1482.4" cy="155.5"/>
<circle cx="1561.0" cy="267.9"/>
<circle cx="1589.2" cy="261.8"/>
<circle cx="1557.3" cy="224.8"/>
<circle cx="1556.2" cy="247.4"/>
<circle cx="1518.1" cy="196.2"/>
<circle cx="1476.1" cy="164.5"/>
<circle cx="1536.2" cy="234.5"/>
<circle cx="1653.2" cy="206.3"/>
<circle cx="1517.2" cy="215.2"/>
<circle cx="1510.0" cy="123.6"/>
<circle cx="1482.3" cy="305.3"/>
<circle cx="1552.5" cy="168.0"/>
<circle cx="1495.9" cy="227.9"/>
<circle cx="1577.9" cy="242.8"/>
<circle cx="1500.3" cy="221.5"/>
<circle cx="1529.4" cy="201.3"/>
<circle cx="1540.5" cy="317.1"/>
<circle cx="1479.5" cy="249.2"/>
<circle cx="1566.1" cy="216.8"/>
<circle cx="1577.3" cy="273.9"/>
<circle cx="1580.6" cy="173.4"/>
<circle cx="1576.7" cy="173.0"/>
<circle cx="1496.3" cy="199.0"/>
<circle cx="1540.3" cy="197.7"/>
<circle cx="1529.9" cy="225.2"/>
<circle cx="1617.0" cy="256.2"/>
<circle cx="1584.6" cy="192.6"/>
<circle cx="1538.1" cy="186.1"/>
<circle cx="1698.5" cy="266.5"/>
<circle cx="1588.5" cy="205.2"/>
<circle cx="1528.2" cy="226.5"/>
<circle cx="1531.8" cy="275.1"/>
<circle cx="1612.8" cy="189.0"/>
<circle cx="1608.5" cy="220.1"/>
<circle cx="1523.9" cy="187.2"/>
<circle cx="1479.1" cy="129.6"/>
<circle cx="1491.7" cy="207.4"/>
<circle cx="1813.1" cy="301.6"/>
<circle cx="1513.5" cy="260.2"/>
<circle cx="1498.8" cy="187.1"/>
<circle cx="1562.3" cy="205.9"/>
<circle cx="1547.2" cy="379.9"/>
<circle cx="1542.1" cy="210.3"/>
<circle cx="1740.3" cy="217.5"/>
<circle cx="1539.6" cy="200.7"/>
<circle cx="1488.1" cy="98.5"/>
<circle cx="1652.4" cy="198.1"/>
<circle cx="1626.0" cy="209.9"/>
<circle cx="1521.4" cy="121.5"/>
<circle cx="1499.4" cy="136.4"/>
<circle cx="1517.6" cy="207.7"/>
<circle cx="1509.3" cy="374.0"/>
<circle cx="1486.5" cy="245.5"/>
<circle cx="1498.7" cy="202.7"/>
<circle cx="1516.7" cy="203.7"/>
<circle cx="1504.8" cy="215.4"/>
<circle cx="1692.6" cy="260.0"/>
<circle cx="1569.8" cy="189.4"/>
<circle cx="1705.6" cy="204.5"/>
<circle cx="1524.7" cy="262.3"/>
<circle cx="1506.1" cy="204.7"/>
<circle cx="1532.3" cy="242.5"/>
<circle cx="1514.5" cy="298.3"/>
<circle cx="1483.1" cy="146.5"/>
<circle cx="1611.9" cy="207.1"/>
<circle cx="1475.6" cy="243.5"/>
<circle cx="1524.1" cy="259.9"/>
<circle cx="1541.1" cy="209.4"/>
<circle cx="1523.8" cy="223.2"/>
<circle cx="1507.8" cy="207.9"/>
<circle cx="1591.2" cy="213.7"/>
<circle cx="1628.0" cy="251.2"/>
<circle cx="1482.6" cy="201.4"/>
<circle cx="1522.3" cy="248.2"/>
<circle cx="1504.4" cy="236.3"/>
<circle cx="1479.8" cy="235.5"/>
<circle cx="1552.5" cy="288.0"/>
<circle cx="1509.0" cy="387.3"/>
<circle cx="1612.1" cy="252.4"/>
<circle cx="1569.0" cy="212.8"/>
<circle cx="1588.6" cy="210.8"/>
<circle cx="1536.2" cy="237.7"/>
<circle cx="1688.5" cy="222.8"/>
<circle cx="1476.4" cy="286.5"/>
<circle cx="1648.2" cy="207.1"/>
<circle cx="1585.8" cy="210.3"/>
<circle cx="1479.2" cy="300.6"/>
<circle cx="1563.6" cy="246.3"/>
<circle cx="1653.2" cy="211.4"/>
<circle cx="1529.0" cy="215.1"/>
<circle cx="1537.1" cy="273.4"/>
<circle cx="1489.9" cy="296.7"/>
<circle cx="1621.3" cy="200.3"/>
<circle cx="1510.8" cy="262.1"/>
<circle cx="1528.1" cy="218.8"/>
<circle cx="1558.7" cy="202.5"/>
<circle cx="1523.3" cy="280.2"/>
<circle cx="1635.6" cy="198.2"/>
<circle cx="1498.3" cy="358.1"/>
<circle cx="1499.2" cy="235.8"/>
<circle cx="1501.4" cy="275.7"/>
<circle cx="1545.4" cy="244.8"/>
<circle cx="1482.9" cy="326.9"/>
<circle cx="1492.0" cy="280.9"/>
<circle cx="1525.2" cy="259.6"/>
<circle cx="1676.8" cy="216.2"/>
<circle cx="1794.8" cy="202.3"/>
<circle cx="1535.0" cy="205.3"/>
<circle cx="1500.1" cy="234.0"/>
<circle cx="1478.6" cy="272.2"/>
<circle cx="1515.2" cy="121.8"/>
<circle cx="1476.5" cy="367.6"/>
<circle cx="1495.6" cy="171.5"/>
<circle cx="1772.1" cy="224.9"/>
<circle cx="1691.0" cy="215.9"/>
<circle cx="1494.9" cy="211.6"/>
<circle cx="1534.4" cy="219.0"/>
<circle cx="1482.6" cy="290.8"/>
<circle cx="1516.0" cy="365.7"/>
<circle cx="1667.5" cy="247.2"/>
<circle cx="1488.5" cy="283.4"/>
<circle cx="1517.8" cy="149.6"/>
<circle cx="1569.7" cy="279.7"/>
<circle cx="1512.1" cy="203.8"/>
<circle cx="1511.8" cy="254.7"/>
<circle cx="1498.9" cy="222.0"/>
<circle cx="1563.1" cy="206.5"/>
<circle cx="1475.6" cy="177.6"/>
<circle cx="1564.5" cy="193.6"/>
<circle cx="1501.1" cy="237.3"/>
<circle cx="1553.9" cy="186.6"/>
<circle cx="1516.5" cy="121.0"/>
<circle cx="1479.9" cy="211.7"/>
<circle cx="1505.4" cy="262.5"/>
<circle cx="1477.0" cy="181.2"/>
<circle cx="1548.8" cy="167.9"/>
<circle cx="1573.1" cy="301.8"/>
<circle cx="1555.2" cy="172.1"/>
<circle cx="1620.5" cy="222.0"/>
<circle cx="1487.2" cy="287.4"/>
<circle cx="1518.9" cy="288.6"/>
<circle cx="1637.5" cy="191.0"/>
<circle cx="1477.4" cy="334.4"/>
<circle cx="1554.6" cy="197.6"/>
<circle cx="1511.8" cy="255.4"/>
<circle cx="1529.0" cy="271.6"/>
<circle cx="1517.4" cy="195.6"/>
<circle cx="1529.9" cy="172.7"/>
<circle cx="1597.6" cy="212.6"/>
<circle cx="1499.3" cy="259.3"/>
<circle cx="1516.8" cy="256.6"/>
<circle cx="1486.3" cy="293.0"/>
<circle cx="1524.4" cy="242.5"/>
<circle cx="1557.8" cy="239.3"/>
<circle cx="1522.0" cy="231.6"/>
<circle cx="1587.0" cy="240.0"/>
<circle cx="1562.6" cy="220.2"/>
<circle cx="1519.4" cy="240.2"/>
<circle cx="1480.9" cy="206.6"/>
<circle cx="1527.6" cy="208.9"/>
<circle cx="1476.4" cy="177.2"/>
<circle cx="1546.4" cy="283.6"/>
<circle cx="1541.5" cy="302.5"/>
<circle cx="1535.5" cy="200.8"/>
<circle cx="1502.5" cy="319.1"/>
<circle cx="1509.4" cy="253.9"/>
<circle cx="1544.8" cy="196.8"/>
<circle cx="1502.5" cy="216.8"/>
<circle cx="1544.0" cy="294.1"/>
<circle cx="1510.2" cy="237.5"/>
<circle cx="1833.9" cy="234.3"/>
<circle cx="1529.4" cy="218.6"/>
<circle cx="1481.7" cy="300.3"/>
<circle cx="1545.6" cy="206.9"/>
<circle cx="1626.9" cy="178.4"/>
<circle cx="1495.2" cy="170.6"/>
<circle cx="1565.0" cy="334.6"/>
<circle cx="1576.2" cy="264.2"/>
<circle cx="1600.3" cy="235.1"/>
<circle cx="1510.9" cy="165.4"/>
<circle cx="1486.1" cy="182.1"/>
<circle cx="1477.9" cy="275.7"/>
<circle cx="1590.9" cy="233.2"/>
<circle cx="1553.7" cy="237.1"/>
<circle cx="1526.1" cy="255.6"/>
<circle cx="1536.7" cy="224.7"/>
<circle cx="1607.7" cy="284.8"/>
<circle cx="1539.6" cy="253.8"/>
<circle cx="1523.6" cy="159.0"/>
<circle cx="1562.8" cy="280.5"/>
<circle cx="1625.4" cy="228.1"/>
<circle cx="1477.7" cy="270.0"/>
<circle cx="1480.8" cy="165.7"/>
<circle cx="1559.2" cy="212.8"/>
<circle cx="1492.9" cy="246.9"/>
<circle cx="1512.2" cy="285.3"/>
<circle cx="1634.5" cy="205.8"/>
<circle cx="1667.1" cy="207.5"/>
<circle cx="1506.8" cy="350.5"/>
<circle cx="1511.6" cy="320.1"/>
<circle cx="1592.7" cy="229.2"/>
<circle cx="1482.3" cy="173.8"/>
<circle cx="1500.2" cy="116.8"/>
<circle cx="1502.6" cy="184.1"/>
<circle cx="1581.5" cy="287.3"/>
<circle cx="1483.2" cy="106.6"/>
<circle cx="1497.1" cy="226.5"/>
<circle cx="1618.9" cy="219.7"/>
<circle cx="1538.2" cy="229.0"/>
<circle cx="1513.2" cy="252.5"/>
<circle cx="1581.3" cy="214.6"/>
<circle cx="1525.7" cy="277.7"/>
<circle cx="1516.2" cy="146.0"/>
<circle cx="1610.8" cy="257.2"/>
<circle cx="1730.1" cy="205.5"/>
<circle cx="1539.3" cy="209.3"/>
<circle cx="1575.0" cy="189.5"/>
<circle cx="1640.8" cy="206.7"/>
<circle cx="1581.7" cy="197.3"/>
<circle cx="1497.4" cy="216.2"/>
<circle cx="1623.5" cy="156.2"/>
<circle cx="1518.7" cy="177.5"/>
<circle cx="1626.6" cy="199.0"/>
<circle cx="1561.2" cy="283.8"/>
<circle cx="1565.6" cy="212.8"/>
<circle cx="1537.1" cy="310.7"/>
<circle cx="1611.0" cy="241.7"/>
<circle cx="1509.0" cy="227.3"/>
<circle cx="1584.5" cy="235.7"/>
<circle cx="1616.1" cy="253.8"/>
<circle cx="1498.0" cy="270.0"/>
<circle cx="1591.4" cy="204.4"/>
<circle cx="1486.8" cy="176.1"/>
<circle cx="1779.3" cy="273.1"/>
<circle cx="1512.1" cy="326.3"/>
<circle cx="1646.9" cy="252.0"/>
<circle cx="1540.8" cy="208.3"/>
<circle cx="1562.5" cy="201.0"/>
<circle cx="1573.4" cy="142.7"/>
<circle cx="1485.2" cy="206.2"/>
<circle cx="1553.3" cy="227.1"/>
<circle cx="1563.2" cy="225.8"/>
<circle cx="1546.6" cy="254.8"/>
<circle cx="1488.4" cy="254.6"/>
<circle cx="1512.3" cy="192.8"/>
<circle cx="1477.2" cy="199.0"/>
<circle cx="1565.6" cy="305.5"/>
<circle cx="1618.7" cy="215.4"/>
<circle cx="1498.1" cy="192.8"/>
<circle cx="1810.8" cy="291.3"/>
<circle cx="1732.2" cy="207.3"/>
<circle cx="1526.5" cy="190.0"/>
<circle cx="1554.9" cy="190.6"/>
<circle cx="1542.9" cy="312.4"/>
<circle cx="1555.7" cy="128.4"/>
<circle cx="1668.6" cy="220.4"/>
<circle cx="1496.9" cy="299.2"/>
<circle cx="1538.8" cy="207.3"/>
<circle cx="1536.4" cy="232.6"/>
<circle cx="1514.3" cy="246.4"/>
<circle cx="1557.7" cy="301.7"/>
<circle cx="1491.3" cy="182.2"/>
<circle cx="1519.6" cy="321.0"/>
<circle cx="1486.1" cy="127.4"/>
<circle cx="1497.6" cy="168.6"/>
<circle cx="1480.8" cy="323.8"/>
<circle cx="1505.0" cy="205.9"/>
<circle cx="1540.1" cy="279.7"/>
<circle cx="1612.2" cy="220.6"/>
<circle cx="1611.3" cy="253.2"/>
<circle cx="1516.0" cy="119.4"/>
<circle cx="1503.5" cy="130.6"/>
<circle cx="1486.7" cy="139.5"/>
<circle cx="1593.9" cy="244.1"/>
<circle cx="1546.6" cy="293.5"/>
<circle cx="1551.3" cy="211.7"/>
<circle cx="1524.1" cy="256.3"/>
<circle cx="1653.5" cy="343.0"/>
<circle cx="1539.4" cy="190.0"/>
<circle cx="1602.3" cy="298.0"/>
<circle cx="1605.4" cy="255.6"/>
<circle cx="1549.2" cy="241.6"/>
<circle cx="1820.6" cy="228.4"/>
<circle cx="1498.1" cy="309.9"/>
<circle cx="1481.8" cy="136.1"/>
<circle cx="1533.2" cy="255.6"/>
<circle cx="1498.2" cy="189.6"/>
<circle cx="1587.1" cy="251.9"/>
<circle cx="1566.3" cy="213.8"/>
<circle cx="1537.1" cy="234.9"/>
<circle cx="1565.9" cy="212.3"/>
<circle cx="1539.3" cy="142.2"/>
<circle cx="1490.3" cy="206.1"/>
<circle cx="1545.6" cy="226.7"/>
<circle cx="1619.8" cy="247.6"/>
<circle cx="1486.0" cy="158.9"/>
<circle cx="1632.8" cy="249.4"/>
<circle cx="1477.3" cy="227.0"/>
<circle cx="1491.0" cy="162.3"/>
<circle cx="1519.2" cy="209.7"/>
<circle cx="1530.8" cy="180.7"/>
<circle cx="1550.0" cy="281.8"/>
<circle cx="1506.5" cy="202.7"/>
<circle cx="1483.7" cy="96.0"/>
<circle cx="1493.6" cy="311.6"/>
<circle cx="1517.2" cy="174.6"/>
<circle cx="1566.2" cy="256.3"/>
<circle cx="1579.0" cy="203.5"/>
<circle cx="1549.8" cy="152.4"/>
<circle cx="1496.5" cy="144.5"/>
<circle cx="1503.3" cy="312.3"/>
<circle cx="1481.0" cy="266.7"/>
<circle cx="1619.4" cy="254.1"/>
<circle cx="1494.7" cy="138.7"/>
<circle cx="1485.9" cy="209.0"/>
<circle cx="1760.0" cy="225.6"/>
<circle cx="1502.7" cy="259.2"/>
<circle cx="1843.5" cy="219.6"/>
<circle cx="1647.7" cy="224.8"/>
<circle cx="1518.2" cy="218.0"/>
<circle cx="1589.6" cy="326.3"/>
<circle cx="1546.6" cy="242.0"/>
<circle cx="1482.8" cy="289.8"/>
<circle cx="1579.7" cy="264.9"/>
<circle cx="1506.7" cy="148.5"/>
<circle cx="1485.5" cy="151.2"/>
<circle cx="1556.9" cy="246.0"/>
<circle cx="1495.3" cy="211.6"/>
<circle cx="1622.9" cy="207.0"/>
<circle cx="1561.2" cy="179.5"/>
<circle cx="1542.5" cy="236.4"/>
<circle cx="1512.2" cy="292.9"/>
<circle cx="1479.1" cy="203.7"/>
<circle cx="1724.2" cy="245.0"/>
<circle cx="1587.9" cy="294.2"/>
<circle cx="1634.3" cy="291.5"/>
<circle cx="1563.1" cy="270.4"/>
<circle cx="1539.7" cy="267.6"/>
<circle cx="1692.0" cy="199.2"/>
<circle cx="1478.2" cy="328.0"/>
<circle cx="1634.2" cy="261.2"/>
<circle cx="1582.9" cy="197.3"/>
<circle cx="1526.3" cy="397.0"/>
<circle cx="1616.9" cy="208.8"/>
<circle cx="1609.0" cy="201.0"/>
<circle cx="1534.6" cy="179.3"/>
<circle cx="1553.4" cy="257.5"/>
<circle cx="1502.4" cy="233.6"/>
<circle cx="1615.0" cy="182.2"/>
<circle cx="1494.6" cy="203.2"/>
<circle cx="1572.0" cy="257.7"/>
<circle cx="1521.2" cy="217.2"/>
<circle cx="1543.1" cy="250.6"/>
<circle cx="1596.0" cy="182.4"/>
<circle cx="1487.6" cy="225.1"/>
<circle cx="1591.6" cy="214.6"/>
<circle cx="1613.3" cy="207.4"/>
<circle cx="1519.2" cy="360.6"/>
<circle cx="1544.0" cy="229.0"/>
<circle cx="1499.4" cy="302.6"/>
<circle cx="1745.7" cy="203.5"/>
<circle cx="1524.1" cy="154.2"/>
<circle cx="1564.9" cy="245.1"/>
<circle cx="1477.3" cy="274.3"/>
<circle cx="1483.4" cy="263.9"/>
<circle cx="1560.8" cy="163.7"/>
<circle cx="1488.4" cy="238.5"/>
<circle cx="1518.9" cy="172.0"/>
<circle cx="1617.5" cy="211.6"/>
<circle cx="1483.6" cy="281.1"/>
<circle cx="1488.8" cy="150.6"/>
<circle cx="1606.2" cy="196.3"/>
<circle cx="1530.8" cy="260.4"/>
<circle cx="1588.5" cy="203.9"/>
<circle cx="1498.6" cy="196.1"/>
<circle cx="1485.3" cy="204.5"/>
<circle cx="1518.3" cy="275.5"/>
<circle cx="1613.3" cy="184.6"/>
<circle cx="1793.9" cy="306.7"/>
<circle cx="1479.8" cy="274.4"/>
<circle cx="1555.7" cy="225.3"/>
<circle cx="1491.0" cy="126.8"/>
<circle cx="1509.8" cy="288.7"/>
<circle cx="1504.7" cy="241.5"/>
<circle cx="1504.6" cy="218.8"/>
<circle cx="1493.4" cy="264.6"/>
<circle cx="1536.4" cy="222.5"/>
<circle cx="1479.9" cy="200.9"/>
<circle cx="1514.8" cy="169.5"/>
<circle cx="1486.6" cy="204.8"/>
<circle cx="1485.5" cy="202.5"/>
<circle cx="1533.4" cy="195.2"/>
<circle cx="1493.0" cy="293.5"/>
<circle cx="1550.2" cy="181.8"/>
<circle cx="1712.9" cy="237.5"/>
<circle cx="1518.9" cy="222.9"/>
<circle cx="1545.6" cy="214.1"/>
<circle cx="1548.6" cy="212.7"/>
<circle cx="1491.8" cy="255.4"/>
<circle cx="1527.8" cy="257.8"/>
<circle cx="1505.8" cy="168.0"/>
<circle cx="1507.5" cy="185.3"/>
<circle cx="1475.6" cy="411.3"/>
<circle cx="1568.0" cy="234.9"/>
<circle cx="1498.8" cy="225.5"/>
<circle cx="1666.9" cy="216.2"/>
<circle cx="1515.4" cy="204.8"/>
<circle cx="1534.6" cy="155.8"/>
<circle cx="1658.1" cy="222.2"/>
<circle cx="1477.2" cy="145.2"/>
<circle cx="1660.5" cy="256.0"/>
<circle cx="1503.8" cy="295.1"/>
<circle cx="1503.4" cy="186.8"/>
<circle cx="1583.5" cy="267.6"/>
<circle cx="1507.5" cy="214.9"/>
<circle cx="1580.8" cy="325.9"/>
<circle cx="1556.2" cy="321.3"/>
<circle cx="1482.4" cy="111.1"/>
<circle cx="1485.7" cy="261.1"/>
<circle cx="1541.8" cy="254.1"/>
<circle cx="1540.8" cy="252.5"/>
<circle cx="1499.6" cy="237.5"/>
<circle cx="1545.8" cy="217.5"/>
<circle cx="1512.4" cy="164.7"/>
<circle cx="1493.9" cy="261.2"/>
<circle cx="1685.8" cy="199.8"/>
<circle cx="1828.5" cy="208.9"/>
<circle cx="1516.9" cy="259.4"/>
<circle cx="1585.7" cy="288.9"/>
<circle cx="1539.3" cy="214.0"/>
<circle cx="1491.0" cy="218.1"/>
<circle cx="1507.3" cy="176.5"/>
<circle cx="1500.9" cy="181.7"/>
<circle cx="1481.0" cy="213.2"/>
<circle cx="1588.8" cy="258.9"/>
<circle cx="1528.4" cy="204.9"/>
<circle cx="1627.7" cy="247.6"/>
<circle cx="1523.7" cy="231.0"/>
<circle cx="1641.3" cy="215.6"/>
<circle cx="1481.8" cy="236.7"/>
<circle cx="1536.2" cy="224.1"/>
<circle cx="1586.9" cy="233.0"/>
<circle cx="1498.0" cy="257.1"/>
<circle cx="1560.0" cy="217.9"/>
<circle cx="1478.8" cy="186.8"/>
<circle cx="1662.4" cy="266.7"/>
<circle cx="1513.1" cy="242.8"/>
<circle cx="1505.6" cy="137.2"/>
<circle cx="1477.8" cy="127.4"/>
<circle cx="1509.3" cy="215.8"/>
<circle cx="1520.4" cy="196.8"/>
<circle cx="1555.3" cy="199.9"/>
<circle cx="1504.9" cy="286.5"/>
<circle cx="1526.5" cy="280.2"/>
<circle cx="1648.7" cy="178.4"/>
<circle cx="1572.9" cy="216.2"/>
<circle cx="1512.3" cy="154.8"/>
<circle cx="1514.7" cy="212.0"/>
<circle cx="1489.8" cy="120.6"/>
<circle cx="1495.9" cy="132.4"/>
<circle cx="1527.5" cy="252.5"/>
<circle cx="1688.9" cy="168.1"/>
<circle cx="1560.0" cy="194.7"/>
<circle cx="1480.3" cy="317.9"/>
<circle cx="1505.2" cy="187.6"/>
<circle cx="1502.5" cy="251.5"/>
<circle cx="1572.7" cy="212.9"/>
<circle cx="1540.0" cy="193.6"/>
<circle cx="1518.8" cy="264.6"/>
<circle cx="1608.9" cy="195.6"/>
<circle cx="1590.1" cy="299.3"/>
<circle cx="1478.6" cy="148.4"/>
<circle cx="1589.3" cy="180.4"/>
<circle cx="1580.7" cy="211.0"/>
<circle cx="1533.7" cy="191.4"/>
<circle cx="1552.1" cy="199.0"/>
<circle cx="1605.6" cy="175.7"/>
<circle cx="1532.5" cy="267.0"/>
<circle cx="1514.4" cy="237.9"/>
<circle cx="1502.5" cy="152.9"/>
<circle cx="1602.6" cy="187.7"/>
<circle cx="1536.5" cy="302.3"/>
<circle cx="1550.2" cy="255.4"/>
<circle cx="1475.6" cy="177.3"/>
<circle cx="1491.8" cy="239.3"/>
<circle cx="1594.6" cy="312.2"/>
<circle cx="1480.2" cy="348.8"/>
<circle cx="1518.0" cy="221.3"/>
<circle cx="1598.0" cy="236.6"/>
<circle cx="1503.9" cy="248.1"/>
<circle cx="1514.9" cy="242.8"/>
<circle cx="1641.7" cy="199.8"/>
<circle cx="1590.1" cy="232.7"/>
<circle cx="1491.0" cy="119.3"/>
<circle cx="1533.6" cy="275.8"/>
<circle cx="1520.5" cy="191.5"/>
<circle cx="1482.4" cy="197.7"/>
<circle cx="1563.8" cy="255.1"/>
<circle cx="1489.6" cy="188.7"/>
<circle cx="1509.3" cy="198.3"/>
<circle cx="1529.3" cy="245.9"/>
<circle cx="1480.6" cy="253.6"/>
<circle cx="1485.6" cy="301.5"/>
<circle cx="1476.2" cy="127.9"/>
<circle cx="1624.5" cy="217.1"/>
<circle cx="1517.5" cy="198.2"/>
<circle cx="1476.1" cy="159.0"/>
<circle cx="1540.6" cy="250.1"/>
<circle cx="1605.5" cy="295.2"/>
<circle cx="1591.0" cy="262.4"/>
<circle cx="1558.0" cy="243.0"/>
<circle cx="1509.7" cy="193.6"/>
<circle cx="1596.6" cy="180.0"/>
<circle cx="1527.7" cy="149.8"/>
<circle cx="1475.3" cy="179.8"/>
<circle cx="1479.5" cy="184.1"/>
<circle cx="1503.2" cy="312.0"/>
<circle cx="1508.7" cy="198.2"/>
<circle cx="1611.8" cy="220.3"/>
<circle cx="1501.1" cy="284.1"/>
<circle cx="1524.9" cy="212.7"/>
<circle cx="1492.7" cy="394.0"/>
<circle cx="1703.0" cy="211.7"/>
<circle cx="1491.6" cy="229.0"/>
<circle cx="1575.3" cy="155.6"/>
<circle cx="1522.0" cy="190.1"/>
<circle cx="1570.0" cy="208.5"/>
<circle cx="1554.8" cy="183.3"/>
<circle cx="1517.7" cy="231.2"/>
<circle cx="1540.5" cy="246.6"/>
<circle cx="1655.8" cy="282.3"/>
<circle cx="1488.1" cy="317.5"/>
<circle cx="1639.3" cy="221.0"/>
<circle cx="1526.1" cy="133.5"/>
<circle cx="1531.8" cy="161.6"/>
<circle cx="1552.1" cy="184.0"/>
<circle cx="1557.0" cy="246.6"/>
<circle cx="1529.3" cy="261.5"/>
<circle cx="1486.6" cy="222.6"/>
<circle cx="1547.3" cy="235.0"/>
<circle cx="1496.1" cy="196.4"/>
<circle cx="1553.7" cy="268.2"/>
<circle cx="1528.3" cy="185.2"/>
<circle cx="1585.9" cy="162.3"/>
<circle cx="1486.2" cy="212.8"/>
<circle cx="1533.9" cy="215.3"/>
<circle cx="1489.9" cy="222.5"/>
<circle cx="1589.7" cy="213.7"/>
<circle cx="1505.2" cy="180.3"/>
<circle cx="1633.5" cy="218.5"/>
<circle cx="1513.8" cy="214.3"/>
<circle cx="1934.2" cy="218.1"/>
<circle cx="1491.2" cy="213.8"/>
<circle cx="1487.6" cy="222.4"/>
<circle cx="1491.2" cy="274.5"/>
<circle cx="1508.4" cy="277.6"/>
<circle cx="1506.5" cy="374.9"/>
<circle cx="1557.4" cy="201.8"/>
<circle cx="1509.6" cy="318.6"/>
<circle cx="1508.1" cy="251.6"/>
<circle cx="1820.4" cy="246.0"/>
<circle cx="1489.0" cy="257.3"/>
<circle cx="1548.8" cy="259.4"/>
<circle cx="1639.0" cy="253.8"/>
<circle cx="1481.3" cy="146.8"/>
<circle cx="1478.6" cy="200.7"/>
<circle cx="1532.8" cy="213.2"/>
<circle cx="1551.0" cy="193.2"/>
<circle cx="1576.0" cy="241.0"/>
<circle cx="1521.2" cy="212.4"/>
<circle cx="1547.6" cy="282.3"/>
<circle cx="1707.8" cy="249.3"/>
<circle cx="1606.5" cy="200.4"/>
<circle cx="1529.9" cy="254.8"/>
<circle cx="1555.3" cy="220.2"/>
<circle cx="1528.4" cy="227.0"/>
<circle cx="1555.0" cy="210.5"/>
<circle cx="1476.9" cy="155.0"/>
<circle cx="1512.9" cy="222.1"/>
<circle cx="1565.5" cy="235.9"/>
<circle cx="1530.3" cy="213.8"/>
<circle cx="1507.0" cy="294.3"/>
<circle cx="1501.4" cy="313.3"/>
<circle cx="1509.3" cy="179.6"/>
<circle cx="1753.4" cy="214.1"/>
<circle cx="1583.3" cy="322.9"/>
<circle cx="1495.5" cy="270.5"/>
<circle cx="1530.8" cy="181.1"/>
<circle cx="1477.0" cy="169.9"/>
<circle cx="1566.4" cy="216.4"/>
<circle cx="1580.4" cy="247.3"/>
<circle cx="1624.6" cy="194.8"/>
<circle cx="1520.7" cy="193.6"/>
<circle cx="1578.2" cy="201.4"/>
<circle cx="1530.6" cy="196.2"/>
<circle cx="1484.5" cy="177.2"/>
<circle cx="1583.3" cy="244.6"/>
<circle cx="1511.1" cy="282.4"/>
<circle cx="1543.8" cy="242.1"/>
<circle cx="1647.2" cy="275.0"/>
<circle cx="1583.6" cy="213.1"/>
<circle cx="1481.0" cy="195.5"/>
<circle cx="1634.1" cy="270.1"/>
<circle cx="1531.0" cy="192.7"/>
<circle cx="1482.1" cy="198.6"/>
<circle cx="1548.7" cy="228.3"/>
<circle cx="1645.5" cy="192.3"/>
<circle cx="1476.1" cy="171.9"/>
<circle cx="1529.6" cy="301.4"/>
<circle cx="1492.2" cy="178.9"/>
<circle cx="1758.8" cy="202.0"/>
<circle cx="1550.8" cy="251.7"/>
<circle cx="1596.2" cy="239.2"/>
<circle cx="1526.9" cy="211.4"/>
<circle cx="1494.9" cy="206.1"/>
<circle cx="1534.3" cy="206.4"/>
<circle cx="1529.9" cy="301.0"/>
<circle cx="1551.1" cy="213.9"/>
<circle cx="1561.6" cy="202.8"/>
<circle cx="1630.2" cy="201.7"/>
<circle cx="1548.0" cy="211.8"/>
<circle cx="1481.5" cy="181.2"/>
<circle cx="1570.8" cy="235.8"/>
<circle cx="1535.9" cy="244.3"/>
<circle cx="1574.2" cy="214.0"/>
<circle cx="1513.6" cy="206.1"/>
<circle cx="1525.7" cy="290.2"/>
<circle cx="1536.5" cy="194.6"/>
<circle cx="1504.4" cy="205.4"/>
<circle cx="1523.3" cy="337.0"/>
<circle cx="1628.0" cy="314.3"/>
<circle cx="1679.6" cy="216.9"/>
<circle cx="1486.1" cy="251.8"/>
<circle cx="1504.9" cy="154.9"/>
<circle cx="1485.4" cy="212.8"/>
<circle cx="1655.9" cy="209.1"/>
<circle cx="1587.8" cy="176.2"/>
<circle cx="1562.0" cy="230.1"/>
<circle cx="1570.4" cy="247.0"/>
<circle cx="1516.9" cy="126.1"/>
<circle cx="1544.7" cy="237.1"/>
<circle cx="1634.1" cy="236.6"/>
<circle cx="1596.9" cy="275.3"/>
<circle cx="1740.0" cy="222.8"/>
<circle cx="1547.9" cy="213.1"/>
<circle cx="1502.5" cy="266.0"/>
<circle cx="1485.7" cy="273.0"/>
<circle cx="1502.3" cy="298.9"/>
<circle cx="1491.0" cy="124.3"/>
<circle cx="1551.0" cy="204.1"/>
<circle cx="1483.9" cy="157.3"/>
<circle cx="1515.4" cy="204.2"/>
<circle cx="1527.4" cy="195.1"/>
<circle cx="1514.9" cy="194.7"/>
<circle cx="1511.9" cy="251.3"/>
<circle cx="1481.8" cy="186.8"/>
<circle cx="1477.1" cy="195.0"/>
<circle cx="1514.3" cy="250.3"/>
<circle cx="1537.0" cy="185.8"/>
<circle cx="1485.7" cy="191.5"/>
<circle cx="1536.5" cy="217.9"/>
<circle cx="1749.1" cy="210.1"/>
<circle cx="1605.3" cy="261.8"/>
<circle cx="1667.8" cy="202.6"/>
<circle cx="1684.2" cy="215.9"/>
<circle cx="1510.5" cy="265.8"/>
<circle cx="1749.0" cy="203.3"/>
<circle cx="1571.3" cy="190.8"/>
<circle cx="1486.2" cy="306.6"/>
<circle cx="1507.7" cy="183.6"/>
<circle cx="1501.0" cy="197.1"/>
<circle cx="1484.4" cy="177.1"/>
<circle cx="1563.4" cy="215.6"/>
<circle cx="1482.5" cy="116.0"/>
<circle cx="1719.7" cy="199.7"/>
<circle cx="1484.4" cy="340.4"/>
<circle cx="1477.1" cy="241.9"/>
<circle cx="1509.0" cy="194.1"/>
<circle cx="1509.3" cy="296.4"/>
<circle cx="1550.7" cy="222.3"/>
<circle cx="1593.0" cy="202.3"/>
<circle cx="1565.8" cy="221.8"/>
<circle cx="1639.5" cy="312.5"/>
<circle cx="1494.9" cy="236.1"/>
<circle cx="1511.8" cy="214.6"/>
<circle cx="1608.9" cy="243.5"/>
<circle cx="1586.8" cy="192.9"/>
<circle cx="1548.0" cy="174.1"/>
<circle cx="1565.0" cy="278.0"/>
<circle cx="1478.1" cy="307.5"/>
<circle cx="1486.1" cy="247.8"/>
<circle cx="1584.5" cy="196.6"/>
<circle cx="1582.8" cy="210.2"/>
<circle cx="1516.6" cy="192.3"/>
<circle cx="1483.7" cy="227.0"/>
<circle cx="1513.6" cy="292.8"/>
<circle cx="1501.2" cy="239.8"/>
<circle cx="1529.8" cy="196.5"/>
<circle cx="1548.4" cy="190.3"/>
<circle cx="1550.3" cy="225.9"/>
<circle cx="1534.9" cy="230.8"/>
<circle cx="1520.7" cy="226.8"/>
<circle cx="1535.5" cy="178.4"/>
<circle cx="1499.5" cy="219.2"/>
<circle cx="1478.8" cy="221.7"/>
<circle cx="1543.1" cy="282.8"/>
<circle cx="1523.9" cy="136.8"/>
<circle cx="1481.7" cy="185.3"/>
<circle cx="1480.2" cy="232.5"/>
<circle cx="1510.1" cy="285.0"/>
<circle cx="1524.3" cy="358.2"/>
<circle cx="1555.7" cy="254.2"/>
<circle cx="1486.3" cy="196.0"/>
<circle cx="1509.8" cy="168.3"/>
<circle cx="1677.0" cy="211.7"/>
<circle cx="1478.1" cy="186.7"/>
<circle cx="1496.9" cy="211.3"/>
<circle cx="1685.1" cy="215.9"/>
<circle cx="1496.0" cy="270.2"/>
<circle cx="1499.4" cy="135.0"/>
<circle cx="1622.2" cy="225.2"/>
<circle cx="1619.3" cy="286.3"/>
<circle cx="1527.5" cy="341.5"/>
<circle cx="1493.3" cy="245.5"/>
<circle cx="1538.4" cy="213.7"/>
<circle cx="1628.5" cy="241.7"/>
<circle cx="1512.4" cy="192.9"/>
<circle cx="1503.9" cy="254.0"/>
<circle cx="1583.1" cy="266.3"/>
<circle cx="1524.8" cy="234.6"/>
<circle cx="1512.2" cy="196.6"/>
<circle cx="1627.1" cy="192.0"/>
<circle cx="1486.2" cy="210.5"/>
<circle cx="1499.2" cy="199.1"/>
<circle cx="1587.5" cy="261.5"/>
<circle cx="1480.8" cy="168.6"/>
<circle cx="1772.2" cy="258.2"/>
<circle cx="1535.0" cy="191.0"/>
<circle cx="1527.5" cy="273.0"/>
<circle cx="1504.9" cy="275.7"/>
<circle cx="1479.2" cy="335.5"/>
<circle cx="1508.0" cy="210.6"/>
<circle cx="1593.7" cy="204.5"/>
<circle cx="1659.9" cy="273.9"/>
<circle cx="1648.1" cy="218.6"/>
<circle cx="1555.6" cy="209.9"/>
<circle cx="1516.4" cy="226.1"/>
<circle cx="1521.1" cy="192.0"/>
<circle cx="1526.6" cy="201.7"/>
<circle cx="1509.7" cy="257.3"/>
<circle cx="1665.8" cy="263.5"/>
<circle cx="1506.2" cy="298.3"/>
<circle cx="1486.0" cy="233.9"/>
<circle cx="1666.3" cy="216.3"/>
<circle cx="1529.6" cy="189.6"/>
<circle cx="1498.1" cy="196.3"/>
<circle cx="1503.2" cy="199.6"/>
<circle cx="1579.3" cy="229.6"/>
<circle cx="1555.8" cy="222.5"/>
<circle cx="1635.8" cy="215.3"/>
<circle cx="1499.4" cy="274.3"/>
<circle cx="1540.5" cy="195.4"/>
<circle cx="1639.7" cy="226.9"/>
<circle cx="1614.0" cy="265.5"/>
<circle cx="1683.0" cy="204.9"/>
<circle cx="1566.7" cy="280.4"/>
<circle cx="1481.5" cy="267.0"/>
<circle cx="1478.0" cy="276.7"/>
<circle cx="1487.3" cy="135.1"/>
<circle cx="1685.6" cy="221.1"/>
<circle cx="1481.3" cy="210.7"/>
<circle cx="1597.7" cy="262.1"/>
<circle cx="1601.2" cy="173.7"/>
<circle cx="1490.3" cy="213.8"/>
<circle cx="1538.5" cy="328.5"/>
<circle cx="1606.5" cy="243.5"/>
<circle cx="1572.6" cy="224.5"/>
<circle cx="1506.8" cy="209.0"/>
<circle cx="1578.6" cy="261.5"/>
<circle cx="1655.2" cy="216.0"/>
<circle cx="1494.4" cy="199.7"/>
<circle cx="1484.0" cy="204.2"/>
<circle cx="1511.8" cy="222.5"/>
<circle cx="1533.7" cy="290.3"/>
<circle cx="1591.3" cy="164.4"/>
<circle cx="1490.6" cy="263.7"/>
<circle cx="1588.3" cy="166.9"/>
<circle cx="1519.7" cy="199.1"/>
<circle cx="1537.7" cy="194.3"/>
<circle cx="1524.6" cy="193.9"/>
<circle cx="1650.0" cy="212.5"/>
<circle cx="1542.0" cy="205.8"/>
<circle cx="1643.3" cy="316.5"/>
<circle cx="1546.9" cy="225.2"/>
<circle cx="1520.3" cy="264.9"/>
<circle cx="1490.7" cy="177.8"/>
<circle cx="1542.3" cy="242.3"/>
<circle cx="1578.8" cy="230.3"/>
<circle cx="1477.9" cy="272.0"/>
<circle cx="1519.2" cy="199.3"/>
<circle cx="1486.4" cy="220.7"/>
<circle cx="1596.5" cy="253.6"/>
<circle cx="1547.3" cy="215.2"/>
<circle cx="1484.2" cy="132.1"/>
<circle cx="1536.5" cy="270.3"/>
<circle cx="1475.7" cy="200.0"/>
<circle cx="1510.8" cy="321.0"/>
<circle cx="1540.3" cy="174.4"/>
<circle cx="1508.9" cy="166.9"/>
<circle cx="1585.8" cy="251.4"/>
<circle cx="1544.6" cy="219.1"/>
<circle cx="1539.0" cy="275.5"/>
<circle cx="1493.3" cy="219.9"/>
<circle cx="1484.1" cy="165.1"/>
<circle cx="1556.2" cy="163.1"/>
<circle cx="1486.2" cy="266.6"/>
<circle cx="1481.9" cy="232.8"/>
<circle cx="1501.3" cy="296.7"/>
<circle cx="1559.0" cy="210.5"/>
<circle cx="1487.3" cy="160.0"/>
<circle cx="1552.1" cy="173.5"/>
<circle cx="1502.0" cy="207.8"/>
<circle cx="1524.3" cy="174.0"/>
<circle cx="1493.7" cy="214.8"/>
<circle cx="1510.4" cy="228.1"/>
<circle cx="1658.6" cy="199.9"/>
<circle cx="1570.7" cy="273.2"/>
<circle cx="1704.3" cy="289.8"/>
<circle cx="1558.4" cy="258.4"/>
<circle cx="1588.5" cy="271.1"/>
<circle cx="1559.3" cy="214.5"/>
<circle cx="1649.2" cy="229.5"/>
<circle cx="1499.8" cy="190.6"/>
<circle cx="1692.2" cy="272.2"/>
<circle cx="1504.4" cy="179.0"/>
<circle cx="1569.4" cy="224.0"/>
<circle cx="1529.2" cy="176.4"/>
<circle cx="1479.3" cy="173.2"/>
<circle cx="1477.6" cy="272.2"/>
<circle cx="1675.1" cy="265.7"/>
<circle cx="1656.7" cy="224.8"/>
<circle cx="1553.3" cy="171.3"/>
<circle cx="1701.1" cy="210.1"/>
<circle cx="1532.3" cy="218.3"/>
<circle cx="1497.7" cy="235.3"/>
<circle cx="1495.0" cy="226.3"/>
<circle cx="1503.4" cy="132.3"/>
<circle cx="1476.1" cy="317.8"/>
<circle cx="1526.2" cy="334.3"/>
<circle cx="1481.6" cy="194.7"/>
<circle cx="1510.3" cy="246.1"/>
<circle cx="1498.5" cy="331.3"/>
<circle cx="1496.1" cy="225.7"/>
<circle cx="1617.3" cy="261.4"/>
<circle cx="1540.8" cy="204.5"/>
<circle cx="1509.7" cy="278.0"/>
<circle cx="1553.2" cy="268.2"/>
<circle cx="1810.2" cy="241.7"/>
<circle cx="1536.2" cy="243.9"/>
<circle cx="1496.1" cy="207.5"/>
<circle cx="1499.2" cy="173.5"/>
<circle cx="1476.0" cy="232.5"/>
<circle cx="1550.8" cy="271.5"/>
<circle cx="1578.4" cy="186.8"/>
<circle cx="1492.7" cy="90.6"/>
<circle cx="1504.8" cy="120.7"/>
<circle cx="1525.8" cy="175.9"/>
<circle cx="1491.3" cy="224.9"/>
<circle cx="1514.6" cy="213.5"/>
<circle cx="1622.2" cy="196.3"/>
<circle cx="1726.2" cy="215.1"/>
<circle cx="1505.9" cy="194.7"/>
<circle cx="1567.3" cy="246.0"/>
<circle cx="1714.1" cy="243.6"/>
<circle cx="1519.9" cy="198.0"/>
<circle cx="1511.2" cy="253.8"/>
<circle cx="1482.3" cy="426.6"/>
<circle cx="1483.4" cy="197.3"/>
<circle cx="1758.6" cy="216.0"/>
<circle cx="1732.4" cy="193.1"/>
<circle cx="1481.1" cy="189.2"/>
<circle cx="1507.3" cy="369.3"/>
<circle cx="1653.3" cy="209.6"/>
<circle cx="1482.1" cy="159.9"/>
<circle cx="1643.0" cy="295.0"/>
<circle cx="1501.8" cy="210.2"/>
<circle cx="1546.6" cy="243.0"/>
<circle cx="1480.7" cy="305.8"/>
<circle cx="1480.7" cy="159.2"/>
<circle cx="1618.2" cy="184.1"/>
<circle cx="1543.6" cy="177.3"/>
<circle cx="1563.5" cy="195.9"/>
<circle cx="1538.4" cy="196.3"/>
<circle cx="1567.0" cy="290.9"/>
<circle cx="1594.8" cy="244.7"/>
<circle cx="1526.6" cy="252.3"/>
<circle cx="1485.0" cy="306.9"/>
<circle cx="1511.8" cy="313.9"/>
<circle cx="1572.7" cy="223.5"/>
<circle cx="1536.8" cy="202.8"/>
<circle cx="1518.1" cy="180.4"/>
<circle cx="1561.9" cy="279.5"/>
<circle cx="1552.0" cy="237.1"/>
<circle cx="1525.2" cy="246.7"/>
<circle cx="1500.9" cy="201.0"/>
<circle cx="1539.2" cy="290.4"/>
<circle cx="1499.2" cy="221.0"/>
<circle cx="1486.0" cy="178.6"/>
<circle cx="1519.9" cy="262.7"/>
<circle cx="1483.2" cy="236.4"/>
<circle cx="1567.9" cy="222.5"/>
<circle cx="1555.3" cy="268.1"/>
<circle cx="1499.0" cy="210.9"/>
<circle cx="1479.0" cy="229.9"/>
<circle cx="1615.2" cy="181.1"/>
<circle cx="1478.2" cy="250.5"/>
<circle cx="1582.9" cy="296.4"/>
<circle cx="1520.0" cy="225.1"/>
<circle cx="1603.4" cy="220.6"/>
<circle cx="1543.5" cy="134.7"/>
<circle cx="1617.0" cy="221.9"/>
<circle cx="1553.3" cy="219.7"/>
<circle cx="1517.2" cy="250.5"/>
<circle cx="1530.9" cy="179.3"/>
<circle cx="1494.3" cy="216.8"/>
<circle cx="1480.4" cy="161.1"/>
<circle cx="1485.1" cy="244.6"/>
<circle cx="1728.4" cy="192.7"/>
<circle cx="1542.1" cy="225.9"/>
<circle cx="1504.5" cy="150.9"/>
<circle cx="1579.6" cy="215.3"/>
<circle cx="1721.4" cy="256.1"/>
<circle cx="1524.2" cy="266.0"/>
<circle cx="1646.5" cy="217.7"/>
<circle cx="1517.1" cy="191.9"/>
<circle cx="1514.7" cy="207.4"/>
<circle cx="1478.5" cy="160.9"/>
<circle cx="1478.3" cy="411.2"/>
<circle cx="1477.9" cy="229.3"/>
<circle cx="1483.9" cy="197.7"/>
<circle cx="1560.0" cy="284.0"/>
<circle cx="1527.3" cy="313.5"/>
<circle cx="1501.4" cy="303.8"/>
<circle cx="1503.6" cy="192.2"/>
<circle cx="1561.8" cy="210.1"/>
<circle cx="1572.7" cy="188.7"/>
<circle cx="1650.6" cy="200.8"/>
<circle cx="1601.0" cy="203.0"/>
<circle cx="1982.8" cy="250.8"/>
<circle cx="1502.4" cy="164.1"/>
<circle cx="1493.4" cy="116.5"/>
<circle cx="1537.9" cy="362.9"/>
<circle cx="1541.7" cy="176.3"/>
<circle cx="1648.2" cy="219.1"/>
<circle cx="1509.2" cy="168.2"/>
<circle cx="1589.1" cy="235.0"/>
<circle cx="1512.6" cy="205.4"/>
<circle cx="1571.9" cy="218.4"/>
<circle cx="1525.3" cy="329.4"/>
<circle cx="1525.3" cy="234.0"/>
<circle cx="1560.2" cy="310.0"/>
<circle cx="1480.5" cy="317.1"/>
<circle cx="1475.4" cy="258.9"/>
<circle cx="1477.4" cy="241.8"/>
<circle cx="1534.3" cy="197.1"/>
<circle cx="1623.1" cy="268.9"/>
<circle cx="1482.6" cy="162.4"/>
<circle cx="1508.1" cy="142.7"/>
<circle cx="1508.9" cy="144.3"/>
<circle cx="1502.7" cy="286.7"/>
<circle cx="1510.6" cy="196.4"/>
<circle cx="1530.0" cy="277.7"/>
<circle cx="1503.9" cy="331.6"/>
<circle cx="1577.6" cy="183.3"/>
<circle cx="1570.3" cy="219.3"/>
<circle cx="1614.9" cy="228.4"/>
<circle cx="1527.1" cy="249.8"/>
<circle cx="1551.4" cy="234.8"/>
<circle cx="1565.9" cy="162.1"/>
<circle cx="1607.2" cy="202.2"/>
<circle cx="1546.3" cy="167.3"/>
<circle cx="1496.6" cy="237.4"/>
<circle cx="1517.6" cy="220.5"/>
<circle cx="1479.4" cy="243.5"/>
<circle cx="1478.6" cy="210.0"/>
<circle cx="1502.8" cy="214.6"/>
<circle cx="1500.6" cy="226.2"/>
<circle cx="1695.0" cy="259.6"/>
<circle cx="1539.2" cy="210.2"/>
<circle cx="1736.5" cy="242.8"/>
<circle cx="1583.0" cy="289.0"/>
<circle cx="1717.8" cy="221.4"/>
<circle cx="1688.4" cy="256.9"/>
<circle cx="1530.7" cy="178.5"/>
<circle cx="1502.0" cy="163.8"/>
<circle cx="1475.9" cy="267.6"/>
<circle cx="1663.9" cy="231.8"/>
<circle cx="1553.4" cy="190.5"/>
<circle cx="1573.6" cy="212.9"/>
<circle cx="1615.2" cy="290.4"/>
<circle cx="1730.2" cy="228.7"/>
<circle cx="1504.1" cy="179.3"/>
<circle cx="1576.9" cy="218.6"/>
<circle cx="1502.9" cy="337.1"/>
<circle cx="1486.2" cy="200.8"/>
<circle cx="1581.4" cy="196.5"/>
<circle cx="1557.2" cy="309.4"/>
<circle cx="1513.4" cy="225.8"/>
<circle cx="1545.1" cy="207.7"/>
<circle cx="1482.8" cy="282.8"/>
<circle cx="1490.2" cy="134.6"/>
<circle cx="1547.2" cy="324.3"/>
<circle cx="1619.0" cy="218.1"/>
<circle cx="1532.4" cy="171.5"/>
<circle cx="1578.6" cy="367.2"/>
<circle cx="1512.6" cy="313.7"/>
<circle cx="1569.0" cy="191.5"/>
<circle cx="1477.8" cy="323.8"/>
<circle cx="1566.5" cy="297.0"/>
<circle cx="1567.7" cy="200.9"/>
<circle cx="1481.0" cy="193.8"/>
<circle cx="1528.8" cy="209.3"/>
<circle cx="1508.7" cy="124.3"/>
<circle cx="1548.2" cy="202.6"/>
<circle cx="1570.0" cy="164.0"/>
<circle cx="1483.6" cy="182.8"/>
<circle cx="1489.5" cy="145.9"/>
<circle cx="1537.5" cy="198.8"/>
<circle cx="1545.9" cy="207.4"/>
<circle cx="1534.7" cy="220.5"/>
<circle cx="1656.1" cy="186.9"/>
<circle cx="1552.1" cy="219.9"/>
<circle cx="1490.7" cy="206.8"/>
<circle cx="1596.9" cy="287.2"/>
<circle cx="1511.6" cy="329.3"/>
<circle cx="1539.3" cy="215.2"/>
<circle cx="1485.5" cy="189.8"/>
<circle cx="1509.2" cy="265.2"/>
<circle cx="1561.4" cy="268.3"/>
<circle cx="1586.2" cy="236.5"/>
<circle cx="1520.0" cy="181.0"/>
<circle cx="1498.7" cy="286.9"/>
<circle cx="1513.6" cy="163.9"/>
<circle cx="1501.7" cy="195.2"/>
<circle cx="1506.4" cy="187.0"/>
<circle cx="1485.1" cy="282.8"/>
<circle cx="1883.1" cy="236.4"/>
<circle cx="1604.1" cy="300.6"/>
<circle cx="1680.0" cy="217.2"/>
<circle cx="1610.1" cy="164.5"/>
<circle cx="1518.1" cy="216.3"/>
<circle cx="1600.9" cy="197.0"/>
<circle cx="1495.9" cy="155.1"/>
<circle cx="1515.1" cy="351.1"/>
<circle cx="1499.4" cy="373.6"/>
<circle cx="1522.0" cy="186.1"/>
<circle cx="1637.0" cy="321.7"/>
<circle cx="1486.0" cy="207.6"/>
<circle cx="1504.9" cy="147.1"/>
<circle cx="1528.1" cy="202.8"/>
<circle cx="1517.7" cy="188.6"/>
<circle cx="1617.1" cy="225.9"/>
<circle cx="1635.0" cy="232.0"/>
<circle cx="1508.9" cy="187.1"/>
<circle cx="1574.8" cy="206.7"/>
<circle cx="1583.3" cy="226.2"/>
<circle cx="1513.6" cy="162.7"/>
<circle cx="1487.7" cy="209.4"/>
<circle cx="1483.7" cy="120.1"/>
<circle cx="1554.6" cy="181.9"/>
<circle cx="1558.7" cy="196.8"/>
<circle cx="1725.7" cy="247.0"/>
<circle cx="1546.1" cy="258.4"/>
<circle cx="1507.3" cy="279.3"/>
<circle cx="1520.7" cy="145.5"/>
<circle cx="1595.4" cy="182.9"/>
<circle cx="1560.3" cy="231.2"/>
<circle cx="1587.4" cy="175.2"/>
<circle cx="1485.5" cy="135.5"/>
<circle cx="1541.8" cy="239.2"/>
<circle cx="1539.3" cy="258.6"/>
<circle cx="1498.4" cy="194.3"/>
<circle cx="1661.9" cy="192.0"/>
<circle cx="1546.3" cy="316.4"/>
<circle cx="1479.9" cy="209.9"/>
<circle cx="1527.2" cy="268.0"/>
<circle cx="1520.9" cy="211.4"/>
<circle cx="1495.1" cy="97.9"/>
<circle cx="1478.2" cy="190.0"/>
<circle cx="1638.6" cy="247.6"/>
<circle cx="1585.3" cy="233.4"/>
<circle cx="1563.4" cy="281.9"/>
<circle cx="1560.8" cy="207.2"/>
<circle cx="1490.6" cy="296.2"/>
<circle cx="1528.1" cy="192.5"/>
<circle cx="1706.5" cy="226.3"/>
<circle cx="1559.1" cy="201.8"/>
<circle cx="1513.6" cy="187.1"/>
<circle cx="1484.3" cy="158.7"/>
<circle cx="1514.1" cy="295.7"/>
<circle cx="1506.4" cy="228.4"/>
<circle cx="1536.0" cy="220.0"/>
<circle cx="1480.6" cy="248.5"/>
<circle cx="1490.6" cy="256.5"/>
<circle cx="1601.2" cy="228.4"/>
<circle cx="1555.5" cy="346.1"/>
<circle cx="1734.8" cy="247.9"/>
<circle cx="1483.8" cy="223.4"/>
<circle cx="1494.5" cy="191.0"/>
<circle cx="1522.8" cy="240.1"/>
<circle cx="1496.3" cy="183.0"/>
<circle cx="1679.9" cy="182.7"/>
<circle cx="1497.7" cy="178.9"/>
<circle cx="1483.9" cy="208.4"/>
<circle cx="1733.2" cy="248.5"/>
<circle cx="1507.3" cy="176.7"/>
<circle cx="1515.6" cy="309.2"/>
<circle cx="1602.7" cy="234.4"/>
<circle cx="1475.5" cy="189.5"/>
<circle cx="1515.3" cy="263.7"/>
<circle cx="1543.9" cy="245.7"/>
<circle cx="1509.7" cy="235.6"/>
<circle cx="1556.9" cy="208.3"/>
<circle cx="1806.9" cy="211.2"/>
<circle cx="1487.5" cy="189.1"/>
<circle cx="1484.4" cy="272.1"/>
<circle cx="1550.6" cy="223.5"/>
<circle cx="1495.7" cy="201.7"/>
<circle cx="1565.1" cy="207.6"/>
<circle cx="1619.1" cy="228.6"/>
<circle cx="1484.3" cy="236.1"/>
<circle cx="1553.4" cy="202.3"/>
<circle cx="1476.2" cy="126.5"/>
<circle cx="1536.0" cy="263.5"/>
<circle cx="1571.2" cy="212.3"/>
<circle cx="1488.7" cy="215.8"/>
<circle cx="1517.3" cy="316.7"/>
<circle cx="1541.9" cy="210.2"/>
<circle cx="1538.5" cy="248.8"/>
<circle cx="1583.9" cy="188.3"/>
<circle cx="1504.0" cy="197.8"/>
<circle cx="1481.6" cy="252.0"/>
<circle cx="1545.7" cy="168.0"/>
<circle cx="1603.1" cy="191.2"/>
<circle cx="1560.2" cy="161.0"/>
<circle cx="1522.7" cy="266.4"/>
<circle cx="1534.4" cy="255.7"/>
<circle cx="1541.2" cy="257.4"/>
<circle cx="1591.8" cy="217.2"/>
<circle cx="1526.4" cy="340.7"/>
<circle cx="1586.6" cy="273.0"/>
<circle cx="1514.7" cy="284.3"/>
<circle cx="1483.8" cy="170.5"/>
<circle cx="1546.4" cy="221.3"/>
<circle cx="1504.6" cy="197.2"/>
<circle cx="1486.3" cy="158.9"/>
<circle cx="1547.6" cy="219.1"/>
<circle cx="1605.6" cy="201.9"/>
<circle cx="1477.4" cy="177.8"/>
<circle cx="1699.1" cy="222.5"/>
<circle cx="1480.2" cy="329.9"/>
<circle cx="1570.1" cy="223.0"/>
<circle cx="1515.3" cy="217.2"/>
<circle cx="1565.4" cy="218.2"/>
<circle cx="1524.6" cy="289.6"/>
<circle cx="1523.2" cy="286.1"/>
<circle cx="1534.4" cy="288.3"/>
<circle cx="1526.1" cy="237.4"/>
<circle cx="1540.3" cy="254.2"/>
<circle cx="1476.6" cy="211.3"/>
<circle cx="1562.1" cy="211.8"/>
<circle cx="1571.5" cy="266.8"/>
<circle cx="1561.1" cy="224.7"/>
<circle cx="1482.9" cy="303.9"/>
<circle cx="1593.9" cy="193.6"/>
<circle cx="1531.6" cy="170.6"/>
<circle cx="1650.9" cy="208.5"/>
<circle cx="1482.3" cy="308.5"/>
<circle cx="1543.2" cy="290.6"/>
<circle cx="1616.7" cy="210.6"/>
<circle cx="1621.0" cy="288.6"/>
<circle cx="1602.0" cy="200.4"/>
<circle cx="1532.5" cy="192.3"/>
<circle cx="1507.4" cy="165.4"/>
<circle cx="1535.3" cy="199.7"/>
<circle cx="1477.5" cy="172.4"/>
<circle cx="1518.3" cy="177.7"/>
<circle cx="1579.2" cy="232.4"/>
<circle cx="1567.0" cy="193.7"/>
<circle cx="1505.9" cy="163.8"/>
<circle cx="1488.3" cy="236.6"/>
<circle cx="1526.0" cy="285.4"/>
<circle cx="1481.3" cy="161.7"/>
<circle cx="1482.9" cy="322.5"/>
<circle cx="1497.7" cy="224.4"/>
<circle cx="1538.6" cy="236.3"/>
<circle cx="1507.0" cy="220.6"/>
<circle cx="1494.2" cy="275.1"/>
<circle cx="1593.3" cy="188.9"/>
<circle cx="1601.6" cy="211.2"/>
<circle cx="1489.2" cy="185.5"/>
<circle cx="1555.0" cy="217.3"/>
<circle cx="1598.6" cy="213.7"/>
<circle cx="1622.3" cy="256.8"/>
<circle cx="1649.6" cy="223.5"/>
<circle cx="1500.9" cy="194.1"/>
<circle cx="1571.3" cy="265.3"/>
<circle cx="1508.0" cy="147.9"/>
<circle cx="1610.3" cy="193.5"/>
<circle cx="1611.5" cy="172.4"/>
<circle cx="1476.5" cy="148.2"/>
<circle cx="1651.5" cy="233.4"/>
<circle cx="1699.9" cy="283.8"/>
<circle cx="1543.7" cy="277.5"/>
<circle cx="1549.1" cy="201.1"/>
<circle cx="1531.4" cy="243.7"/>
<circle cx="1551.7" cy="235.9"/>
<circle cx="1597.0" cy="145.8"/>
<circle cx="1487.0" cy="140.8"/>
<circle cx="1782.1" cy="236.9"/>
<circle cx="1579.2" cy="190.4"/>
<circle cx="1564.9" cy="251.7"/>
<circle cx="1492.8" cy="236.8"/>
<circle cx="1561.7" cy="230.5"/>
<circle cx="1485.4" cy="194.9"/>
<circle cx="1503.5" cy="240.4"/>
<circle cx="1554.4" cy="282.9"/>
<circle cx="1529.7" cy="189.3"/>
<circle cx="1522.4" cy="213.5"/>
<circle cx="1547.0" cy="216.1"/>
<circle cx="1582.6" cy="221.7"/>
<circle cx="1608.3" cy="195.7"/>
<circle cx="1514.5" cy="212.5"/>
<circle cx="1493.3" cy="219.1"/>
<circle cx="1560.4" cy="216.3"/>
<circle cx="1513.7" cy="301.6"/>
<circle cx="1544.1" cy="208.8"/>
<circle cx="1482.4" cy="169.3"/>
<circle cx="1498.8" cy="383.6"/>
<circle cx="1510.1" cy="182.7"/>
<circle cx="1670.6" cy="240.8"/>
<circle cx="1594.5" cy="190.3"/>
<circle cx="1563.5" cy="276.9"/>
<circle cx="1481.3" cy="301.1"/>
<circle cx="1624.5" cy="252.2"/>
<circle cx="1521.9" cy="260.6"/>
<circle cx="1525.8" cy="145.3"/>
<circle cx="1540.8" cy="175.1"/>
<circle cx="1479.8" cy="248.0"/>
<circle cx="1563.0" cy="144.2"/>
<circle cx="1492.7" cy="209.8"/>
<circle cx="1511.9" cy="212.2"/>
<circle cx="1510.2" cy="297.3"/>
<circle cx="1526.4" cy="153.1"/>
<circle cx="1500.5" cy="184.3"/>
<circle cx="1528.4" cy="157.6"/>
<circle cx="1639.1" cy="225.0"/>
<circle cx="1543.1" cy="184.9"/>
<circle cx="1542.4" cy="361.4"/>
<circle cx="1492.5" cy="163.1"/>
<circle cx="1535.1" cy="293.5"/>
<circle cx="1486.5" cy="197.5"/>
<circle cx="1504.7" cy="172.0"/>
<circle cx="1482.5" cy="135.0"/>
<circle cx="1490.4" cy="271.2"/>
<circle cx="1593.4" cy="219.2"/>
<circle cx="1542.4" cy="194.3"/>
<circle cx="1476.3" cy="169.8"/>
<circle cx="1534.7" cy="200.2"/>
<circle cx="1601.7" cy="285.0"/>
<circle cx="1570.1" cy="222.7"/>
<circle cx="1600.2" cy="169.0"/>
<circle cx="1479.6" cy="178.3"/>
<circle cx="1583.8" cy="206.7"/>
<circle cx="1557.8" cy="210.3"/>
<circle cx="1513.0" cy="316.3"/>
<circle cx="1482.7" cy="122.5"/>
<circle cx="1533.2" cy="138.1"/>
<circle cx="1509.9" cy="197.6"/>
<circle cx="1502.9" cy="179.9"/>
<circle cx="1602.4" cy="202.1"/>
<circle cx="1526.8" cy="248.8"/>
<circle cx="1657.4" cy="214.9"/>
<circle cx="1509.5" cy="302.7"/>
<circle cx="1709.8" cy="206.8"/>
<circle cx="1580.3" cy="323.9"/>
<circle cx="1571.7" cy="235.8"/>
<circle cx="1486.8" cy="358.3"/>
<circle cx="1549.0" cy="188.0"/>
<circle cx="1561.2" cy="185.4"/>
<circle cx="1532.0" cy="215.5"/>
<circle cx="1530.6" cy="190.8"/>
<circle cx="1514.1" cy="203.8"/>
<circle cx="1582.9" cy="170.8"/>
<circle cx="1487.6" cy="192.6"/>
<circle cx="1550.9" cy="207.3"/>
<circle cx="1515.0" cy="209.0"/>
<circle cx="1500.6" cy="153.6"/>
<circle cx="1657.4" cy="226.8"/>
<circle cx="1540.3" cy="354.9"/>
<circle cx="1675.6" cy="286.3"/>
<circle cx="1540.4" cy="296.6"/>
<circle cx="1480.2" cy="172.2"/>
<circle cx="1560.7" cy="188.8"/>
<circle cx="1554.8" cy="184.3"/>
<circle cx="1714.0" cy="220.2"/>
<circle cx="1522.2" cy="357.9"/>
<circle cx="1543.2" cy="209.0"/>
<circle cx="1514.7" cy="292.3"/>
<circle cx="1552.3" cy="219.7"/>
<circle cx="1488.0" cy="222.6"/>
<circle cx="1546.1" cy="181.2"/>
<circle cx="1530.4" cy="114.1"/>
<circle cx="1576.5" cy="229.2"/>
<circle cx="1563.1" cy="183.1"/>
<circle cx="1487.6" cy="274.7"/>
<circle cx="1527.5" cy="299.9"/>
<circle cx="1609.0" cy="207.4"/>
<circle cx="1523.2" cy="232.6"/>
<circle cx="1609.5" cy="197.8"/>
<circle cx="1479.0" cy="124.9"/>
<circle cx="1556.3" cy="176.2"/>
<circle cx="1478.3" cy="247.7"/>
<circle cx="1505.9" cy="221.0"/>
<circle cx="1515.2" cy="201.9"/>
<circle cx="1492.1" cy="259.2"/>
<circle cx="1527.3" cy="215.6"/>
<circle cx="1485.2" cy="331.2"/>
<circle cx="1514.7" cy="351.0"/>
<circle cx="1591.8" cy="221.3"/>
<circle cx="1554.1" cy="186.7"/>
<circle cx="1520.5" cy="211.7"/>
<circle cx="1493.9" cy="133.3"/>
<circle cx="1568.5" cy="213.5"/>
<circle cx="1600.2" cy="268.5"/>
<circle cx="1521.1" cy="161.9"/>
<circle cx="1512.2" cy="227.6"/>
<circle cx="1480.8" cy="145.0"/>
<circle cx="1493.4" cy="196.8"/>
<circle cx="1555.4" cy="218.9"/>
<circle cx="1675.1" cy="248.3"/>
<circle cx="1480.3" cy="236.0"/>
<circle cx="1659.4" cy="234.0"/>
<circle cx="1489.9" cy="298.9"/>
<circle cx="1560.3" cy="211.7"/>
<circle cx="1537.1" cy="296.8"/>
<circle cx="1588.4" cy="219.8"/>
<circle cx="1528.2" cy="191.6"/>
<circle cx="1517.5" cy="176.7"/>
<circle cx="1511.9" cy="229.7"/>
<circle cx="1486.1" cy="289.0"/>
<circle cx="1516.9" cy="205.9"/>
<circle cx="1632.8" cy="252.2"/>
<circle cx="1532.7" cy="175.9"/>
<circle cx="1546.7" cy="217.3"/>
<circle cx="1495.8" cy="304.4"/>
<circle cx="1478.6" cy="244.4"/>
<circle cx="1570.9" cy="300.6"/>
<circle cx="1481.2" cy="291.0"/>
<circle cx="1517.0" cy="231.7"/>
<circle cx="1662.2" cy="234.0"/>
<circle cx="1503.4" cy="221.4"/>
<circle cx="1531.3" cy="255.3"/>
<circle cx="1485.1" cy="319.1"/>
<circle cx="1498.7" cy="184.7"/>
<circle cx="1500.7" cy="222.4"/>
<circle cx="1475.5" cy="242.9"/>
<circle cx="1482.0" cy="296.9"/>
<circle cx="1485.9" cy="245.6"/>
<circle cx="1514.9" cy="290.3"/>
<circle cx="1570.8" cy="205.0"/>
<circle cx="1498.8" cy="248.8"/>
<circle cx="1532.0" cy="230.1"/>
<circle cx="1527.9" cy="224.3"/>
<circle cx="1519.2" cy="192.1"/>
<circle cx="1482.1" cy="110.2"/>
<circle cx="1518.6" cy="210.0"/>
<circle cx="1531.3" cy="322.9"/>
<circle cx="1498.5" cy="154.5"/>
<circle cx="1509.5" cy="281.8"/>
<circle cx="1512.6" cy="152.2"/>
<circle cx="1638.1" cy="272.1"/>
<circle cx="1479.6" cy="203.0"/>
<circle cx="1666.9" cy="228.9"/>
<circle cx="1479.7" cy="215.9"/>
<circle cx="1623.1" cy="224.9"/>
<circle cx="1701.4" cy="210.0"/>
<circle cx="1517.1" cy="184.1"/>
<circle cx="1487.3" cy="255.5"/>
<circle cx="1544.5" cy="235.9"/>
<circle cx="1560.3" cy="211.6"/>
<circle cx="1499.1" cy="204.9"/>
<circle cx="1538.1" cy="297.3"/>
<circle cx="1587.8" cy="204.9"/>
<circle cx="1488.3" cy="186.5"/>
<circle cx="1514.7" cy="226.9"/>
<circle cx="1589.3" cy="208.5"/>
<circle cx="1514.5" cy="172.2"/>
<circle cx="1738.8" cy="283.2"/>
<circle cx="1510.0" cy="159.7"/>
<circle cx="1829.0" cy="228.8"/>
<circle cx="1500.5" cy="197.2"/>
<circle cx="1567.5" cy="233.6"/>
<circle cx="1532.4" cy="288.8"/>
<circle cx="1519.6" cy="187.3"/>
<circle cx="1609.2" cy="261.6"/>
<circle cx="1530.5" cy="254.6"/>
<circle cx="1586.8" cy="164.0"/>
<circle cx="1492.2" cy="277.2"/>
<circle cx="1541.5" cy="275.5"/>
<circle cx="1763.2" cy="215.7"/>
<circle cx="1541.0" cy="277.7"/>
<circle cx="1560.5" cy="186.5"/>
<circle cx="1512.2" cy="297.3"/>
<circle cx="1576.8" cy="183.1"/>
<circle cx="1517.9" cy="190.2"/>
<circle cx="1495.5" cy="197.3"/>
<circle cx="1601.8" cy="224.0"/>
<circle cx="1477.8" cy="245.0"/>
<circle cx="1526.7" cy="188.9"/>
<circle cx="1636.3" cy="187.8"/>
<circle cx="1702.4" cy="231.6"/>
<circle cx="1579.1" cy="208.8"/>
<circle cx="1489.9" cy="248.7"/>
<circle cx="1699.7" cy="201.3"/>
<circle cx="1638.2" cy="244.5"/>
<circle cx="1502.0" cy="291.7"/>
<circle cx="1477.5" cy="273.3"/>
<circle cx="1577.9" cy="206.8"/>
<circle cx="1642.6" cy="248.6"/>
<circle cx="1591.7" cy="220.7"/>
<circle cx="1482.8" cy="274.0"/>
<circle cx="1514.4" cy="239.9"/>
<circle cx="1600.2" cy="222.0"/>
<circle cx="1533.0" cy="209.1"/>
<circle cx="1563.1" cy="232.2"/>
<circle cx="1508.0" cy="266.5"/>
<circle cx="1666.8" cy="284.8"/>
<circle cx="1481.1" cy="174.5"/>
<circle cx="1506.7" cy="318.4"/>
<circle cx="1495.0" cy="234.0"/>
<circle cx="1505.7" cy="174.1"/>
<circle cx="1522.5" cy="332.5"/>
<circle cx="1635.3" cy="213.7"/>
<circle cx="1698.0" cy="233.9"/>
<circle cx="1543.7" cy="182.3"/>
<circle cx="1481.8" cy="194.8"/>
<circle cx="1505.4" cy="205.3"/>
<circle cx="1494.4" cy="198.0"/>
<circle cx="1534.1" cy="185.0"/>
<circle cx="1638.1" cy="204.2"/>
<circle cx="1520.7" cy="275.1"/>
<circle cx="1623.7" cy="191.4"/>
<circle cx="1493.5" cy="168.9"/>
<circle cx="1487.5" cy="235.1"/>
<circle cx="1579.4" cy="262.0"/>
<circle cx="1590.8" cy="189.8"/>
<circle cx="1476.3" cy="236.7"/>
<circle cx="1796.1" cy="225.7"/>
<circle cx="1490.5" cy="244.3"/>
<circle cx="1497.7" cy="190.7"/>
<circle cx="1486.5" cy="260.5"/>
<circle cx="1493.4" cy="209.2"/>
<circle cx="1825.8" cy="240.7"/>
<circle cx="1518.0" cy="205.0"/>
<circle cx="1552.8" cy="233.0"/>
<circle cx="1491.5" cy="186.2"/>
<circle cx="1528.4" cy="168.3"/>
<circle cx="1531.1" cy="255.0"/>
<circle cx="1529.7" cy="190.1"/>
<circle cx="1484.7" cy="214.0"/>
<circle cx="1543.6" cy="127.0"/>
<circle cx="1750.6" cy="247.4"/>
<circle cx="1493.8" cy="348.2"/>
<circle cx="1613.6" cy="276.2"/>
<circle cx="1612.8" cy="274.4"/>
<circle cx="1506.5" cy="174.5"/>
<circle cx="1494.7" cy="248.1"/>
<circle cx="1694.0" cy="191.8"/>
<circle cx="1564.9" cy="220.8"/>
<circle cx="1523.7" cy="244.7"/>
<circle cx="1614.1" cy="249.6"/>
<circle cx="1520.6" cy="204.6"/>
<circle cx="1537.6" cy="175.2"/>
<circle cx="1682.5" cy="307.1"/>
<circle cx="1588.6" cy="303.8"/>
<circle cx="1501.0" cy="238.5"/>
<circle cx="1676.6" cy="235.4"/>
<circle cx="1563.2" cy="199.4"/>
<circle cx="1634.9" cy="204.3"/>
<circle cx="1520.5" cy="232.1"/>
<circle cx="1573.3" cy="236.1"/>
<circle cx="1476.1" cy="325.8"/>
<circle cx="1704.4" cy="250.8"/>
<circle cx="1511.5" cy="228.4"/>
<circle cx="1497.2" cy="198.2"/>
<circle cx="1633.4" cy="218.7"/>
<circle cx="1556.4" cy="182.9"/>
<circle cx="1475.4" cy="249.0"/>
<circle cx="1501.2" cy="173.6"/>
<circle cx="1556.1" cy="247.8"/>
<circle cx="1484.1" cy="144.4"/>
<circle cx="1533.1" cy="324.4"/>
<circle cx="1748.9" cy="193.5"/>
<circle cx="1696.5" cy="219.9"/>
<circle cx="1571.1" cy="227.5"/>
<circle cx="1478.4" cy="162.7"/>
<circle cx="1483.8" cy="350.2"/>
<circle cx="1611.5" cy="202.4"/>
<circle cx="1649.6" cy="214.3"/>
<circle cx="1622.5" cy="222.3"/>
<circle cx="1568.3" cy="144.1"/>
<circle cx="1516.4" cy="222.9"/>
<circle cx="1503.5" cy="175.1"/>
<circle cx="1497.8" cy="208.8"/>
<circle cx="1514.3" cy="258.6"/>
<circle cx="1503.8" cy="164.2"/>
<circle cx="1544.2" cy="200.7"/>
<circle cx="1509.5" cy="278.3"/>
<circle cx="1548.5" cy="222.8"/>
<circle cx="1603.9" cy="207.5"/>
<circle cx="1605.2" cy="178.8"/>
<circle cx="1489.4" cy="233.9"/>
<circle cx="1534.7" cy="288.7"/>
<circle cx="1477.0" cy="261.9"/>
<circle cx="1525.7" cy="221.0"/>
<circle cx="1538.3" cy="255.5"/>
<circle cx="1482.2" cy="160.1"/>
<circle cx="1519.9" cy="221.3"/>
<circle cx="1583.3" cy="219.3"/>
<circle cx="1504.0" cy="297.9"/>
<circle cx="1578.8" cy="199.9"/>
<circle cx="1703.6" cy="224.7"/>
<circle cx="1478.5" cy="259.5"/>
<circle cx="1595.2" cy="218.1"/>
<circle cx="1587.7" cy="214.1"/>
<circle cx="1609.0" cy="288.5"/>
<circle cx="1476.4" cy="150.7"/>
<circle cx="1528.9" cy="205.1"/>
<circle cx="1483.4" cy="231.2"/>
<circle cx="1527.2" cy="231.8"/>
<circle cx="1494.4" cy="258.0"/>
<circle cx="1486.7" cy="182.3"/>
<circle cx="1545.4" cy="177.2"/>
<circle cx="1587.1" cy="281.1"/>
<circle cx="1502.6" cy="204.0"/>
<circle cx="1483.1" cy="294.9"/>
<circle cx="1601.2" cy="264.5"/>
<circle cx="1526.1" cy="206.1"/>
<circle cx="1571.7" cy="234.4"/>
<circle cx="1571.5" cy="317.0"/>
<circle cx="1521.0" cy="208.0"/>
<circle cx="1559.1" cy="352.1"/>
<circle cx="1765.7" cy="255.9"/>
<circle cx="1669.2" cy="244.8"/>
<circle cx="1511.9" cy="225.4"/>
<circle cx="1524.8" cy="224.4"/>
<circle cx="1543.4" cy="195.4"/>
<circle cx="1526.0" cy="265.2"/>
<circle cx="1551.1" cy="243.8"/>
<circle cx="1595.5" cy="224.6"/>
<circle cx="1476.7" cy="222.7"/>
<circle cx="1539.5" cy="262.9"/>
<circle cx="1525.6" cy="213.1"/>
<circle cx="1493.6" cy="282.6"/>
<circle cx="1615.7" cy="206.4"/>
<circle cx="1502.2" cy="164.1"/>
<circle cx="1558.4" cy="170.3"/>
<circle cx="1578.3" cy="248.0"/>
<circle cx="1546.3" cy="269.7"/>
<circle cx="1571.5" cy="280.1"/>
<circle cx="1540.7" cy="351.3"/>
<circle cx="1649.3" cy="274.2"/>
<circle cx="1713.3" cy="246.9"/>
<circle cx="1529.0" cy="168.9"/>
<circle cx="1581.7" cy="207.3"/>
<circle cx="1588.6" cy="208.8"/>
<circle cx="1552.1" cy="292.5"/>
<circle cx="1539.2" cy="270.1"/>
<circle cx="1540.9" cy="229.7"/>
<circle cx="1486.2" cy="242.4"/>
<circle cx="1523.9" cy="273.9"/>
<circle cx="1557.2" cy="163.1"/>
<circle cx="1489.6" cy="139.5"/>
<circle cx="1507.4" cy="198.0"/>
<circle cx="1480.7" cy="338.9"/>
<circle cx="1588.9" cy="232.1"/>
<circle cx="1556.9" cy="307.1"/>
<circle cx="1669.9" cy="248.1"/>
<circle cx="1704.3" cy="294.9"/>
<circle cx="1548.3" cy="233.5"/>
<circle cx="1510.0" cy="224.3"/>
<circle cx="1517.7" cy="188.8"/>
<circle cx="1522.5" cy="229.9"/>
<circle cx="1532.7" cy="266.3"/>
<circle cx="1589.8" cy="218.7"/>
<circle cx="1611.7" cy="286.3"/>
<circle cx="1567.5" cy="207.2"/>
<circle cx="1516.9" cy="183.1"/>
<circle cx="1568.5" cy="288.7"/>
<circle cx="1567.8" cy="203.6"/>
<circle cx="1719.0" cy="213.9"/>
<circle cx="1567.4" cy="302.9"/>
<circle cx="1540.1" cy="235.8"/>
<circle cx="1675.3" cy="211.2"/>
<circle cx="1569.0" cy="284.6"/>
<circle cx="1489.6" cy="205.6"/>
<circle cx="1494.8" cy="228.1"/>
<circle cx="1483.6" cy="322.6"/>
<circle cx="1530.7" cy="170.9"/>
<circle cx="1481.6" cy="184.7"/>
<circle cx="1500.4" cy="274.6"/>
<circle cx="1476.4" cy="121.0"/>
<circle cx="1664.1" cy="255.3"/>
<circle cx="1874.6" cy="233.3"/>
<circle cx="1610.6" cy="309.4"/>
<circle cx="1538.9" cy="176.7"/>
<circle cx="1539.8" cy="244.7"/>
<circle cx="1596.1" cy="176.3"/>
<circle cx="1494.3" cy="243.9"/>
<circle cx="1520.7" cy="275.5"/>
<circle cx="1482.4" cy="204.5"/>
<circle cx="1501.5" cy="311.2"/>
<circle cx="1502.4" cy="283.1"/>
<circle cx="1502.8" cy="234.6"/>
<circle cx="1504.2" cy="116.3"/>
<circle cx="1552.9" cy="265.5"/>
<circle cx="1510.1" cy="233.2"/>
<circle cx="1538.5" cy="276.8"/>
<circle cx="1665.9" cy="221.8"/>
<circle cx="1509.3" cy="191.9"/>
<circle cx="1519.5" cy="200.2"/>
<circle cx="1563.2" cy="151.5"/>
<circle cx="1742.3" cy="279.5"/>
<circle cx="1480.5" cy="290.2"/>
<circle cx="1599.6" cy="207.0"/>
<circle cx="1573.4" cy="299.1"/>
<circle cx="1518.3" cy="174.7"/>
<circle cx="1631.7" cy="234.2"/>
<circle cx="1502.3" cy="334.2"/>
<circle cx="1569.8" cy="210.6"/>
<circle cx="1561.0" cy="298.3"/>
<circle cx="1485.6" cy="253.1"/>
<circle cx="1769.2" cy="269.0"/>
<circle cx="1616.6" cy="202.4"/>
<circle cx="1574.4" cy="218.9"/>
<circle cx="1530.0" cy="257.0"/>
<circle cx="1573.6" cy="185.2"/>
<circle cx="1490.9" cy="191.1"/>
<circle cx="1548.5" cy="207.0"/>
<circle cx="1649.7" cy="210.8"/>
<circle cx="1491.3" cy="212.5"/>
<circle cx="1500.0" cy="73.4"/>
<circle cx="1567.9" cy="295.1"/>
<circle cx="1490.9" cy="200.3"/>
<circle cx="1560.5" cy="209.2"/>
<circle cx="1485.5" cy="175.0"/>
<circle cx="1479.6" cy="82.0"/>
<circle cx="1535.7" cy="226.1"/>
<circle cx="1566.7" cy="230.6"/>
<circle cx="1488.3" cy="202.0"/>
<circle cx="1562.1" cy="227.6"/>
<circle cx="1491.5" cy="226.4"/>
<circle cx="1593.9" cy="268.9"/>
<circle cx="1544.5" cy="241.5"/>
<circle cx="1537.5" cy="266.6"/>
<circle cx="1578.0" cy="232.3"/>
<circle cx="1529.4" cy="195.4"/>
<circle cx="1527.4" cy="324.6"/>
<circle cx="1478.6" cy="235.7"/>
<circle cx="1590.0" cy="231.7"/>
<circle cx="1519.6" cy="258.6"/>
<circle cx="1543.5" cy="337.6"/>
<circle cx="1529.2" cy="165.3"/>
<circle cx="1595.8" cy="213.0"/>
<circle cx="1544.1" cy="175.8"/>
<circle cx="1489.3" cy="211.9"/>
<circle cx="1577.7" cy="347.4"/>
<circle cx="1492.1" cy="237.8"/>
<circle cx="1550.3" cy="227.3"/>
<circle cx="1548.3" cy="215.6"/>
<circle cx="1485.0" cy="187.3"/>
<circle cx="1509.8" cy="190.9"/>
<circle cx="1509.3" cy="211.7"/>
<circle cx="1601.6" cy="239.0"/>
<circle cx="1486.1" cy="246.8"/>
<circle cx="1565.4" cy="193.1"/>
<circle cx="1574.5" cy="171.4"/>
<circle cx="1498.6" cy="268.5"/>
<circle cx="1534.8" cy="204.6"/>
<circle cx="1569.8" cy="289.0"/>
<circle cx="1688.9" cy="217.1"/>
<circle cx="1552.9" cy="193.4"/>
<circle cx="1494.4" cy="115.8"/>
<circle cx="1504.6" cy="170.5"/>
<circle cx="1489.0" cy="247.8"/>
<circle cx="1572.6" cy="208.0"/>
<circle cx="1485.2" cy="157.7"/>
<circle cx="1561.8" cy="246.7"/>
<circle cx="1636.1" cy="264.5"/>
<circle cx="1536.5" cy="194.9"/>
<circle cx="1526.9" cy="240.8"/>
<circle cx="1482.7" cy="219.8"/>
<circle cx="1526.2" cy="254.8"/>
<circle cx="1606.4" cy="241.1"/>
<circle cx="1546.1" cy="214.0"/>
<circle cx="1603.1" cy="264.0"/>
<circle cx="1523.4" cy="141.8"/>
<circle cx="1489.3" cy="233.6"/>
<circle cx="1516.0" cy="226.1"/>
<circle cx="1492.2" cy="196.5"/>
<circle cx="1489.8" cy="194.1"/>
<circle cx="1478.4" cy="313.1"/>
<circle cx="1486.5" cy="235.8"/>
<circle cx="1532.6" cy="197.6"/>
<circle cx="1524.1" cy="267.7"/>
<circle cx="1490.6" cy="284.8"/>
<circle cx="1599.4" cy="279.9"/>
<circle cx="1620.8" cy="224.4"/>
<circle cx="1508.0" cy="139.2"/>
<circle cx="1552.7" cy="247.3"/>
<circle cx="1540.1" cy="284.7"/>
<circle cx="1517.7" cy="201.8"/>
<circle cx="1477.5" cy="205.6"/>
<circle cx="1484.6" cy="135.3"/>
<circle cx="1482.9" cy="250.9"/>
<circle cx="1508.9" cy="235.7"/>
<circle cx="1620.0" cy="242.2"/>
<circle cx="1485.1" cy="352.3"/>
<circle cx="1480.7" cy="324.4"/>
<circle cx="1774.2" cy="277.7"/>
<circle cx="1524.3" cy="331.5"/>
<circle cx="1585.7" cy="214.9"/>
<circle cx="1500.3" cy="248.5"/>
<circle cx="1592.0" cy="279.2"/>
<circle cx="1475.6" cy="150.7"/>
<circle cx="1478.2" cy="281.4"/>
<circle cx="1539.6" cy="214.6"/>
<circle cx="1697.4" cy="191.6"/>
<circle cx="1497.4" cy="238.6"/>
<circle cx="1573.0" cy="176.8"/>
<circle cx="1515.4" cy="332.6"/>
<circle cx="1538.5" cy="202.9"/>
<circle cx="1543.4" cy="248.1"/>
<circle cx="1501.0" cy="208.6"/>
<circle cx="1530.3" cy="179.6"/>
<circle cx="1486.4" cy="181.6"/>
<circle cx="1766.3" cy="216.5"/>
<circle cx="1693.1" cy="228.6"/>
<circle cx="1515.1" cy="236.1"/>
<circle cx="1498.4" cy="208.5"/>
<circle cx="1486.0" cy="104.8"/>
<circle cx="1602.5" cy="249.4"/>
<circle cx="1601.3" cy="153.6"/>
<circle cx="1547.6" cy="193.2"/>
<circle cx="1703.5" cy="226.4"/>
<circle cx="1502.4" cy="227.6"/>
<circle cx="1478.4" cy="210.2"/>
<circle cx="1572.8" cy="252.6"/>
<circle cx="1501.9" cy="209.5"/>
<circle cx="1507.9" cy="317.3"/>
<circle cx="1563.3" cy="337.1"/>
<circle cx="1543.1" cy="193.2"/>
<circle cx="1559.4" cy="211.5"/>
<circle cx="1486.7" cy="208.1"/>
<circle cx="1570.6" cy="228.5"/>
<circle cx="1487.7" cy="255.1"/>
<circle cx="1524.2" cy="339.1"/>
<circle cx="1539.4" cy="183.1"/>
<circle cx="1604.5" cy="268.6"/>
<circle cx="1529.9" cy="201.1"/>
<circle cx="1540.6" cy="290.7"/>
<circle cx="1662.6" cy="221.4"/>
<circle cx="1568.2" cy="286.4"/>
<circle cx="1497.7" cy="283.8"/>
<circle cx="1569.2" cy="182.0"/>
<circle cx="1505.7" cy="237.6"/>
<circle cx="1581.7" cy="217.4"/>
<circle cx="1489.6" cy="196.8"/>
<circle cx="1786.2" cy="210.0"/>
<circle cx="1499.9" cy="206.4"/>
<circle cx="1576.1" cy="242.6"/>
<circle cx="1501.0" cy="245.6"/>
<circle cx="1517.0" cy="246.9"/>
<circle cx="1541.1" cy="204.0"/>
<circle cx="1482.6" cy="343.9"/>
<circle cx="1480.3" cy="215.4"/>
<circle cx="1481.6" cy="135.9"/>
<circle cx="1499.1" cy="268.9"/>
<circle cx="1552.6" cy="224.6"/>
<circle cx="1598.1" cy="246.0"/>
<circle cx="1476.7" cy="348.2"/>
<circle cx="1619.4" cy="186.1"/>
<circle cx="1615.3" cy="208.0"/>
<circle cx="1483.8" cy="248.8"/>
<circle cx="1533.8" cy="189.1"/>
<circle cx="1528.6" cy="333.7"/>
<circle cx="1545.0" cy="204.6"/>
<circle cx="1541.1" cy="173.0"/>
<circle cx="1520.0" cy="191.3"/>
<circle cx="1532.6" cy="253.2"/>
<circle cx="1505.1" cy="220.7"/>
<circle cx="1500.0" cy="198.9"/>
<circle cx="1600.7" cy="327.6"/>
<circle cx="1480.9" cy="202.8"/>
<circle cx="1583.8" cy="322.3"/>
<circle cx="1538.0" cy="311.3"/>
<circle cx="1568.6" cy="241.3"/>
<circle cx="1481.7" cy="135.2"/>
<circle cx="1548.8" cy="261.5"/>
<circle cx="1586.3" cy="208.8"/>
<circle cx="1659.3" cy="205.3"/>
<circle cx="1577.4" cy="192.0"/>
<circle cx="1487.2" cy="237.9"/>
<circle cx="1580.8" cy="243.8"/>
<circle cx="1582.8" cy="211.8"/>
<circle cx="1502.2" cy="194.4"/>
<circle cx="1509.1" cy="249.9"/>
<circle cx="1533.8" cy="185.2"/>
<circle cx="1527.3" cy="261.9"/>
<circle cx="1492.3" cy="125.9"/>
<circle cx="1514.4" cy="194.4"/>
<circle cx="1736.6" cy="242.3"/>
<circle cx="1629.7" cy="201.0"/>
<circle cx="1547.1" cy="296.7"/>
<circle cx="1508.4" cy="215.4"/>
<circle cx="1519.8" cy="187.6"/>
<circle cx="1478.6" cy="207.3"/>
<circle cx="1485.2" cy="252.0"/>
<circle cx="1476.6" cy="187.3"/>
<circle cx="1485.4" cy="263.9"/>
<circle cx="1510.9" cy="236.2"/>
<circle cx="1495.7" cy="258.0"/>
<circle cx="1494.2" cy="256.4"/>
<circle cx="1621.0" cy="190.1"/>
<circle cx="1695.6" cy="225.9"/>
<circle cx="1539.6" cy="234.3"/>
<circle cx="1519.7" cy="284.9"/>
<circle cx="1663.7" cy="217.4"/>
<circle cx="1531.3" cy="280.4"/>
<circle cx="1489.8" cy="278.8"/>
<circle cx="1542.8" cy="190.0"/>
<circle cx="1554.2" cy="269.2"/>
<circle cx="1584.3" cy="216.2"/>
<circle cx="1503.9" cy="257.2"/>
<circle cx="1536.9" cy="177.1"/>
<circle cx="1513.0" cy="294.2"/>
<circle cx="1532.6" cy="145.1"/>
<circle cx="1555.4" cy="240.0"/>
<circle cx="1587.4" cy="305.9"/>
<circle cx="1660.7" cy="213.4"/>
<circle cx="1626.4" cy="229.3"/>
<circle cx="1500.4" cy="195.8"/>
<circle cx="1498.3" cy="200.0"/>
<circle cx="1715.1" cy="222.3"/>
<circle cx="1508.4" cy="255.2"/>
<circle cx="1540.0" cy="291.3"/>
<circle cx="1736.4" cy="254.3"/>
<circle cx="1516.5" cy="170.8"/>
<circle cx="1496.3" cy="238.9"/>
<circle cx="1524.7" cy="205.8"/>
<circle cx="1559.4" cy="165.9"/>
<circle cx="1477.4" cy="168.8"/>
<circle cx="1495.1" cy="146.9"/>
<circle cx="1532.5" cy="239.6"/>
<circle cx="1692.5" cy="248.1"/>
<circle cx="1485.9" cy="288.6"/>
<circle cx="1623.2" cy="176.2"/>
<circle cx="1498.6" cy="179.4"/>
<circle cx="1544.2" cy="195.5"/>
<circle cx="1530.5" cy="196.0"/>
<circle cx="1486.1" cy="271.3"/>
<circle cx="1535.2" cy="259.5"/>
<circle cx="1579.1" cy="197.3"/>
<circle cx="1538.6" cy="199.2"/>
<circle cx="1553.9" cy="287.8"/>
<circle cx="1482.5" cy="311.2"/>
<circle cx="1479.7" cy="198.6"/>
<circle cx="1516.2" cy="197.0"/>
<circle cx="1528.9" cy="190.2"/>
<circle cx="1499.6" cy="252.7"/>
<circle cx="1579.2" cy="241.6"/>
<circle cx="1535.1" cy="300.5"/>
<circle cx="1487.7" cy="170.0"/>
<circle cx="1504.7" cy="202.7"/>
<circle cx="1530.1" cy="241.8"/>
<circle cx="1616.4" cy="308.1"/>
<circle cx="1583.5" cy="229.3"/>
<circle cx="1497.3" cy="271.9"/>
<circle cx="1486.4" cy="185.1"/>
<circle cx="1576.1" cy="204.7"/>
<circle cx="1539.7" cy="290.5"/>
<circle cx="1498.2" cy="228.6"/>
<circle cx="1519.7" cy="245.2"/>
<circle cx="1479.5" cy="123.0"/>
<circle cx="1503.9" cy="125.0"/>
<circle cx="1608.7" cy="225.1"/>
<circle cx="1503.0" cy="143.6"/>
<circle cx="1518.1" cy="200.2"/>
<circle cx="1483.0" cy="222.2"/>
<circle cx="1681.5" cy="211.9"/>
<circle cx="1698.4" cy="211.8"/>
<circle cx="1705.2" cy="219.7"/>
<circle cx="1480.2" cy="207.3"/>
<circle cx="1481.0" cy="180.2"/>
<circle cx="1505.7" cy="212.9"/>
<circle cx="1514.5" cy="238.7"/>
<circle cx="1508.9" cy="276.7"/>
<circle cx="1584.7" cy="195.7"/>
<circle cx="1542.5" cy="215.9"/>
<circle cx="1562.8" cy="218.2"/>
<circle cx="1539.2" cy="169.5"/>
<circle cx="1483.6" cy="186.6"/>
<circle cx="1534.8" cy="280.3"/>
<circle cx="1516.3" cy="217.5"/>
<circle cx="1532.5" cy="187.0"/>
<circle cx="1480.6" cy="204.3"/>
<circle cx="1529.4" cy="239.3"/>
<circle cx="1656.8" cy="215.8"/>
<circle cx="1526.6" cy="202.8"/>
<circle cx="1484.1" cy="174.3"/>
<circle cx="1608.9" cy="236.2"/>
<circle cx="1484.5" cy="128.1"/>
<circle cx="1486.1" cy="241.7"/>
<circle cx="1490.4" cy="140.5"/>
<circle cx="1481.5" cy="128.5"/>
<circle cx="1643.8" cy="273.9"/>
<circle cx="1629.9" cy="259.2"/>
<circle cx="1632.8" cy="239.6"/>
<circle cx="1641.8" cy="224.7"/>
<circle cx="1587.6" cy="214.4"/>
<circle cx="1492.1" cy="293.9"/>
<circle cx="1692.0" cy="199.4"/>
<circle cx="1726.6" cy="209.7"/>
<circle cx="1527.8" cy="241.1"/>
<circle cx="1566.6" cy="191.1"/>
<circle cx="1544.4" cy="244.8"/>
<circle cx="1648.4" cy="247.8"/>
<circle cx="1733.2" cy="186.9"/>
<circle cx="1562.3" cy="225.0"/>
<circle cx="1486.7" cy="171.5"/>
<circle cx="1540.5" cy="305.4"/>
<circle cx="1486.4" cy="175.4"/>
<circle cx="1507.3" cy="201.7"/>
<circle cx="1597.8" cy="159.0"/>
<circle cx="1531.5" cy="171.8"/>
<circle cx="1487.2" cy="159.3"/>
<circle cx="1617.7" cy="280.2"/>
<circle cx="1490.0" cy="255.2"/>
<circle cx="1537.4" cy="206.1"/>
<circle cx="1500.7" cy="68.2"/>
<circle cx="1479.8" cy="277.4"/>
<circle cx="1494.3" cy="292.5"/>
<circle cx="1477.8" cy="261.9"/>
<circle cx="1483.1" cy="213.8"/>
<circle cx="1569.5" cy="182.1"/>
<circle cx="1479.1" cy="219.3"/>
<circle cx="1518.5" cy="212.2"/>
<circle cx="1490.0" cy="219.9"/>
<circle cx="1661.7" cy="196.9"/>
<circle cx="1495.7" cy="272.8"/>
<circle cx="1484.9" cy="241.5"/>
<circle cx="1479.2" cy="232.7"/>
<circle cx="1624.0" cy="217.2"/>
<circle cx="1544.3" cy="213.1"/>
<circle cx="1581.0" cy="207.4"/>
<circle cx="1577.1" cy="213.1"/>
<circle cx="1543.7" cy="306.4"/>
<circle cx="1527.8" cy="217.8"/>
<circle cx="1603.9" cy="207.0"/>
<circle cx="1536.0" cy="216.6"/>
<circle cx="1615.5" cy="305.5"/>
<circle cx="1592.0" cy="279.5"/>
<circle cx="1479.6" cy="185.2"/>
<circle cx="1541.7" cy="238.0"/>
<circle cx="1479.0" cy="321.3"/>
<circle cx="1498.0" cy="171.7"/>
<circle cx="1585.4" cy="220.2"/>
<circle cx="1772.6" cy="232.3"/>
<circle cx="1501.7" cy="261.5"/>
<circle cx="1480.1" cy="242.9"/>
<circle cx="1544.6" cy="217.1"/>
<circle cx="1502.0" cy="168.1"/>
<circle cx="1599.6" cy="219.2"/>
<circle cx="1559.1" cy="229.2"/>
<circle cx="1756.7" cy="231.2"/>
<circle cx="1524.5" cy="251.2"/>
<circle cx="1554.3" cy="204.3"/>
<circle cx="1476.5" cy="293.1"/>
<circle cx="1520.2" cy="164.2"/>
<circle cx="1510.1" cy="210.4"/>
<circle cx="1506.2" cy="292.6"/>
<circle cx="1538.0" cy="202.2"/>
<circle cx="1579.7" cy="259.5"/>
<circle cx="1515.5" cy="245.5"/>
<circle cx="1498.0" cy="100.2"/>
<circle cx="1672.8" cy="242.7"/>
<circle cx="1511.0" cy="214.6"/>
<circle cx="1480.4" cy="179.2"/>
<circle cx="1494.7" cy="308.2"/>
<circle cx="1494.5" cy="274.7"/>
<circle cx="1479.8" cy="96.2"/>
<circle cx="1569.6" cy="194.5"/>
<circle cx="1487.5" cy="218.3"/>
<circle cx="1479.4" cy="158.7"/>
<circle cx="1560.6" cy="164.7"/>
<circle cx="1558.9" cy="214.1"/>
<circle cx="1478.3" cy="192.4"/>
<circle cx="1546.4" cy="306.9"/>
<circle cx="1634.9" cy="245.6"/>
<circle cx="1550.6" cy="231.5"/>
<circle cx="1535.4" cy="195.9"/>
<circle cx="1499.0" cy="177.8"/>
<circle cx="1524.4" cy="222.3"/>
<circle cx="1624.1" cy="213.7"/>
<circle cx="1510.2" cy="280.3"/>
<circle cx="1631.8" cy="268.3"/>
<circle cx="1522.5" cy="196.7"/>
<circle cx="1479.5" cy="337.2"/>
<circle cx="1504.7" cy="193.0"/>
<circle cx="1551.7" cy="327.0"/>
<circle cx="1516.1" cy="301.6"/>
<circle cx="1643.9" cy="251.9"/>
<circle cx="1521.2" cy="135.7"/>
<circle cx="1512.5" cy="183.6"/>
<circle cx="1490.6" cy="220.9"/>
<circle cx="1613.6" cy="190.0"/>
<circle cx="1540.7" cy="195.7"/>
<circle cx="1512.5" cy="215.5"/>
<circle cx="1523.0" cy="199.6"/>
<circle cx="1484.2" cy="218.8"/>
<circle cx="1745.7" cy="238.5"/>
<circle cx="1508.6" cy="229.2"/>
<circle cx="1620.8" cy="232.6"/>
<circle cx="1502.5" cy="209.6"/>
<circle cx="1591.4" cy="243.7"/>
<circle cx="1545.4" cy="265.9"/>
<circle cx="1603.7" cy="193.0"/>
<circle cx="1574.0" cy="289.2"/>
<circle cx="1485.8" cy="223.9"/>
<circle cx="1574.0" cy="181.6"/>
<circle cx="1492.3" cy="222.7"/>
<circle cx="1507.4" cy="215.0"/>
<circle cx="1517.3" cy="173.6"/>
<circle cx="1506.7" cy="249.1"/>
<circle cx="1559.4" cy="174.5"/>
<circle cx="1516.7" cy="140.6"/>
<circle cx="1498.3" cy="182.4"/>
<circle cx="1556.1" cy="199.5"/>
<circle cx="1480.5" cy="242.8"/>
<circle cx="1506.0" cy="248.7"/>
<circle cx="1564.2" cy="252.7"/>
<circle cx="1549.7" cy="177.8"/>
<circle cx="1489.3" cy="152.4"/>
<circle cx="1494.7" cy="109.6"/>
<circle cx="1631.3" cy="272.9"/>
<circle cx="1569.3" cy="287.3"/>
<circle cx="1628.5" cy="275.3"/>
<circle cx="1647.7" cy="251.6"/>
<circle cx="1703.3" cy="202.4"/>
<circle cx="1495.9" cy="215.6"/>
<circle cx="1620.6" cy="285.8"/>
<circle cx="1485.1" cy="145.1"/>
<circle cx="1481.7" cy="299.9"/>
<circle cx="1584.7" cy="257.0"/>
<circle cx="1531.5" cy="197.3"/>
<circle cx="1549.7" cy="182.6"/>
<circle cx="1483.4" cy="405.9"/>
<circle cx="1497.2" cy="146.6"/>
<circle cx="1537.8" cy="185.2"/>
<circle cx="1579.6" cy="195.0"/>
<circle cx="1496.2" cy="201.4"/>
<circle cx="1557.0" cy="216.4"/>
<circle cx="1490.9" cy="353.0"/>
<circle cx="1492.8" cy="213.7"/>
<circle cx="1553.0" cy="245.7"/>
<circle cx="1552.5" cy="202.5"/>
<circle cx="1599.7" cy="274.2"/>
<circle cx="1516.7" cy="247.5"/>
<circle cx="1735.2" cy="197.0"/>
<circle cx="1610.6" cy="247.3"/>
<circle cx="1671.2" cy="205.2"/>
<circle cx="1483.1" cy="262.6"/>
<circle cx="1592.8" cy="208.8"/>
<circle cx="1537.5" cy="273.5"/>
<circle cx="1702.6" cy="256.4"/>
<circle cx="1483.0" cy="192.2"/>
<circle cx="1658.6" cy="263.6"/>
<circle cx="1484.9" cy="254.1"/>
<circle cx="1490.7" cy="148.7"/>
<circle cx="1488.3" cy="203.4"/>
<circle cx="1475.7" cy="260.0"/>
<circle cx="1486.1" cy="341.9"/>
<circle cx="1536.5" cy="298.4"/>
<circle cx="1492.4" cy="196.5"/>
<circle cx="1613.4" cy="226.0"/>
<circle cx="1589.8" cy="247.9"/>
<circle cx="1597.9" cy="251.3"/>
<circle cx="1505.0" cy="214.6"/>
<circle cx="1584.8" cy="197.5"/>
<circle cx="1534.6" cy="125.4"/>
<circle cx="1484.2" cy="215.8"/>
<circle cx="1514.9" cy="231.0"/>
<circle cx="1497.0" cy="224.6"/>
<circle cx="1630.9" cy="242.5"/>
<circle cx="1540.9" cy="192.1"/>
<circle cx="1683.8" cy="229.1"/>
<circle cx="1487.5" cy="223.9"/>
<circle cx="1567.9" cy="296.8"/>
<circle cx="1483.5" cy="231.0"/>
<circle cx="1596.7" cy="218.1"/>
<circle cx="1576.0" cy="207.9"/>
<circle cx="1572.1" cy="185.5"/>
<circle cx="1835.0" cy="239.3"/>
<circle cx="1599.7" cy="209.4"/>
<circle cx="1486.0" cy="172.4"/>
<circle cx="1538.4" cy="199.0"/>
<circle cx="1489.3" cy="225.1"/>
<circle cx="1521.8" cy="125.6"/>
<circle cx="1653.5" cy="219.5"/>
<circle cx="1496.6" cy="237.8"/>
<circle cx="1534.2" cy="220.4"/>
<circle cx="1606.3" cy="228.5"/>
<circle cx="1568.3" cy="235.8"/>
<circle cx="1531.5" cy="275.9"/>
<circle cx="1524.7" cy="158.2"/>
<circle cx="1525.4" cy="254.2"/>
<circle cx="1483.2" cy="184.0"/>
<circle cx="1515.5" cy="315.4"/>
<circle cx="1572.2" cy="224.0"/>
<circle cx="1483.5" cy="270.2"/>
<circle cx="1496.1" cy="311.0"/>
<circle cx="1753.8" cy="209.5"/>
<circle cx="1515.4" cy="231.0"/>
<circle cx="1557.7" cy="159.7"/>
<circle cx="1541.5" cy="184.7"/>
<circle cx="1486.1" cy="233.6"/>
<circle cx="1514.8" cy="219.5"/>
<circle cx="1573.0" cy="179.5"/>
<circle cx="1490.8" cy="284.2"/>
<circle cx="1550.0" cy="188.2"/>
<circle cx="1558.7" cy="205.6"/>
<circle cx="1512.9" cy="167.5"/>
<circle cx="1494.3" cy="225.9"/>
<circle cx="1528.2" cy="253.6"/>
<circle cx="1515.7" cy="277.3"/>
<circle cx="1617.8" cy="256.7"/>
<circle cx="1522.1" cy="200.7"/>
<circle cx="1555.2" cy="223.6"/>
<circle cx="1494.7" cy="274.1"/>
<circle cx="1487.4" cy="272.3"/>
<circle cx="1477.8" cy="196.5"/>
<circle cx="1498.8" cy="241.7"/>
<circle cx="1510.5" cy="267.8"/>
<circle cx="1497.9" cy="186.5"/>
<circle cx="1558.5" cy="155.0"/>
<circle cx="1488.6" cy="153.1"/>
<circle cx="1544.6" cy="214.2"/>
<circle cx="1530.9" cy="172.4"/>
<circle cx="1602.8" cy="261.3"/>
<circle cx="1501.9" cy="162.1"/>
<circle cx="1519.0" cy="254.9"/>
<circle cx="1483.6" cy="242.0"/>
<circle cx="1598.6" cy="257.9"/>
<circle cx="1496.7" cy="269.5"/>
<circle cx="1597.4" cy="220.6"/>
<circle cx="1570.3" cy="244.2"/>
<circle cx="1534.2" cy="242.7"/>
<circle cx="1505.6" cy="202.4"/>
<circle cx="1528.3" cy="290.2"/>
<circle cx="1574.6" cy="216.5"/>
<circle cx="1559.5" cy="227.1"/>
<circle cx="1552.5" cy="275.0"/>
<circle cx="1573.8" cy="361.8"/>
<circle cx="1528.6" cy="284.4"/>
<circle cx="1492.7" cy="178.1"/>
<circle cx="1544.1" cy="305.4"/>
<circle cx="1489.0" cy="164.2"/>
<circle cx="1627.0" cy="252.6"/>
<circle cx="1554.5" cy="301.3"/>
<circle cx="1683.3" cy="281.3"/>
<circle cx="1492.2" cy="179.5"/>
<circle cx="1643.5" cy="225.8"/>
<circle cx="1688.6" cy="244.4"/>
<circle cx="1535.4" cy="169.8"/>
<circle cx="1868.5" cy="217.5"/>
<circle cx="1513.9" cy="182.7"/>
<circle cx="1500.0" cy="155.0"/>
<circle cx="1476.7" cy="202.6"/>
<circle cx="1505.2" cy="175.5"/>
<circle cx="1536.2" cy="154.7"/>
<circle cx="1489.0" cy="164.4"/>
<circle cx="1530.9" cy="254.8"/>
<circle cx="1639.8" cy="211.2"/>
<circle cx="1579.6" cy="231.2"/>
<circle cx="1510.6" cy="266.7"/>
<circle cx="1518.2" cy="201.7"/>
<circle cx="1509.6" cy="183.0"/>
<circle cx="1531.1" cy="132.9"/>
<circle cx="1574.1" cy="207.1"/>
<circle cx="1519.5" cy="237.1"/>
<circle cx="1530.8" cy="172.1"/>
<circle cx="1543.5" cy="268.6"/>
<circle cx="1587.3" cy="206.9"/>
<circle cx="1508.3" cy="206.2"/>
<circle cx="1595.9" cy="252.6"/>
<circle cx="1515.4" cy="184.6"/>
<circle cx="1526.2" cy="210.4"/>
<circle cx="1478.7" cy="314.2"/>
<circle cx="1588.0" cy="266.3"/>
<circle cx="1533.3" cy="285.0"/>
<circle cx="1496.9" cy="140.2"/>
<circle cx="1597.1" cy="207.7"/>
<circle cx="1581.7" cy="247.1"/>
<circle cx="1677.5" cy="255.1"/>
<circle cx="1540.1" cy="259.3"/>
<circle cx="1517.9" cy="222.2"/>
<circle cx="1482.6" cy="224.5"/>
<circle cx="1504.9" cy="252.6"/>
<circle cx="1563.3" cy="253.1"/>
<circle cx="1894.1" cy="238.3"/>
<circle cx="1498.9" cy="224.1"/>
<circle cx="1671.2" cy="215.4"/>
<circle cx="1479.4" cy="189.3"/>
<circle cx="1498.2" cy="190.0"/>
<circle cx="1516.4" cy="234.8"/>
<circle cx="1682.5" cy="237.7"/>
<circle cx="1481.7" cy="203.1"/>
<circle cx="1486.3" cy="194.2"/>
<circle cx="1536.2" cy="227.6"/>
<circle cx="1589.1" cy="209.4"/>
<circle cx="1610.6" cy="171.3"/>
<circle cx="1532.0" cy="204.6"/>
<circle cx="1494.2" cy="180.5"/>
<circle cx="1479.0" cy="157.2"/>
<circle cx="1616.7" cy="199.6"/>
<circle cx="1509.6" cy="192.0"/>
<circle cx="1661.7" cy="221.0"/>
<circle cx="1602.8" cy="196.5"/>
<circle cx="1553.8" cy="205.5"/>
<circle cx="1638.1" cy="267.7"/>
<circle cx="1533.4" cy="305.9"/>
<circle cx="1507.9" cy="112.0"/>
<circle cx="1497.6" cy="206.9"/>
<circle cx="1642.3" cy="209.6"/>
<circle cx="1497.3" cy="85.0"/>
<circle cx="1710.2" cy="201.6"/>
<circle cx="1531.7" cy="262.2"/>
<circle cx="1508.7" cy="162.0"/>
<circle cx="1540.9" cy="322.0"/>
<circle cx="1540.0" cy="252.9"/>
<circle cx="1560.3" cy="250.9"/>
<circle cx="1477.8" cy="261.3"/>
<circle cx="1507.0" cy="177.6"/>
<circle cx="1565.4" cy="222.0"/>
<circle cx="1662.6" cy="243.9"/>
<circle cx="1740.2" cy="211.8"/>
<circle cx="1607.2" cy="203.6"/>
<circle cx="1540.4" cy="194.8"/>
<circle cx="1576.6" cy="341.3"/>
<circle cx="1559.1" cy="187.2"/>
<circle cx="1533.4" cy="270.2"/>
<circle cx="1572.5" cy="198.8"/>
<circle cx="1551.2" cy="231.1"/>
<circle cx="1675.7" cy="204.9"/>
<circle cx="1596.0" cy="237.7"/>
<circle cx="1499.5" cy="224.3"/>
<circle cx="1508.1" cy="184.0"/>
<circle cx="1488.2" cy="153.5"/>
<circle cx="1507.9" cy="160.0"/>
<circle cx="1874.9" cy="231.7"/>
<circle cx="1484.0" cy="196.7"/>
<circle cx="1610.2" cy="301.5"/>
<circle cx="1499.5" cy="313.6"/>
<circle cx="1525.0" cy="169.6"/>
<circle cx="1490.9" cy="213.4"/>
<circle cx="1641.1" cy="237.8"/>
<circle cx="1524.2" cy="220.8"/>
<circle cx="1574.8" cy="312.8"/>
<circle cx="1500.5" cy="195.7"/>
<circle cx="1518.3" cy="271.5"/>
<circle cx="1657.5" cy="198.4"/>
<circle cx="1477.5" cy="129.4"/>
<circle cx="1510.4" cy="290.0"/>
<circle cx="1511.5" cy="195.7"/>
<circle cx="1481.9" cy="129.7"/>
<circle cx="1608.6" cy="221.3"/>
<circle cx="1488.7" cy="207.3"/>
<circle cx="1574.0" cy="165.9"/>
<circle cx="1550.7" cy="203.1"/>
<circle cx="1495.0" cy="215.8"/>
<circle cx="1710.7" cy="230.6"/>
<circle cx="1543.2" cy="298.4"/>
<circle cx="1542.3" cy="260.1"/>
<circle cx="1545.1" cy="225.7"/>
<circle cx="1591.9" cy="229.3"/>
<circle cx="1482.9" cy="304.2"/>
<circle cx="1605.4" cy="220.6"/>
<circle cx="1566.0" cy="162.8"/>
<circle cx="1561.6" cy="165.7"/>
<circle cx="1576.6" cy="252.2"/>
<circle cx="1558.1" cy="223.4"/>
<circle cx="1559.0" cy="279.2"/>
<circle cx="1603.9" cy="292.5"/>
<circle cx="1648.2" cy="239.7"/>
<circle cx="1562.2" cy="171.8"/>
<circle cx="1501.6" cy="291.2"/>
<circle cx="1476.9" cy="345.1"/>
<circle cx="1532.6" cy="239.2"/>
<circle cx="1530.3" cy="340.2"/>
<circle cx="1483.5" cy="243.1"/>
<circle cx="1626.7" cy="214.9"/>
<circle cx="1674.9" cy="227.7"/>
<circle cx="1485.3" cy="248.6"/>
<circle cx="1634.2" cy="203.6"/>
<circle cx="1531.2" cy="236.5"/>
<circle cx="1481.3" cy="174.2"/>
<circle cx="1533.0" cy="194.9"/>
<circle cx="1598.1" cy="215.0"/>
<circle cx="1502.1" cy="178.6"/>
<circle cx="1561.0" cy="231.7"/>
<circle cx="1477.3" cy="262.4"/>
<circle cx="1509.6" cy="201.0"/>
<circle cx="1672.9" cy="260.7"/>
<circle cx="1506.3" cy="221.7"/>
<circle cx="1629.0" cy="298.3"/>
<circle cx="1626.0" cy="242.1"/>
<circle cx="1480.8" cy="103.4"/>
<circle cx="1546.2" cy="135.0"/>
<circle cx="1530.4" cy="222.5"/>
<circle cx="1522.3" cy="161.5"/>
<circle cx="1686.5" cy="252.2"/>
<circle cx="1522.4" cy="236.0"/>
<circle cx="1476.1" cy="136.3"/>
<circle cx="1547.8" cy="216.6"/>
<circle cx="1481.8" cy="130.2"/>
<circle cx="1556.7" cy="204.7"/>
<circle cx="1494.8" cy="224.4"/>
<circle cx="1628.3" cy="238.2"/>
<circle cx="1699.8" cy="281.9"/>
<circle cx="1552.3" cy="258.5"/>
<circle cx="1526.7" cy="289.2"/>
<circle cx="1588.7" cy="248.0"/>
<circle cx="1494.5" cy="204.9"/>
<circle cx="1674.4" cy="206.5"/>
<circle cx="1559.2" cy="225.4"/>
<circle cx="1491.1" cy="194.1"/>
<circle cx="1528.2" cy="168.3"/>
<circle cx="1527.2" cy="211.0"/>
<circle cx="1532.6" cy="237.7"/>
<circle cx="1682.0" cy="229.5"/>
<circle cx="1493.0" cy="205.7"/>
<circle cx="1493.9" cy="136.5"/>
<circle cx="1782.0" cy="218.3"/>
<circle cx="1497.1" cy="227.5"/>
<circle cx="1534.9" cy="147.6"/>
<circle cx="1549.2" cy="361.5"/>
<circle cx="1482.7" cy="382.8"/>
<circle cx="1477.7" cy="394.1"/>
<circle cx="1483.8" cy="408.7"/>
<circle cx="1485.6" cy="410.6"/>
<circle cx="1490.3" cy="423.3"/>
<circle cx="1485.2" cy="357.9"/>
<circle cx="1485.0" cy="437.6"/>
<circle cx="1477.7" cy="411.9"/>
<circle cx="1476.2" cy="367.8"/>
<circle cx="1481.5" cy="402.0"/>
<circle cx="1485.1" cy="387.6"/>
<circle cx="1485.7" cy="408.4"/>
<circle cx="1485.5" cy="344.7"/>
<circle cx="1475.8" cy="413.8"/>
<circle cx="1488.4" cy="375.8"/>
<circle cx="1482.3" cy="395.7"/>
<circle cx="1490.0" cy="399.1"/>
<circle cx="1486.4" cy="375.5"/>
<circle cx="1491.1" cy="410.3"/>
<circle cx="1492.0" cy="369.5"/>
<circle cx="1483.3" cy="346.8"/>
<circle cx="1484.5" cy="398.7"/>
</g>
<line x1="1451.5" y1="201.6" x2="2013.0" y2="201.6" stroke="#433d88" stroke-width="6" stroke-dasharray="5.9 9.695" clip-path="url(#cc)"/>
<path d="M1946.2 189.9 L1889.4 189.9 L1863.8 183.0 L1695.5 119.5 L1681.8 114.0 L1665.0 114.0 L1663.0 96.0 L1530.0 88.3 L1501.0 59.0 L1489.0 59.0" fill="none" stroke="#25838d" stroke-width="11.8" stroke-dasharray="43.7 18.9 43.7 18.9 43.7 18.9 43.7 18.9 43.7 18.9 47.4 18.9 43.7 18.9 43.7 18.9 43.7 18.9" stroke-linejoin="round"/>
<path d="M1485 53.1 V64.9 H1479.1 A5.9 5.9 0 0 1 1479.1 53.1 Z" fill="#25838d"/>
<path d="M1637.3 77.0 L1675.3 115.0 M1637.3 115.0 L1675.3 77.0" stroke="#ff0000" stroke-width="4.2" fill="none"/>
<rect x="1622" y="338" width="370" height="100" fill="#fff"/>
<path d="M1636.5 348.4 H1715" stroke="#25838d" stroke-width="11.8" stroke-dasharray="43.4 19" fill="none"/>
<path d="M1679.9 342.5 L1682 348.4 L1679.9 354.3 Z" fill="#25838d"/>
<path d="M1636.4 403.9 H1715" stroke="#433d88" stroke-width="6" stroke-dasharray="5.9 9.695" fill="none"/>
<text x="1746" y="361.5" class="t">Pareto frontier</text>
<text x="1746" y="417.6" class="t">Random</text>
<path d="M148.00 35.80 V461.50 H704.80" fill="none" stroke="#000" stroke-width="3.0" stroke-linecap="square"/>
<path d="M760.00 35.80 V461.50 H1317.00" fill="none" stroke="#000" stroke-width="3.0" stroke-linecap="square"/>
<path d="M1452.00 35.80 V461.50 H2013.00" fill="none" stroke="#000" stroke-width="3.0" stroke-linecap="square"/>
<line x1="170.50" y1="461.50" x2="170.50" y2="475.30" stroke="#000" stroke-width="3.0"/>
<text x="170.50" y="514.5" text-anchor="middle" class="t">0.0</text>
<line x1="246.72" y1="461.50" x2="246.72" y2="475.30" stroke="#000" stroke-width="3.0"/>
<text x="246.72" y="514.5" text-anchor="middle" class="t">0.1</text>
<line x1="322.94" y1="461.50" x2="322.94" y2="475.30" stroke="#000" stroke-width="3.0"/>
<text x="322.94" y="514.5" text-anchor="middle" class="t">0.2</text>
<line x1="399.16" y1="461.50" x2="399.16" y2="475.30" stroke="#000" stroke-width="3.0"/>
<text x="399.16" y="514.5" text-anchor="middle" class="t">0.3</text>
<line x1="475.38" y1="461.50" x2="475.38" y2="475.30" stroke="#000" stroke-width="3.0"/>
<text x="475.38" y="514.5" text-anchor="middle" class="t">0.4</text>
<line x1="551.60" y1="461.50" x2="551.60" y2="475.30" stroke="#000" stroke-width="3.0"/>
<text x="551.60" y="514.5" text-anchor="middle" class="t">0.5</text>
<line x1="627.82" y1="461.50" x2="627.82" y2="475.30" stroke="#000" stroke-width="3.0"/>
<text x="627.82" y="514.5" text-anchor="middle" class="t">0.6</text>
<line x1="134.20" y1="369.50" x2="148.00" y2="369.50" stroke="#000" stroke-width="3.0"/>
<text x="120.40" y="382.70" text-anchor="end" class="t">0.6</text>
<line x1="134.20" y1="202.75" x2="148.00" y2="202.75" stroke="#000" stroke-width="3.0"/>
<text x="120.40" y="215.95" text-anchor="end" class="t">0.8</text>
<line x1="134.20" y1="36.00" x2="148.00" y2="36.00" stroke="#000" stroke-width="3.0"/>
<text x="120.40" y="50.20" text-anchor="end" class="t">1.0</text>
<line x1="786.20" y1="461.50" x2="786.20" y2="475.30" stroke="#000" stroke-width="3.0"/>
<text x="786.20" y="514.5" text-anchor="middle" class="t">0.0</text>
<line x1="918.60" y1="461.50" x2="918.60" y2="475.30" stroke="#000" stroke-width="3.0"/>
<text x="918.60" y="514.5" text-anchor="middle" class="t">0.1</text>
<line x1="1051.00" y1="461.50" x2="1051.00" y2="475.30" stroke="#000" stroke-width="3.0"/>
<text x="1051.00" y="514.5" text-anchor="middle" class="t">0.2</text>
<line x1="1183.40" y1="461.50" x2="1183.40" y2="475.30" stroke="#000" stroke-width="3.0"/>
<text x="1183.40" y="514.5" text-anchor="middle" class="t">0.3</text>
<line x1="1315.80" y1="461.50" x2="1315.80" y2="475.30" stroke="#000" stroke-width="3.0"/>
<text x="1315.80" y="514.5" text-anchor="middle" class="t">0.4</text>
<line x1="1475.30" y1="461.50" x2="1475.30" y2="475.30" stroke="#000" stroke-width="3.0"/>
<text x="1475.30" y="514.5" text-anchor="middle" class="t">0.0</text>
<line x1="1615.77" y1="461.50" x2="1615.77" y2="475.30" stroke="#000" stroke-width="3.0"/>
<text x="1615.77" y="514.5" text-anchor="middle" class="t">0.1</text>
<line x1="1756.24" y1="461.50" x2="1756.24" y2="475.30" stroke="#000" stroke-width="3.0"/>
<text x="1756.24" y="514.5" text-anchor="middle" class="t">0.2</text>
<line x1="1896.71" y1="461.50" x2="1896.71" y2="475.30" stroke="#000" stroke-width="3.0"/>
<text x="1896.71" y="514.5" text-anchor="middle" class="t">0.3</text>
<line x1="1438.20" y1="402.40" x2="1452.00" y2="402.40" stroke="#000" stroke-width="3.0"/>
<text x="1424.40" y="415.60" text-anchor="end" class="t">0.2</text>
<line x1="1438.20" y1="295.60" x2="1452.00" y2="295.60" stroke="#000" stroke-width="3.0"/>
<text x="1424.40" y="308.80" text-anchor="end" class="t">0.4</text>
<line x1="1438.20" y1="188.80" x2="1452.00" y2="188.80" stroke="#000" stroke-width="3.0"/>
<text x="1424.40" y="202.00" text-anchor="end" class="t">0.6</text>
<line x1="1438.20" y1="82.00" x2="1452.00" y2="82.00" stroke="#000" stroke-width="3.0"/>
<text x="1424.40" y="95.20" text-anchor="end" class="t">0.8</text>
<text x="425.4" y="566" text-anchor="middle" class="t">In-constraint Probability</text>
<text x="1038.5" y="566" text-anchor="middle" class="t">In-constraint Probability</text>
<text x="1729.0" y="566" text-anchor="middle" class="t">In-constraint Probability</text>
<text transform="translate(46.4 249.3) rotate(-90)" text-anchor="middle" class="t">Approximation Ratio</text>
<text x="0" y="39.3" class="L">(a)</text>
<text x="681.9" y="38.9" class="L">(b)</text>
<text x="1321.9" y="38.9" class="L">(c)</text>
<text x="217.5" y="77.8" class="L">14 qubits</text>
<text x="825.1" y="77.8" class="L">20 qubits</text>
</svg>
</body></html>
